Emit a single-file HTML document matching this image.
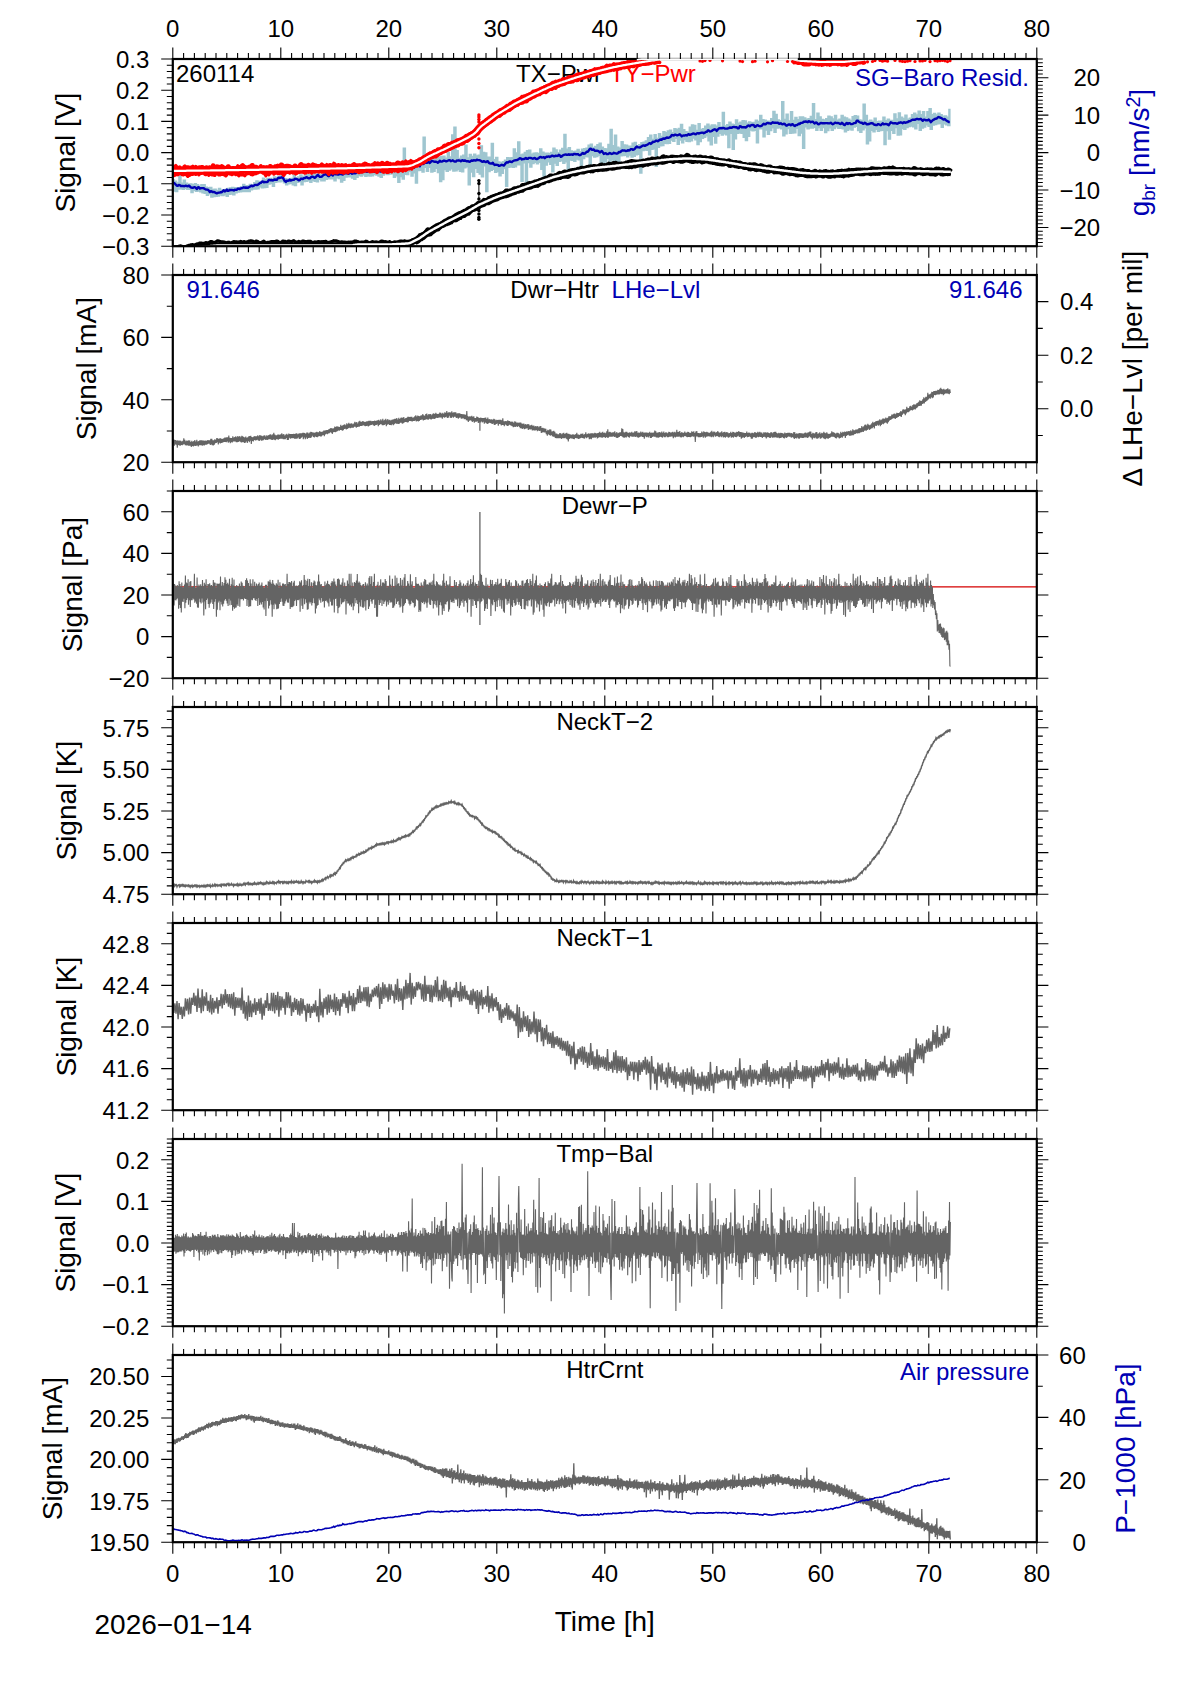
<!DOCTYPE html><html><head><meta charset="utf-8"><title>plot</title><style>html,body{margin:0;padding:0;background:#fff;width:1190px;height:1684px;overflow:hidden;}svg{display:block;}</style></head><body><svg width="1190" height="1684" viewBox="0 0 1190 1684">
<style>text{font-family:'Liberation Sans', Arial, Helvetica, sans-serif;} .a{font-size:24px;} .l{font-size:28px;} .t{font-size:24px;}</style>
<defs>
<clipPath id="c0"><rect x="172.8" y="59" width="864.0" height="187.2"/></clipPath>
<clipPath id="c1"><rect x="172.8" y="275" width="864.0" height="187.2"/></clipPath>
<clipPath id="c2"><rect x="172.8" y="491" width="864.0" height="187.2"/></clipPath>
<clipPath id="c3"><rect x="172.8" y="707" width="864.0" height="187.2"/></clipPath>
<clipPath id="c4"><rect x="172.8" y="923" width="864.0" height="187.2"/></clipPath>
<clipPath id="c5"><rect x="172.8" y="1139" width="864.0" height="187.2"/></clipPath>
<clipPath id="c6"><rect x="172.8" y="1355" width="864.0" height="187.2"/></clipPath>
</defs>
<rect width="1190" height="1684" fill="#fff"/>
<text x="176.0" y="82.3" class="t">260114</text>
<text x="602" y="81.9" text-anchor="end" class="t">TX−Pwr</text>
<text x="609.8" y="81.9" class="t" fill="#ff0000">TY−Pwr</text>
<text x="1029.0" y="85.8" text-anchor="end" class="t" fill="#0000b4">SG−Baro Resid.</text>
<g clip-path="url(#c0)"><path d="M172.8 180.4H173.9V190.5H175.0V181.7H176.1V191.1H177.2V183.4H178.3V188.5H179.4V174.5H180.5V188.2H181.6V183.7H182.7V188.8H183.8V180.7H184.9V188.1H186.0V183.8H187.1V188.9H188.2V184.7H189.3V188.7H190.4V184.5H191.5V192.1H192.6V185.2H193.7V189.8H194.8V184.2H195.9V190.7H197.0V185.2H198.1V190.5H199.2V186.8H200.3V191.3H201.4V185.2H202.5V192.2H203.6V185.3H204.7V192.7H205.8V187.6H206.9V194.7H208.0V188.1H209.1V193.4H210.2V188.0H211.3V196.6H212.4V189.9H213.5V196.1H214.6V189.8H215.7V195.9H216.8V191.0H217.9V195.5H219.0V189.0H220.1V194.6H221.2V190.6H222.3V195.1H223.4V190.2H224.5V194.4H225.6V189.9H226.7V195.8H227.8V188.9H228.9V193.7H230.0V188.5H231.1V193.5H232.2V188.0H233.3V194.3H234.4V188.3H235.5V192.4H236.6V188.1H237.7V191.5H238.8V188.2H239.9V191.4H241.0V187.3H242.1V191.1H243.2V185.0H244.3V191.0H245.4V186.4H246.5V191.1H247.6V186.1H248.7V191.0H249.8V184.9H250.9V189.3H252.0V185.7H253.1V188.5H254.2V183.1H255.3V188.6H256.4V181.4H257.5V188.2H258.6V182.0H259.7V186.4H260.8V182.2H261.9V187.4H263.0V178.8H264.1V187.1H265.2V180.3H266.3V186.9H267.4V178.9H268.5V183.6H269.6V178.9H270.7V183.0H271.8V179.4H272.9V185.7H274.0V177.5H275.1V181.9H276.2V178.0H277.3V181.4H278.4V177.3H279.5V181.2H280.6V175.7H281.7V180.5H282.8V177.2H283.9V182.3H285.0V179.2H286.1V184.3H287.2V179.6H288.3V183.2H289.4V179.5H290.5V182.7H291.6V179.0H292.7V184.2H293.8V175.8H294.9V185.1H296.0V178.4H297.1V181.8H298.2V177.5H299.3V181.1H300.4V175.4H301.5V184.4H302.6V177.3H303.7V181.0H304.8V175.7H305.9V180.9H307.0V174.9H308.1V180.4H309.2V175.3H310.3V181.8H311.4V176.3H312.5V180.1H313.6V174.3H314.7V180.7H315.8V175.2H316.9V181.4H318.0V173.0H319.1V178.9H320.2V175.1H321.3V180.3H322.4V174.8H323.5V180.3H324.6V173.2H325.7V178.9H326.8V173.6H327.9V178.4H329.0V170.0H330.1V178.2H331.2V172.3H332.3V178.3H333.4V173.9H334.5V180.3H335.6V171.6H336.7V177.3H337.8V173.4H338.9V178.0H340.0V169.9H341.1V181.6H342.2V172.4H343.3V179.8H344.4V171.7H345.5V176.6H346.6V172.9H347.7V176.4H348.8V170.6H349.9V176.3H351.0V172.4H352.1V177.6H353.2V172.2H354.3V178.8H355.4V170.9H356.5V176.9H357.6V169.9H358.7V175.0H359.8V171.4H360.9V175.5H362.0V169.2H363.1V174.3H364.2V170.5H365.3V175.9H366.4V170.6H367.5V175.2H368.6V168.6H369.7V175.5H370.8V169.8H371.9V175.3H373.0V168.4H374.1V174.1H375.2V170.0H376.3V174.6H377.4V168.6H378.5V175.5H379.6V170.2H380.7V176.8H381.8V168.5H382.9V174.6H384.0V169.8H385.1V173.4H386.2V169.7H387.3V174.0H388.4V167.9H389.5V173.5H390.6V168.2H391.7V173.4H392.8V165.8H393.9V176.9H395.0V168.3H396.1V175.4H397.2V168.0H398.3V181.8H399.4V163.2H400.5V176.0H401.6V164.8H402.7V178.6H403.8V148.7H404.9V173.7H406.0V162.4H407.1V174.1H408.2V164.3H409.3V170.9H410.4V163.2H411.5V175.5H412.6V161.3H413.7V172.4H414.8V162.8H415.9V182.6H417.0V160.7H418.1V170.1H419.2V159.0H420.3V169.7H421.4V159.0H422.5V171.6H423.6V137.8H424.7V166.8H425.8V158.3H426.9V170.7H428.0V155.3H429.1V166.9H430.2V153.9H431.3V171.6H432.4V156.5H433.5V170.8H434.6V158.8H435.7V167.9H436.8V157.2H437.9V172.1H439.0V157.7H440.1V181.0H441.2V157.1H442.3V179.1H443.4V156.8H444.5V169.0H445.6V158.7H446.7V170.7H447.8V153.0H448.9V169.5H450.0V157.4H451.1V168.3H452.2V135.4H453.3V170.6H454.4V127.8H455.5V170.3H456.6V151.2H457.7V169.0H458.8V159.0H459.9V170.7H461.0V156.7H462.1V171.3H463.2V155.8H464.3V167.2H465.4V145.8H466.5V166.3H467.6V158.5H468.7V184.4H469.8V155.0H470.9V171.6H472.0V157.0H473.1V176.0H474.2V154.7H475.3V167.9H476.4V156.4H477.5V171.8H478.6V155.7H479.7V173.5H480.8V146.5H481.9V176.2H483.0V153.0H484.1V165.3H485.2V153.5H486.3V191.0H487.4V157.8H488.5V171.1H489.6V157.6H490.7V169.9H491.8V143.9H492.9V168.8H494.0V160.3H495.1V171.7H496.2V157.9H497.3V171.1H498.4V162.4H499.5V175.3H500.6V163.3H501.7V172.7H502.8V162.1H503.9V168.1H505.0V160.7H506.1V185.7H507.2V158.2H508.3V166.9H509.4V158.4H510.5V166.3H511.6V158.2H512.7V166.8H513.8V149.5H514.9V166.2H516.0V153.5H517.1V164.3H518.2V142.4H519.3V164.4H520.4V155.5H521.5V180.9H522.6V154.6H523.7V162.4H524.8V152.9H525.9V183.7H527.0V151.1H528.1V162.0H529.2V150.7H530.3V166.6H531.4V154.8H532.5V163.1H533.6V153.7H534.7V161.7H535.8V153.4H536.9V163.2H538.0V153.9H539.1V161.7H540.2V149.4H541.3V168.7H542.4V152.8H543.5V183.9H544.6V153.6H545.7V164.5H546.8V153.7H547.9V161.4H549.0V153.9H550.1V163.7H551.2V153.0H552.3V171.3H553.4V148.7H554.5V162.6H555.6V150.5H556.7V164.7H557.8V153.3H558.9V160.7H560.0V150.8H561.1V160.4H562.2V149.0H563.3V162.9H564.4V135.0H565.5V161.3H566.6V149.7H567.7V168.9H568.8V148.1H569.9V159.5H571.0V151.4H572.1V159.9H573.2V152.1H574.3V160.8H575.4V151.8H576.5V158.6H577.6V150.0H578.7V159.4H579.8V152.1H580.9V168.0H582.0V149.6H583.1V158.1H584.2V149.1H585.3V156.1H586.4V148.7H587.5V156.3H588.6V145.8H589.7V164.6H590.8V144.7H591.9V155.0H593.0V148.0H594.1V156.5H595.2V146.9H596.3V156.1H597.4V145.1H598.5V154.7H599.6V143.7H600.7V161.7H601.8V147.8H602.9V161.8H604.0V149.1H605.1V161.5H606.2V149.4H607.3V157.7H608.4V145.0H609.5V161.3H610.6V129.9H611.7V159.2H612.8V146.3H613.9V160.9H615.0V135.7H616.1V164.3H617.2V147.7H618.3V161.3H619.4V148.7H620.5V155.2H621.6V142.2H622.7V155.0H623.8V145.5H624.9V154.8H626.0V145.7H627.1V156.3H628.2V146.8H629.3V154.5H630.4V146.6H631.5V156.6H632.6V143.8H633.7V155.8H634.8V143.0H635.9V154.4H637.0V146.2H638.1V153.8H639.2V145.2H640.3V172.6H641.4V143.2H642.5V150.0H643.6V142.7H644.7V149.6H645.8V141.5H646.9V149.7H648.0V138.3H649.1V154.2H650.2V135.8H651.3V148.8H652.4V139.9H653.5V148.4H654.6V135.2H655.7V165.8H656.8V139.0H657.9V146.7H659.0V134.1H660.1V145.4H661.2V136.9H662.3V145.1H663.4V132.3H664.5V142.8H665.6V133.2H666.7V143.0H667.8V131.4H668.9V142.7H670.0V130.7H671.1V139.5H672.2V133.1H673.3V140.7H674.4V129.1H675.5V137.7H676.6V130.0H677.7V143.9H678.8V129.0H679.9V139.6H681.0V124.9H682.1V142.3H683.2V130.3H684.3V139.1H685.4V132.3H686.5V140.8H687.6V132.7H688.7V141.0H689.8V127.7H690.9V140.2H692.0V125.4H693.1V137.5H694.2V126.0H695.3V139.3H696.4V130.9H697.5V144.0H698.6V124.1H699.7V141.0H700.8V129.9H701.9V137.8H703.0V129.1H704.1V136.9H705.2V126.7H706.3V135.2H707.4V124.8H708.5V140.3H709.6V126.6H710.7V144.4H711.8V125.4H712.9V135.8H714.0V125.4H715.1V142.6H716.2V126.8H717.3V135.6H718.4V123.1H719.5V132.8H720.6V127.1H721.7V134.6H722.8V112.9H723.9V133.2H725.0V126.4H726.1V134.2H727.2V125.1H728.3V147.0H729.4V122.6H730.5V132.9H731.6V124.7H732.7V148.9H733.8V125.3H734.9V138.3H736.0V120.4H737.1V132.7H738.2V123.7H739.3V132.2H740.4V122.7H741.5V132.9H742.6V121.3H743.7V136.8H744.8V121.4H745.9V140.1H747.0V123.6H748.1V135.8H749.2V122.4H750.3V129.5H751.4V123.3H752.5V130.3H753.6V123.0H754.7V129.7H755.8V120.6H756.9V142.2H758.0V122.0H759.1V128.3H760.2V115.9H761.3V128.3H762.4V120.3H763.5V136.3H764.6V120.6H765.7V129.6H766.8V121.6H767.9V133.9H769.0V121.8H770.1V130.1H771.2V119.3H772.3V127.4H773.4V111.9H774.5V131.7H775.6V115.0H776.7V127.5H777.8V120.5H778.9V127.3H780.0V121.5H781.1V128.2H782.2V102.2H783.3V135.4H784.4V120.0H785.5V133.4H786.6V114.7H787.7V128.0H788.8V121.4H789.9V132.9H791.0V112.3H792.1V132.6H793.2V121.0H794.3V132.2H795.4V117.9H796.5V127.8H797.6V120.3H798.7V135.0H799.8V117.4H800.9V132.5H802.0V117.4H803.1V147.8H804.2V118.4H805.3V126.3H806.4V119.8H807.5V128.4H808.6V119.3H809.7V127.5H810.8V117.0H811.9V127.6H813.0V104.3H814.1V126.9H815.2V120.2H816.3V129.9H817.4V113.7H818.5V127.1H819.6V117.5H820.7V129.7H821.8V119.9H822.9V127.1H824.0V120.5H825.1V132.1H826.2V119.1H827.3V130.1H828.4V116.6H829.5V127.4H830.6V117.5H831.7V129.8H832.8V119.4H833.9V128.1H835.0V116.0H836.1V126.4H837.2V120.7H838.3V127.8H839.4V119.6H840.5V127.9H841.6V115.9H842.7V128.4H843.8V117.7H844.9V131.3H846.0V118.4H847.1V129.7H848.2V119.7H849.3V128.5H850.4V120.9H851.5V129.5H852.6V117.2H853.7V126.5H854.8V116.2H855.9V125.8H857.0V116.7H858.1V130.0H859.2V120.5H860.3V131.9H861.4V121.0H862.5V129.3H863.6V104.6H864.7V127.3H865.8V116.0H866.9V143.4H868.0V121.7H869.1V140.3H870.2V120.8H871.3V129.8H872.4V122.0H873.5V131.2H874.6V118.6H875.7V128.8H876.8V122.3H877.9V130.9H879.0V121.6H880.1V130.1H881.2V121.7H882.3V129.9H883.4V117.7H884.5V144.0H885.6V121.1H886.7V130.0H887.8V119.7H888.9V138.6H890.0V120.9H891.1V129.9H892.2V121.0H893.3V132.7H894.4V114.5H895.5V127.1H896.6V119.5H897.7V134.5H898.8V113.4H899.9V134.3H901.0V117.8H902.1V128.1H903.2V118.9H904.3V128.8H905.4V115.6H906.5V127.0H907.6V119.6H908.7V126.0H909.8V118.7H910.9V125.5H912.0V115.1H913.1V126.2H914.2V113.6H915.3V128.3H916.4V115.5H917.5V122.8H918.6V111.6H919.7V129.7H920.8V115.3H921.9V127.5H923.0V112.2H924.1V126.5H925.2V117.6H926.3V124.2H927.4V112.2H928.5V125.7H929.6V109.2H930.7V128.9H931.8V115.2H932.9V124.6H934.0V114.0H935.1V124.0H936.2V115.5H937.3V123.3H938.4V113.8H939.5V123.0H940.6V115.2H941.7V126.7H942.8V116.7H943.9V123.3H945.0V116.5H946.1V124.4H947.2V117.7H948.3V125.1H949.4V108.7" stroke="#9fc6d0" stroke-width="2.4" fill="none" stroke-linejoin="miter"/><polyline points="172.8,182.8 173.8,182.9 174.8,183.5 175.8,184.7 176.8,185.7 177.8,185.7 178.8,184.9 179.8,185.1 180.8,186.0 181.8,186.0 182.8,185.9 183.8,186.2 184.8,186.0 185.8,185.7 186.8,186.1 187.8,186.2 188.8,185.6 189.8,186.3 190.8,187.3 191.8,187.7 192.8,187.8 193.8,187.4 194.8,187.1 195.8,187.9 196.8,189.0 197.8,187.4 198.8,187.2 199.8,188.6 200.8,188.2 201.8,188.1 202.8,188.1 203.8,188.3 204.8,189.0 205.8,189.5 206.8,189.6 207.8,189.7 208.8,190.6 209.8,191.9 210.8,191.2 211.8,191.5 212.8,192.1 213.8,191.9 214.8,192.3 215.8,192.9 216.8,193.3 217.8,192.9 218.8,192.6 219.8,192.6 220.8,192.2 221.8,192.2 222.8,191.1 223.8,190.3 224.8,191.4 225.8,190.8 226.8,189.6 227.8,190.9 228.8,190.7 229.8,189.8 230.8,190.2 231.8,189.9 232.8,190.1 233.8,190.5 234.8,189.6 235.8,189.9 236.8,189.7 237.8,188.6 238.8,188.8 239.8,189.0 240.8,188.4 241.8,188.3 242.8,187.7 243.8,187.2 244.8,187.7 245.8,187.5 246.8,187.7 247.8,187.9 248.8,187.3 249.8,186.8 250.8,186.1 251.8,185.6 252.8,186.3 253.8,185.8 254.8,184.9 255.8,184.9 256.8,185.0 257.8,184.8 258.8,184.1 259.8,183.1 260.8,182.9 261.8,181.7 262.8,181.5 263.8,182.2 264.8,182.0 265.8,182.1 266.8,182.1 267.8,181.6 268.8,179.9 269.8,179.9 270.8,180.3 271.8,180.0 272.8,180.5 273.8,179.9 274.8,179.4 275.8,179.9 276.8,179.9 277.8,178.3 278.8,177.7 279.8,178.0 280.8,177.6 281.8,177.3 282.8,177.7 283.8,179.4 284.8,181.1 285.8,181.9 286.8,180.6 287.8,180.7 288.8,180.5 289.8,179.6 290.8,180.5 291.8,180.2 292.8,179.9 293.8,179.8 294.8,178.8 295.8,178.9 296.8,179.0 297.8,179.5 298.8,180.4 299.8,180.1 300.8,178.7 301.8,178.6 302.8,179.1 303.8,178.3 304.8,178.1 305.8,177.5 306.8,177.3 307.8,177.9 308.8,178.4 309.8,178.2 310.8,177.4 311.8,176.8 312.8,176.6 313.8,177.4 314.8,177.8 315.8,177.0 316.8,175.9 317.8,174.9 318.8,175.9 319.8,176.8 320.8,176.9 321.8,176.6 322.8,175.7 323.8,174.8 324.8,174.6 325.8,174.2 326.8,174.7 327.8,175.8 328.8,176.2 329.8,175.1 330.8,173.7 331.8,174.7 332.8,175.4 333.8,174.1 334.8,173.6 335.8,174.4 336.8,174.4 337.8,174.5 338.8,174.5 339.8,174.0 340.8,174.1 341.8,174.2 342.8,174.5 343.8,173.7 344.8,173.0 345.8,173.3 346.8,173.2 347.8,173.5 348.8,173.8 349.8,172.6 350.8,172.7 351.8,173.8 352.8,173.4 353.8,173.1 354.8,173.2 355.8,173.2 356.8,171.9 357.8,171.3 358.8,171.9 359.8,171.9 360.8,171.7 361.8,172.1 362.8,171.7 363.8,171.0 364.8,171.0 365.8,171.3 366.8,171.9 367.8,171.4 368.8,171.4 369.8,171.5 370.8,171.9 371.8,171.1 372.8,170.4 373.8,171.9 374.8,171.7 375.8,170.6 376.8,170.3 377.8,171.0 378.8,171.1 379.8,171.3 380.8,171.5 381.8,170.8 382.8,170.5 383.8,170.9 384.8,171.5 385.8,170.9 386.8,169.8 387.8,169.6 388.8,170.3 389.8,171.6 390.8,171.1 391.8,170.5 392.8,170.5 393.8,170.6 394.8,170.0 395.8,169.8 396.8,169.8 397.8,169.1 398.8,169.8 399.8,170.0 400.8,169.6 401.8,169.6 402.8,169.4 403.8,169.6 404.8,169.5 405.8,168.1 406.8,167.4 407.8,167.3 408.8,166.8 409.8,167.6 410.8,167.2 411.8,166.7 412.8,167.5 413.8,167.9 414.8,167.0 415.8,165.6 416.8,165.5 417.8,165.0 418.8,165.4 419.8,166.2 420.8,164.1 421.8,162.8 422.8,164.1 423.8,163.6 424.8,162.5 425.8,162.7 426.8,162.8 427.8,162.4 428.8,162.1 429.8,163.0 430.8,161.9 431.8,160.8 432.8,161.2 433.8,161.5 434.8,161.7 435.8,161.8 436.8,161.9 437.8,162.7 438.8,162.0 439.8,160.7 440.8,161.6 441.8,161.6 442.8,161.2 443.8,160.6 444.8,160.7 445.8,161.3 446.8,161.2 447.8,160.7 448.8,160.2 449.8,160.2 450.8,161.2 451.8,160.8 452.8,160.3 453.8,161.2 454.8,161.6 455.8,161.6 456.8,160.5 457.8,160.6 458.8,160.3 459.8,160.6 460.8,161.3 461.8,160.5 462.8,160.3 463.8,160.9 464.8,160.4 465.8,160.9 466.8,161.3 467.8,161.2 468.8,161.5 469.8,161.7 470.8,161.0 471.8,160.4 472.8,160.9 473.8,160.1 474.8,160.5 475.8,160.6 476.8,159.8 477.8,160.0 478.8,160.1 479.8,160.3 480.8,160.8 481.8,161.6 482.8,161.8 483.8,161.1 484.8,161.7 485.8,162.1 486.8,161.5 487.8,161.3 488.8,162.7 489.8,163.4 490.8,163.5 491.8,163.5 492.8,162.7 493.8,164.3 494.8,165.0 495.8,164.6 496.8,164.9 497.8,164.9 498.8,165.9 499.8,165.7 500.8,165.2 501.8,164.8 502.8,165.2 503.8,165.6 504.8,164.5 505.8,163.0 506.8,162.3 507.8,162.6 508.8,161.8 509.8,161.4 510.8,161.9 511.8,162.1 512.8,161.2 513.8,160.7 514.8,160.4 515.8,160.2 516.8,160.1 517.8,159.6 518.8,159.0 519.8,158.3 520.8,158.4 521.8,159.5 522.8,159.0 523.8,159.1 524.8,158.7 525.8,158.0 526.8,158.8 527.8,158.9 528.8,157.9 529.8,157.9 530.8,158.0 531.8,158.3 532.8,158.8 533.8,158.2 534.8,158.0 535.8,158.8 536.8,159.1 537.8,158.6 538.8,158.0 539.8,157.2 540.8,156.9 541.8,157.6 542.8,157.4 543.8,157.1 544.8,158.2 545.8,157.2 546.8,156.6 547.8,156.7 548.8,156.4 549.8,157.0 550.8,156.5 551.8,155.6 552.8,155.8 553.8,156.4 554.8,156.3 555.8,155.6 556.8,156.0 557.8,155.9 558.8,154.8 559.8,155.3 560.8,156.8 561.8,156.4 562.8,155.3 563.8,155.0 564.8,154.6 565.8,154.5 566.8,154.8 567.8,154.9 568.8,154.3 569.8,154.9 570.8,154.5 571.8,154.4 572.8,154.9 573.8,154.0 574.8,154.0 575.8,154.2 576.8,154.2 577.8,154.1 578.8,154.8 579.8,155.2 580.8,154.8 581.8,153.7 582.8,152.9 583.8,153.7 584.8,153.6 585.8,152.6 586.8,151.8 587.8,151.7 588.8,150.4 589.8,149.0 590.8,148.7 591.8,149.7 592.8,149.9 593.8,149.4 594.8,150.8 595.8,150.9 596.8,150.6 597.8,150.9 598.8,151.3 599.8,152.4 600.8,151.7 601.8,150.9 602.8,152.4 603.8,153.9 604.8,153.4 605.8,153.3 606.8,154.1 607.8,154.1 608.8,153.6 609.8,152.9 610.8,153.6 611.8,154.0 612.8,153.6 613.8,152.8 614.8,153.3 615.8,153.4 616.8,153.7 617.8,153.4 618.8,152.0 619.8,152.2 620.8,151.6 621.8,150.6 622.8,150.3 623.8,150.6 624.8,150.4 625.8,151.1 626.8,150.9 627.8,150.2 628.8,150.6 629.8,150.2 630.8,149.1 631.8,149.1 632.8,149.8 633.8,149.5 634.8,148.8 635.8,147.5 636.8,146.6 637.8,147.2 638.8,147.4 639.8,147.5 640.8,146.9 641.8,146.3 642.8,145.6 643.8,145.4 644.8,145.9 645.8,145.2 646.8,145.0 647.8,144.5 648.8,143.5 649.8,143.1 650.8,143.9 651.8,143.0 652.8,141.8 653.8,142.0 654.8,141.6 655.8,140.8 656.8,140.7 657.8,141.3 658.8,140.5 659.8,139.7 660.8,139.5 661.8,139.7 662.8,138.7 663.8,138.5 664.8,138.7 665.8,138.1 666.8,137.5 667.8,137.7 668.8,137.8 669.8,137.3 670.8,136.5 671.8,135.0 672.8,135.3 673.8,135.5 674.8,134.8 675.8,134.7 676.8,135.3 677.8,135.2 678.8,134.7 679.8,134.3 680.8,135.3 681.8,136.4 682.8,135.6 683.8,135.4 684.8,135.5 685.8,135.1 686.8,135.5 687.8,134.6 688.8,134.2 689.8,134.9 690.8,134.5 691.8,134.2 692.8,133.6 693.8,133.4 694.8,134.1 695.8,134.2 696.8,133.4 697.8,133.2 698.8,133.5 699.8,133.2 700.8,132.9 701.8,132.6 702.8,132.6 703.8,133.2 704.8,132.7 705.8,131.9 706.8,131.9 707.8,130.5 708.8,130.5 709.8,131.5 710.8,131.4 711.8,131.0 712.8,130.1 713.8,129.7 714.8,129.3 715.8,129.7 716.8,130.9 717.8,129.5 718.8,128.5 719.8,128.3 720.8,128.1 721.8,128.3 722.8,128.0 723.8,127.9 724.8,128.6 725.8,128.6 726.8,128.6 727.8,128.5 728.8,128.1 729.8,127.5 730.8,127.8 731.8,127.8 732.8,127.1 733.8,126.9 734.8,127.2 735.8,127.2 736.8,127.2 737.8,128.4 738.8,128.2 739.8,126.2 740.8,126.4 741.8,127.4 742.8,127.1 743.8,127.2 744.8,127.3 745.8,127.5 746.8,126.8 747.8,125.6 748.8,125.5 749.8,126.3 750.8,125.4 751.8,125.0 752.8,124.9 753.8,125.2 754.8,126.8 755.8,126.5 756.8,125.4 757.8,125.2 758.8,125.9 759.8,126.2 760.8,126.1 761.8,125.7 762.8,124.5 763.8,123.8 764.8,124.4 765.8,124.3 766.8,123.1 767.8,122.9 768.8,123.3 769.8,123.4 770.8,123.7 771.8,122.9 772.8,122.2 773.8,122.8 774.8,122.7 775.8,122.7 776.8,122.9 777.8,122.6 778.8,123.5 779.8,123.8 780.8,123.3 781.8,124.1 782.8,124.3 783.8,123.7 784.8,123.9 785.8,125.4 786.8,125.7 787.8,124.8 788.8,124.5 789.8,124.5 790.8,125.3 791.8,124.5 792.8,124.2 793.8,125.5 794.8,126.0 795.8,125.1 796.8,125.1 797.8,124.5 798.8,123.7 799.8,124.0 800.8,122.9 801.8,122.9 802.8,122.6 803.8,121.6 804.8,121.9 805.8,121.4 806.8,121.8 807.8,122.2 808.8,121.2 809.8,121.6 810.8,122.3 811.8,121.8 812.8,121.7 813.8,122.7 814.8,123.5 815.8,122.5 816.8,122.7 817.8,124.0 818.8,124.2 819.8,123.6 820.8,122.9 821.8,123.2 822.8,123.3 823.8,123.2 824.8,123.2 825.8,123.1 826.8,123.1 827.8,123.2 828.8,123.4 829.8,123.2 830.8,122.8 831.8,123.6 832.8,124.2 833.8,123.7 834.8,122.8 835.8,122.8 836.8,123.1 837.8,123.0 838.8,123.1 839.8,123.9 840.8,124.0 841.8,122.7 842.8,123.5 843.8,124.7 844.8,125.1 845.8,123.7 846.8,122.9 847.8,123.9 848.8,123.2 849.8,123.3 850.8,124.0 851.8,124.1 852.8,123.9 853.8,123.1 854.8,123.0 855.8,122.8 856.8,120.6 857.8,120.6 858.8,121.8 859.8,122.3 860.8,122.7 861.8,122.6 862.8,123.7 863.8,123.7 864.8,122.7 865.8,123.3 866.8,124.3 867.8,124.2 868.8,124.0 869.8,123.8 870.8,123.3 871.8,123.2 872.8,123.4 873.8,124.4 874.8,124.8 875.8,125.0 876.8,125.1 877.8,124.1 878.8,124.3 879.8,124.8 880.8,125.3 881.8,124.2 882.8,123.3 883.8,124.3 884.8,124.1 885.8,123.9 886.8,124.1 887.8,124.6 888.8,125.2 889.8,123.6 890.8,122.2 891.8,122.7 892.8,123.3 893.8,123.4 894.8,123.1 895.8,123.3 896.8,123.8 897.8,123.5 898.8,122.8 899.8,122.7 900.8,122.3 901.8,122.6 902.8,123.2 903.8,122.3 904.8,122.5 905.8,122.7 906.8,122.2 907.8,122.0 908.8,121.2 909.8,121.3 910.8,120.7 911.8,120.0 912.8,119.6 913.8,119.7 914.8,119.9 915.8,119.3 916.8,118.9 917.8,119.0 918.8,119.4 919.8,119.1 920.8,118.8 921.8,119.8 922.8,120.8 923.8,119.6 924.8,119.6 925.8,120.4 926.8,120.1 927.8,120.2 928.8,119.5 929.8,120.5 930.8,122.2 931.8,121.2 932.8,120.1 933.8,119.7 934.8,119.0 935.8,118.7 936.8,118.6 937.8,117.4 938.8,117.0 939.8,117.5 940.8,117.8 941.8,118.3 942.8,119.2 943.8,119.6 944.8,118.9 945.8,120.1 946.8,120.9 947.8,121.3 948.8,122.0 949.8,122.0" stroke="#0000b4" stroke-width="2.4" fill="none" stroke-linejoin="round"/><polyline points="172.8,249.0 173.8,248.9 174.8,248.9 175.8,248.8 176.8,248.8 177.8,248.7 178.8,248.7 179.8,248.6 180.8,248.5 181.8,248.5 182.8,248.4 183.8,248.4 184.8,248.3 185.8,248.2 186.8,248.2 187.8,248.1 188.8,248.1 189.8,248.0 190.8,247.9 191.8,247.8 192.8,247.7 193.8,247.7 194.8,247.6 195.8,247.5 196.8,247.4 197.8,247.3 198.8,247.2 199.8,247.1 200.8,247.0 201.8,246.9 202.8,246.8 203.8,246.8 204.8,246.7 205.8,246.6 206.8,246.5 207.8,246.4 208.8,246.3 209.8,246.2 210.8,246.1 211.8,246.0 212.8,245.9 213.8,245.8 214.8,245.7 215.8,245.7 216.8,245.6 217.8,245.6 218.8,245.6 219.8,245.6 220.8,245.6 221.8,245.6 222.8,245.6 223.8,245.6 224.8,245.6 225.8,245.6 226.8,245.6 227.8,245.6 228.8,245.6 229.8,245.6 230.8,245.6 231.8,245.6 232.8,245.6 233.8,245.6 234.8,245.6 235.8,245.6 236.8,245.6 237.8,245.6 238.8,245.6 239.8,245.6 240.8,245.6 241.8,245.6 242.8,245.6 243.8,245.6 244.8,245.6 245.8,245.6 246.8,245.6 247.8,245.6 248.8,245.6 249.8,245.6 250.8,245.6 251.8,245.6 252.8,245.6 253.8,245.6 254.8,245.6 255.8,245.6 256.8,245.6 257.8,245.6 258.8,245.6 259.8,245.6 260.8,245.6 261.8,245.6 262.8,245.6 263.8,245.6 264.8,245.6 265.8,245.6 266.8,245.6 267.8,245.6 268.8,245.6 269.8,245.6 270.8,245.6 271.8,245.6 272.8,245.6 273.8,245.6 274.8,245.6 275.8,245.6 276.8,245.6 277.8,245.6 278.8,245.6 279.8,245.6 280.8,245.6 281.8,245.6 282.8,245.6 283.8,245.6 284.8,245.6 285.8,245.6 286.8,245.6 287.8,245.6 288.8,245.6 289.8,245.6 290.8,245.6 291.8,245.6 292.8,245.6 293.8,245.6 294.8,245.6 295.8,245.6 296.8,245.6 297.8,245.6 298.8,245.6 299.8,245.6 300.8,245.6 301.8,245.6 302.8,245.6 303.8,245.6 304.8,245.6 305.8,245.6 306.8,245.6 307.8,245.6 308.8,245.6 309.8,245.6 310.8,245.6 311.8,245.6 312.8,245.6 313.8,245.5 314.8,245.5 315.8,245.5 316.8,245.5 317.8,245.5 318.8,245.5 319.8,245.5 320.8,245.5 321.8,245.5 322.8,245.5 323.8,245.5 324.8,245.5 325.8,245.5 326.8,245.5 327.8,245.5 328.8,245.5 329.8,245.5 330.8,245.5 331.8,245.5 332.8,245.5 333.8,245.5 334.8,245.5 335.8,245.5 336.8,245.5 337.8,245.5 338.8,245.5 339.8,245.4 340.8,245.4 341.8,245.4 342.8,245.4 343.8,245.4 344.8,245.4 345.8,245.4 346.8,245.4 347.8,245.4 348.8,245.4 349.8,245.4 350.8,245.4 351.8,245.4 352.8,245.3 353.8,245.1 354.8,245.0 355.8,244.8 356.8,244.7 357.8,244.6 358.8,244.6 359.8,244.6 360.8,244.6 361.8,244.6 362.8,244.6 363.8,244.6 364.8,244.6 365.8,244.6 366.8,244.6 367.8,244.6 368.8,244.6 369.8,244.6 370.8,244.6 371.8,244.6 372.8,244.6 373.8,244.5 374.8,244.5 375.8,244.5 376.8,244.5 377.8,244.5 378.8,244.5 379.8,244.5 380.8,244.5 381.8,244.5 382.8,244.5 383.8,244.5 384.8,244.5 385.8,244.5 386.8,244.5 387.8,244.5 388.8,244.5 389.8,244.5 390.8,244.4 391.8,244.4 392.8,244.3 393.8,244.3 394.8,244.2 395.8,244.2 396.8,244.1 397.8,244.1 398.8,244.0 399.8,243.9 400.8,243.9 401.8,243.8 402.8,243.8 403.8,243.7 404.8,243.7 405.8,243.6 406.8,243.5 407.8,243.4 408.8,243.3 409.8,243.0 410.8,242.6 411.8,242.2 412.8,241.7 413.8,241.2 414.8,240.7 415.8,240.2 416.8,239.7 417.8,239.2 418.8,238.6 419.8,238.0 420.8,237.3 421.8,236.6 422.8,235.9 423.8,235.2 424.8,234.5 425.8,233.8 426.8,233.1 427.8,232.5 428.8,231.8 429.8,231.2 430.8,230.6 431.8,230.1 432.8,229.5 433.8,229.0 434.8,228.4 435.8,227.9 436.8,227.4 437.8,226.8 438.8,226.3 439.8,225.7 440.8,225.2 441.8,224.6 442.8,224.1 443.8,223.5 444.8,223.0 445.8,222.4 446.8,221.9 447.8,221.3 448.8,220.8 449.8,220.3 450.8,219.8 451.8,219.3 452.8,218.8 453.8,218.3 454.8,217.8 455.8,217.3 456.8,216.8 457.8,216.3 458.8,215.8 459.8,215.3 460.8,214.8 461.8,214.3 462.8,213.8 463.8,213.3 464.8,212.8 465.8,212.3 466.8,211.8 467.8,211.3 468.8,210.7 469.8,210.1 470.8,209.5 471.8,209.0 472.8,208.4 473.8,207.8 474.8,207.2 475.8,206.6 476.8,206.0 477.8,205.5 478.8,204.9 479.8,204.4 480.8,204.0 481.8,203.5 482.8,203.1 483.8,202.6 484.8,202.2 485.8,201.7 486.8,201.3 487.8,200.9 488.8,200.4 489.8,200.0 490.8,199.5 491.8,199.1 492.8,198.6 493.8,198.2 494.8,197.8 495.8,197.4 496.8,197.0 497.8,196.6 498.8,196.2 499.8,195.9 500.8,195.5 501.8,195.2 502.8,194.8 503.8,194.5 504.8,194.1 505.8,193.8 506.8,193.4 507.8,193.0 508.8,192.7 509.8,192.3 510.8,192.0 511.8,191.6 512.8,191.3 513.8,190.9 514.8,190.6 515.8,190.2 516.8,189.9 517.8,189.5 518.8,189.2 519.8,188.8 520.8,188.5 521.8,188.1 522.8,187.8 523.8,187.4 524.8,187.1 525.8,186.7 526.8,186.4 527.8,186.0 528.8,185.7 529.8,185.3 530.8,185.0 531.8,184.6 532.8,184.3 533.8,183.9 534.8,183.6 535.8,183.2 536.8,182.9 537.8,182.5 538.8,182.2 539.8,181.8 540.8,181.5 541.8,181.1 542.8,180.8 543.8,180.4 544.8,180.1 545.8,179.8 546.8,179.4 547.8,179.1 548.8,178.7 549.8,178.4 550.8,178.0 551.8,177.7 552.8,177.3 553.8,177.0 554.8,176.7 555.8,176.4 556.8,176.2 557.8,175.9 558.8,175.7 559.8,175.4 560.8,175.1 561.8,174.9 562.8,174.6 563.8,174.4 564.8,174.1 565.8,173.9 566.8,173.6 567.8,173.4 568.8,173.1 569.8,172.9 570.8,172.6 571.8,172.4 572.8,172.1 573.8,171.9 574.8,171.7 575.8,171.5 576.8,171.3 577.8,171.1 578.8,170.9 579.8,170.7 580.8,170.5 581.8,170.3 582.8,170.1 583.8,169.9 584.8,169.7 585.8,169.5 586.8,169.3 587.8,169.1 588.8,168.9 589.8,168.7 590.8,168.5 591.8,168.3 592.8,168.2 593.8,168.0 594.8,167.9 595.8,167.8 596.8,167.7 597.8,167.6 598.8,167.5 599.8,167.4 600.8,167.3 601.8,167.2 602.8,167.1 603.8,167.0 604.8,166.9 605.8,166.8 606.8,166.7 607.8,166.6 608.8,166.5 609.8,166.4 610.8,166.3 611.8,166.2 612.8,166.1 613.8,166.0 614.8,165.9 615.8,165.7 616.8,165.6 617.8,165.5 618.8,165.4 619.8,165.3 620.8,165.2 621.8,165.1 622.8,164.9 623.8,164.8 624.8,164.7 625.8,164.6 626.8,164.5 627.8,164.4 628.8,164.3 629.8,164.1 630.8,164.0 631.8,163.9 632.8,163.7 633.8,163.6 634.8,163.5 635.8,163.4 636.8,163.2 637.8,163.1 638.8,163.0 639.8,162.8 640.8,162.7 641.8,162.6 642.8,162.5 643.8,162.3 644.8,162.2 645.8,162.1 646.8,161.9 647.8,161.8 648.8,161.7 649.8,161.6 650.8,161.4 651.8,161.3 652.8,161.2 653.8,161.1 654.8,161.0 655.8,160.9 656.8,160.7 657.8,160.6 658.8,160.5 659.8,160.4 660.8,160.3 661.8,160.1 662.8,160.0 663.8,159.9 664.8,159.8 665.8,159.7 666.8,159.6 667.8,159.5 668.8,159.4 669.8,159.3 670.8,159.3 671.8,159.2 672.8,159.2 673.8,159.1 674.8,159.0 675.8,159.0 676.8,158.9 677.8,158.9 678.8,158.8 679.8,158.8 680.8,158.7 681.8,158.7 682.8,158.6 683.8,158.6 684.8,158.5 685.8,158.5 686.8,158.5 687.8,158.5 688.8,158.5 689.8,158.5 690.8,158.6 691.8,158.6 692.8,158.7 693.8,158.7 694.8,158.8 695.8,158.8 696.8,158.9 697.8,158.9 698.8,159.0 699.8,159.0 700.8,159.1 701.8,159.2 702.8,159.2 703.8,159.3 704.8,159.3 705.8,159.4 706.8,159.5 707.8,159.6 708.8,159.7 709.8,159.9 710.8,160.0 711.8,160.2 712.8,160.3 713.8,160.5 714.8,160.6 715.8,160.8 716.8,160.9 717.8,161.1 718.8,161.2 719.8,161.4 720.8,161.5 721.8,161.7 722.8,161.8 723.8,162.0 724.8,162.1 725.8,162.3 726.8,162.4 727.8,162.6 728.8,162.8 729.8,162.9 730.8,163.1 731.8,163.3 732.8,163.5 733.8,163.6 734.8,163.8 735.8,164.0 736.8,164.1 737.8,164.3 738.8,164.5 739.8,164.7 740.8,164.8 741.8,165.0 742.8,165.2 743.8,165.3 744.8,165.5 745.8,165.6 746.8,165.8 747.8,165.9 748.8,166.1 749.8,166.2 750.8,166.3 751.8,166.4 752.8,166.6 753.8,166.7 754.8,166.8 755.8,167.0 756.8,167.1 757.8,167.2 758.8,167.3 759.8,167.5 760.8,167.6 761.8,167.7 762.8,167.9 763.8,168.0 764.8,168.1 765.8,168.3 766.8,168.4 767.8,168.5 768.8,168.6 769.8,168.8 770.8,168.9 771.8,169.0 772.8,169.2 773.8,169.3 774.8,169.4 775.8,169.5 776.8,169.7 777.8,169.8 778.8,169.9 779.8,170.1 780.8,170.2 781.8,170.3 782.8,170.4 783.8,170.6 784.8,170.7 785.8,170.8 786.8,170.9 787.8,171.1 788.8,171.2 789.8,171.3 790.8,171.4 791.8,171.6 792.8,171.7 793.8,171.8 794.8,171.9 795.8,172.1 796.8,172.2 797.8,172.3 798.8,172.4 799.8,172.6 800.8,172.7 801.8,172.8 802.8,172.9 803.8,173.0 804.8,173.1 805.8,173.1 806.8,173.2 807.8,173.2 808.8,173.3 809.8,173.3 810.8,173.4 811.8,173.4 812.8,173.5 813.8,173.5 814.8,173.6 815.8,173.6 816.8,173.6 817.8,173.6 818.8,173.7 819.8,173.7 820.8,173.7 821.8,173.7 822.8,173.7 823.8,173.7 824.8,173.7 825.8,173.7 826.8,173.8 827.8,173.8 828.8,173.8 829.8,173.8 830.8,173.7 831.8,173.7 832.8,173.7 833.8,173.6 834.8,173.6 835.8,173.5 836.8,173.5 837.8,173.4 838.8,173.4 839.8,173.3 840.8,173.2 841.8,173.2 842.8,173.1 843.8,173.1 844.8,173.0 845.8,173.0 846.8,172.9 847.8,172.9 848.8,172.8 849.8,172.7 850.8,172.6 851.8,172.6 852.8,172.5 853.8,172.4 854.8,172.3 855.8,172.3 856.8,172.2 857.8,172.1 858.8,172.0 859.8,171.9 860.8,171.9 861.8,171.8 862.8,171.7 863.8,171.6 864.8,171.6 865.8,171.5 866.8,171.4 867.8,171.4 868.8,171.3 869.8,171.3 870.8,171.2 871.8,171.2 872.8,171.1 873.8,171.1 874.8,171.0 875.8,171.0 876.8,170.9 877.8,170.9 878.8,170.8 879.8,170.8 880.8,170.7 881.8,170.7 882.8,170.6 883.8,170.6 884.8,170.6 885.8,170.6 886.8,170.6 887.8,170.6 888.8,170.6 889.8,170.6 890.8,170.6 891.8,170.6 892.8,170.6 893.8,170.6 894.8,170.6 895.8,170.6 896.8,170.6 897.8,170.6 898.8,170.6 899.8,170.6 900.8,170.6 901.8,170.6 902.8,170.7 903.8,170.7 904.8,170.7 905.8,170.7 906.8,170.8 907.8,170.8 908.8,170.8 909.8,170.9 910.8,170.9 911.8,170.9 912.8,170.9 913.8,171.0 914.8,171.0 915.8,171.0 916.8,171.1 917.8,171.1 918.8,171.1 919.8,171.1 920.8,171.2 921.8,171.2 922.8,171.2 923.8,171.2 924.8,171.2 925.8,171.3 926.8,171.3 927.8,171.3 928.8,171.3 929.8,171.4 930.8,171.4 931.8,171.4 932.8,171.4 933.8,171.5 934.8,171.5 935.8,171.5 936.8,171.5 937.8,171.5 938.8,171.6 939.8,171.6 940.8,171.6 941.8,171.6 942.8,171.6 943.8,171.7 944.8,171.7 945.8,171.7 946.8,171.7 947.8,171.7 948.8,171.8 949.8,171.8 950.8,171.8" stroke="#000" stroke-width="6.5" fill="none" stroke-linejoin="round"/><polyline points="172.8,247.0 173.8,247.0 174.8,247.1 175.8,247.1 176.8,247.0 177.8,247.1 178.8,246.4 179.8,246.1 180.8,245.9 181.8,246.3 182.8,246.9 183.8,247.1 184.8,247.0 185.8,246.7 186.8,246.1 187.8,245.9 188.8,245.4 189.8,245.2 190.8,244.9 191.8,244.7 192.8,244.7 193.8,244.9 194.8,245.1 195.8,244.5 196.8,244.1 197.8,243.7 198.8,243.5 199.8,243.1 200.8,243.1 201.8,243.2 202.8,243.6 203.8,243.4 204.8,243.2 205.8,242.6 206.8,242.8 207.8,242.9 208.8,242.8 209.8,241.9 210.8,241.5 211.8,241.5 212.8,242.3 213.8,242.3 214.8,242.4 215.8,242.0 216.8,241.3 217.8,240.8 218.8,241.0 219.8,241.4 220.8,242.1 221.8,241.8 222.8,241.9 223.8,242.1 224.8,242.1 225.8,243.1 226.8,242.6 227.8,242.4 228.8,242.2 229.8,242.7 230.8,243.3 231.8,242.6 232.8,242.2 233.8,241.5 234.8,241.7 235.8,241.9 236.8,241.8 237.8,242.7 238.8,241.9 239.8,241.9 240.8,241.4 241.8,241.8 242.8,242.1 243.8,241.6 244.8,241.9 245.8,242.0 246.8,242.2 247.8,241.7 248.8,241.2 249.8,241.2 250.8,240.8 251.8,241.1 252.8,241.2 253.8,242.1 254.8,242.2 255.8,241.2 256.8,241.2 257.8,241.6 258.8,242.3 259.8,242.6 260.8,242.6 261.8,242.1 262.8,241.6 263.8,241.1 264.8,242.1 265.8,242.5 266.8,242.7 267.8,242.4 268.8,242.3 269.8,242.1 270.8,241.8 271.8,241.5 272.8,241.6 273.8,241.6 274.8,241.7 275.8,241.4 276.8,241.1 277.8,241.3 278.8,242.2 279.8,243.1 280.8,242.3 281.8,241.9 282.8,241.1 283.8,241.5 284.8,241.3 285.8,241.7 286.8,242.0 287.8,241.3 288.8,241.0 289.8,241.2 290.8,241.9 291.8,241.6 292.8,241.0 293.8,240.7 294.8,241.5 295.8,242.3 296.8,242.2 297.8,242.1 298.8,241.4 299.8,241.9 300.8,241.7 301.8,241.5 302.8,241.1 303.8,241.0 304.8,241.7 305.8,241.7 306.8,242.1 307.8,241.4 308.8,241.4 309.8,241.3 310.8,241.4 311.8,242.2 312.8,242.6 313.8,242.4 314.8,241.9 315.8,242.0 316.8,242.0 317.8,241.7 318.8,241.7 319.8,241.8 320.8,242.1 321.8,241.7 322.8,242.0 323.8,241.5 324.8,241.5 325.8,241.3 326.8,242.2 327.8,242.4 328.8,242.6 329.8,242.0 330.8,242.0 331.8,241.5 332.8,241.2 333.8,240.7 334.8,241.0 335.8,240.8 336.8,241.2 337.8,241.3 338.8,242.2 339.8,242.0 340.8,242.1 341.8,241.8 342.8,242.0 343.8,242.0 344.8,242.1 345.8,242.3 346.8,242.3 347.8,242.5 348.8,242.1 349.8,242.5 350.8,242.1 351.8,242.0 352.8,241.8 353.8,241.5 354.8,241.1 355.8,241.0 356.8,241.3 357.8,241.5 358.8,242.1 359.8,242.3 360.8,242.5 361.8,242.0 362.8,242.0 363.8,242.1 364.8,241.9 365.8,241.2 366.8,241.4 367.8,242.0 368.8,242.9 369.8,243.2 370.8,242.4 371.8,241.8 372.8,241.7 373.8,242.0 374.8,242.3 375.8,241.9 376.8,242.1 377.8,242.4 378.8,242.3 379.8,242.0 380.8,241.3 381.8,241.1 382.8,241.3 383.8,241.7 384.8,241.8 385.8,241.7 386.8,242.2 387.8,242.2 388.8,242.0 389.8,241.6 390.8,242.6 391.8,243.0 392.8,243.2 393.8,242.0 394.8,241.9 395.8,242.0 396.8,242.4 397.8,241.9 398.8,241.6 399.8,241.2 400.8,241.2 401.8,241.2 402.8,241.3 403.8,241.3 404.8,240.8 405.8,241.4 406.8,241.4 407.8,241.4 408.8,241.2 409.8,241.3 410.8,241.2 411.8,240.2 412.8,239.7 413.8,239.7 414.8,240.0 415.8,240.0 416.8,237.9 417.8,236.7 418.8,235.9 419.8,234.5 420.8,234.5 421.8,233.9 422.8,234.1 423.8,233.1 424.8,232.3 425.8,231.1 426.8,229.6 427.8,228.9 428.8,229.2 429.8,229.8 430.8,229.2 431.8,228.0 432.8,227.2 433.8,226.5 434.8,225.9 435.8,225.3 436.8,224.8 437.8,224.4 438.8,224.1 439.8,223.9 440.8,223.3 441.8,222.4 442.8,221.8 443.8,221.0 444.8,220.3 445.8,219.9 446.8,219.4 447.8,218.7 448.8,218.0 449.8,217.8 450.8,218.1 451.8,217.3 452.8,216.9 453.8,216.1 454.8,215.3 455.8,214.4 456.8,214.0 457.8,213.5 458.8,213.0 459.8,212.5 460.8,212.2 461.8,211.8 462.8,211.2 463.8,210.6 464.8,210.2 465.8,209.9 466.8,209.0 467.8,208.1 468.8,207.6 469.8,207.8 470.8,206.9 471.8,206.1 472.8,205.8 473.8,206.1 474.8,205.6 475.8,204.6 476.8,203.8 477.8,202.6 478.8,202.1 479.8,202.3 480.8,202.2 481.8,201.5 482.8,200.5 483.8,199.4 484.8,200.0 485.8,199.5 486.8,199.6 487.8,198.4 488.8,197.5 489.8,197.2 490.8,196.8 491.8,196.2 492.8,196.0 493.8,195.5 494.8,195.2 495.8,194.8 496.8,194.7 497.8,194.5 498.8,193.6 499.8,193.4 500.8,193.1 501.8,193.0 502.8,192.7 503.8,192.1 504.8,191.3 505.8,190.2 506.8,190.1 507.8,190.2 508.8,190.4 509.8,190.1 510.8,190.2 511.8,189.7 512.8,188.8 513.8,188.0 514.8,187.8 515.8,188.3 516.8,187.8 517.8,187.2 518.8,187.2 519.8,187.1 520.8,186.5 521.8,185.0 522.8,184.5 523.8,184.5 524.8,184.3 525.8,184.5 526.8,183.8 527.8,183.2 528.8,182.7 529.8,182.5 530.8,182.7 531.8,182.5 532.8,182.0 533.8,181.9 534.8,181.0 535.8,181.4 536.8,180.8 537.8,180.6 538.8,180.0 539.8,179.6 540.8,179.4 541.8,178.8 542.8,178.6 543.8,178.2 544.8,177.7 545.8,177.4 546.8,177.2 547.8,176.7 548.8,176.1 549.8,175.1 550.8,175.1 551.8,175.1 552.8,175.9 553.8,175.7 554.8,175.4 555.8,174.9 556.8,174.8 557.8,173.6 558.8,172.8 559.8,172.4 560.8,172.8 561.8,172.7 562.8,172.1 563.8,171.2 564.8,171.0 565.8,171.4 566.8,171.6 567.8,171.4 568.8,170.6 569.8,170.4 570.8,169.9 571.8,170.0 572.8,169.5 573.8,169.5 574.8,169.3 575.8,169.4 576.8,168.8 577.8,168.4 578.8,168.2 579.8,168.0 580.8,167.6 581.8,167.4 582.8,167.7 583.8,167.5 584.8,167.4 585.8,167.2 586.8,166.6 587.8,166.6 588.8,166.2 589.8,166.3 590.8,165.9 591.8,166.0 592.8,165.9 593.8,165.6 594.8,165.6 595.8,166.1 596.8,166.8 597.8,166.3 598.8,165.4 599.8,164.5 600.8,164.3 601.8,164.1 602.8,164.5 603.8,164.8 604.8,164.7 605.8,164.9 606.8,164.2 607.8,164.2 608.8,163.2 609.8,163.6 610.8,163.7 611.8,164.0 612.8,162.8 613.8,162.5 614.8,162.5 615.8,162.4 616.8,163.1 617.8,163.0 618.8,164.0 619.8,163.2 620.8,163.3 621.8,163.2 622.8,164.0 623.8,163.3 624.8,163.4 625.8,162.2 626.8,162.5 627.8,161.6 628.8,161.8 629.8,161.0 630.8,160.9 631.8,160.5 632.8,160.9 633.8,160.9 634.8,161.2 635.8,161.1 636.8,161.3 637.8,161.3 638.8,161.3 639.8,161.2 640.8,161.0 641.8,160.7 642.8,160.3 643.8,160.2 644.8,160.4 645.8,159.9 646.8,159.7 647.8,159.2 648.8,159.2 649.8,159.1 650.8,158.9 651.8,158.1 652.8,158.4 653.8,158.3 654.8,159.1 655.8,158.3 656.8,158.5 657.8,157.7 658.8,158.4 659.8,158.0 660.8,158.2 661.8,156.8 662.8,156.0 663.8,155.9 664.8,156.4 665.8,156.8 666.8,156.7 667.8,157.0 668.8,157.0 669.8,157.0 670.8,156.4 671.8,156.2 672.8,156.3 673.8,156.4 674.8,156.5 675.8,156.5 676.8,156.5 677.8,156.8 678.8,156.9 679.8,156.5 680.8,155.9 681.8,156.0 682.8,156.2 683.8,156.6 684.8,156.0 685.8,155.3 686.8,154.4 687.8,154.5 688.8,155.1 689.8,156.5 690.8,157.0 691.8,157.4 692.8,157.0 693.8,156.4 694.8,156.2 695.8,156.0 696.8,157.1 697.8,156.9 698.8,156.6 699.8,156.1 700.8,156.3 701.8,156.8 702.8,156.9 703.8,157.0 704.8,156.9 705.8,156.8 706.8,157.5 707.8,157.6 708.8,158.0 709.8,157.2 710.8,157.0 711.8,157.3 712.8,157.8 713.8,158.9 714.8,159.1 715.8,159.3 716.8,158.8 717.8,159.2 718.8,159.3 719.8,160.3 720.8,160.1 721.8,160.5 722.8,160.2 723.8,160.3 724.8,160.2 725.8,160.8 726.8,160.6 727.8,160.4 728.8,159.9 729.8,160.2 730.8,161.1 731.8,161.1 732.8,161.9 733.8,161.8 734.8,161.8 735.8,161.5 736.8,161.8 737.8,162.0 738.8,162.1 739.8,162.0 740.8,162.4 741.8,163.2 742.8,163.5 743.8,163.9 744.8,163.6 745.8,164.2 746.8,164.7 747.8,164.7 748.8,164.4 749.8,163.8 750.8,164.2 751.8,164.2 752.8,164.1 753.8,163.8 754.8,163.9 755.8,164.2 756.8,165.0 757.8,165.5 758.8,165.5 759.8,165.1 760.8,164.6 761.8,165.1 762.8,165.4 763.8,166.2 764.8,166.3 765.8,166.6 766.8,166.5 767.8,166.3 768.8,166.0 769.8,166.0 770.8,166.3 771.8,167.4 772.8,167.6 773.8,167.7 774.8,168.1 775.8,168.3 776.8,168.3 777.8,167.5 778.8,167.5 779.8,167.1 780.8,167.5 781.8,167.2 782.8,167.7 783.8,167.5 784.8,168.2 785.8,168.5 786.8,168.6 787.8,168.3 788.8,168.5 789.8,168.7 790.8,168.8 791.8,168.5 792.8,168.5 793.8,168.8 794.8,168.9 795.8,169.3 796.8,169.4 797.8,170.3 798.8,170.2 799.8,170.0 800.8,169.8 801.8,170.0 802.8,169.6 803.8,170.0 804.8,170.3 805.8,171.2 806.8,170.6 807.8,170.7 808.8,170.6 809.8,171.4 810.8,171.5 811.8,172.1 812.8,171.3 813.8,170.9 814.8,170.4 815.8,170.6 816.8,171.4 817.8,171.6 818.8,171.5 819.8,170.9 820.8,171.4 821.8,171.6 822.8,171.9 823.8,170.9 824.8,170.8 825.8,170.6 826.8,171.0 827.8,171.2 828.8,171.4 829.8,171.8 830.8,171.2 831.8,171.1 832.8,170.9 833.8,171.5 834.8,171.7 835.8,171.4 836.8,171.2 837.8,170.6 838.8,170.8 839.8,170.5 840.8,170.6 841.8,170.2 842.8,170.8 843.8,170.7 844.8,170.4 845.8,170.4 846.8,170.0 847.8,170.0 848.8,169.2 849.8,169.5 850.8,169.7 851.8,169.7 852.8,169.5 853.8,169.5 854.8,169.8 855.8,169.2 856.8,169.0 857.8,169.3 858.8,169.1 859.8,169.3 860.8,169.1 861.8,169.8 862.8,169.2 863.8,169.4 864.8,169.1 865.8,169.6 866.8,169.3 867.8,169.4 868.8,169.1 869.8,168.9 870.8,168.3 871.8,167.8 872.8,167.9 873.8,168.0 874.8,168.4 875.8,168.3 876.8,168.4 877.8,168.4 878.8,168.3 879.8,168.3 880.8,168.9 881.8,168.8 882.8,168.4 883.8,167.9 884.8,167.9 885.8,168.4 886.8,168.0 887.8,167.9 888.8,167.3 889.8,167.8 890.8,167.6 891.8,167.9 892.8,166.9 893.8,167.8 894.8,167.9 895.8,168.7 896.8,169.1 897.8,169.0 898.8,169.2 899.8,168.7 900.8,169.1 901.8,168.5 902.8,168.7 903.8,168.3 904.8,169.0 905.8,169.0 906.8,169.2 907.8,169.0 908.8,168.9 909.8,169.0 910.8,169.6 911.8,169.2 912.8,168.8 913.8,167.6 914.8,167.8 915.8,168.3 916.8,168.9 917.8,169.3 918.8,169.4 919.8,169.3 920.8,168.7 921.8,169.0 922.8,169.4 923.8,169.7 924.8,169.6 925.8,169.0 926.8,169.1 927.8,168.9 928.8,169.4 929.8,169.0 930.8,169.0 931.8,169.0 932.8,169.6 933.8,169.8 934.8,168.8 935.8,168.4 936.8,168.1 937.8,168.7 938.8,168.2 939.8,168.7 940.8,169.0 941.8,169.1 942.8,168.7 943.8,168.6 944.8,169.5 945.8,169.9 946.8,169.6 947.8,169.1 948.8,169.0 949.8,169.6 950.8,170.1" stroke="#000" stroke-width="3.2" fill="none" stroke-linejoin="round" stroke-linecap="round"/><polyline points="172.8,250.2 173.8,250.4 174.8,250.5 175.8,250.9 176.8,250.8 177.8,250.9 178.8,250.1 179.8,249.6 180.8,248.9 181.8,249.2 182.8,249.5 183.8,249.8 184.8,250.0 185.8,249.6 186.8,249.9 187.8,249.9 188.8,249.6 189.8,249.1 190.8,248.6 191.8,249.1 192.8,249.5 193.8,250.0 194.8,249.3 195.8,249.1 196.8,248.6 197.8,248.8 198.8,248.6 199.8,248.0 200.8,248.1 201.8,247.9 202.8,248.0 203.8,248.2 204.8,248.0 205.8,248.3 206.8,247.7 207.8,247.4 208.8,247.2 209.8,247.3 210.8,247.3 211.8,247.5 212.8,247.7 213.8,248.1 214.8,247.8 215.8,247.2 216.8,247.1 217.8,246.8 218.8,246.7 219.8,246.9 220.8,247.4 221.8,247.7 222.8,247.2 223.8,247.8 224.8,248.5 225.8,248.5 226.8,248.0 227.8,247.2 228.8,247.4 229.8,247.5 230.8,247.9 231.8,247.7 232.8,247.5 233.8,247.9 234.8,248.2 235.8,248.4 236.8,247.9 237.8,247.6 238.8,247.0 239.8,246.7 240.8,246.3 241.8,246.3 242.8,246.3 243.8,246.9 244.8,246.7 245.8,247.0 246.8,246.4 247.8,247.4 248.8,247.2 249.8,247.7 250.8,247.5 251.8,247.6 252.8,247.6 253.8,247.2 254.8,247.4 255.8,247.2 256.8,247.6 257.8,247.7 258.8,247.9 259.8,247.8 260.8,247.5 261.8,247.3 262.8,247.0 263.8,247.1 264.8,246.9 265.8,246.8 266.8,246.8 267.8,246.9 268.8,247.1 269.8,246.7 270.8,247.0 271.8,246.9 272.8,247.3 273.8,247.1 274.8,246.6 275.8,245.9 276.8,247.0 277.8,247.1 278.8,247.5 279.8,246.2 280.8,246.9 281.8,247.3 282.8,247.9 283.8,247.3 284.8,247.3 285.8,246.9 286.8,247.5 287.8,247.2 288.8,246.9 289.8,246.5 290.8,246.4 291.8,247.5 292.8,247.2 293.8,247.3 294.8,246.7 295.8,246.8 296.8,246.7 297.8,246.7 298.8,247.0 299.8,247.1 300.8,247.0 301.8,246.9 302.8,246.8 303.8,246.8 304.8,246.8 305.8,247.3 306.8,247.5 307.8,247.6 308.8,247.6 309.8,247.2 310.8,247.4 311.8,247.1 312.8,247.2 313.8,246.8 314.8,247.1 315.8,247.0 316.8,247.2 317.8,246.9 318.8,247.0 319.8,246.9 320.8,246.8 321.8,247.2 322.8,246.9 323.8,247.0 324.8,247.0 325.8,246.8 326.8,247.1 327.8,246.9 328.8,247.2 329.8,247.1 330.8,246.8 331.8,247.2 332.8,247.3 333.8,247.6 334.8,247.4 335.8,247.5 336.8,247.4 337.8,247.0 338.8,246.5 339.8,246.1 340.8,246.2 341.8,246.7 342.8,246.7 343.8,246.7 344.8,246.6 345.8,246.9 346.8,246.9 347.8,246.5 348.8,246.6 349.8,246.5 350.8,246.6 351.8,246.4 352.8,246.5 353.8,246.8 354.8,246.4 355.8,246.3 356.8,245.7 357.8,245.5 358.8,245.2 359.8,245.5 360.8,245.9 361.8,246.1 362.8,245.6 363.8,246.0 364.8,246.1 365.8,246.7 366.8,246.0 367.8,245.9 368.8,245.6 369.8,245.9 370.8,245.8 371.8,245.5 372.8,245.9 373.8,246.1 374.8,246.7 375.8,246.8 376.8,246.1 377.8,245.9 378.8,245.4 379.8,245.5 380.8,245.8 381.8,246.5 382.8,246.5 383.8,246.5 384.8,245.9 385.8,246.2 386.8,246.1 387.8,246.2 388.8,246.0 389.8,245.9 390.8,246.1 391.8,246.2 392.8,246.2 393.8,245.4 394.8,245.4 395.8,245.5 396.8,245.9 397.8,246.1 398.8,245.4 399.8,245.5 400.8,244.7 401.8,244.9 402.8,244.1 403.8,244.7 404.8,244.8 405.8,245.1 406.8,244.9 407.8,244.3 408.8,244.1 409.8,243.8 410.8,243.8 411.8,243.5 412.8,242.6 413.8,242.3 414.8,241.7 415.8,241.6 416.8,243.2 417.8,242.7 418.8,242.0 419.8,241.1 420.8,240.1 421.8,240.0 422.8,239.2 423.8,238.7 424.8,237.8 425.8,236.8 426.8,236.1 427.8,235.2 428.8,235.4 429.8,235.1 430.8,235.0 431.8,234.0 432.8,233.1 433.8,232.4 434.8,231.7 435.8,230.9 436.8,230.4 437.8,230.2 438.8,229.9 439.8,228.6 440.8,227.9 441.8,227.1 442.8,226.8 443.8,226.4 444.8,225.8 445.8,225.1 446.8,224.9 447.8,224.7 448.8,224.2 449.8,223.8 450.8,223.3 451.8,223.1 452.8,221.5 453.8,221.2 454.8,220.7 455.8,221.1 456.8,220.7 457.8,219.9 458.8,219.5 459.8,218.8 460.8,218.7 461.8,217.2 462.8,217.0 463.8,216.5 464.8,216.7 465.8,215.5 466.8,215.0 467.8,214.4 468.8,214.5 469.8,213.6 470.8,212.4 471.8,211.3 472.8,210.7 473.8,210.6 474.8,210.2 475.8,209.9 476.8,209.5 477.8,209.4 478.8,208.8 479.8,207.6 480.8,206.8 481.8,206.3 482.8,206.2 483.8,205.7 484.8,205.3 485.8,204.3 486.8,204.1 487.8,203.7 488.8,203.9 489.8,203.3 490.8,202.9 491.8,202.0 492.8,201.6 493.8,201.1 494.8,200.9 495.8,200.5 496.8,200.2 497.8,199.9 498.8,199.3 499.8,198.6 500.8,198.4 501.8,198.0 502.8,197.8 503.8,197.2 504.8,197.1 505.8,197.0 506.8,196.9 507.8,196.5 508.8,196.0 509.8,195.7 510.8,195.2 511.8,194.8 512.8,194.0 513.8,194.1 514.8,193.7 515.8,193.4 516.8,192.6 517.8,192.4 518.8,192.4 519.8,191.8 520.8,191.7 521.8,191.3 522.8,191.4 523.8,190.6 524.8,190.0 525.8,189.3 526.8,189.0 527.8,188.8 528.8,188.8 529.8,188.6 530.8,188.3 531.8,187.8 532.8,187.2 533.8,187.0 534.8,186.6 535.8,186.8 536.8,186.1 537.8,186.6 538.8,185.9 539.8,185.3 540.8,184.5 541.8,184.0 542.8,184.0 543.8,183.5 544.8,183.2 545.8,182.2 546.8,182.0 547.8,181.6 548.8,182.0 549.8,181.6 550.8,181.3 551.8,180.7 552.8,180.4 553.8,180.0 554.8,180.0 555.8,179.4 556.8,179.2 557.8,178.6 558.8,178.9 559.8,178.5 560.8,178.7 561.8,177.6 562.8,177.7 563.8,177.1 564.8,177.5 565.8,177.3 566.8,177.6 567.8,177.8 568.8,177.4 569.8,176.8 570.8,175.6 571.8,175.2 572.8,174.8 573.8,175.0 574.8,175.2 575.8,175.0 576.8,174.8 577.8,174.2 578.8,173.8 579.8,173.4 580.8,173.0 581.8,173.3 582.8,173.1 583.8,173.3 584.8,172.9 585.8,172.4 586.8,172.3 587.8,171.6 588.8,171.6 589.8,171.5 590.8,172.1 591.8,171.9 592.8,172.1 593.8,171.5 594.8,171.0 595.8,170.8 596.8,170.7 597.8,170.9 598.8,170.8 599.8,170.5 600.8,170.4 601.8,170.2 602.8,170.6 603.8,170.4 604.8,170.2 605.8,170.0 606.8,170.1 607.8,169.9 608.8,169.3 609.8,169.0 610.8,169.3 611.8,169.5 612.8,169.4 613.8,169.1 614.8,169.1 615.8,168.8 616.8,168.5 617.8,168.4 618.8,168.3 619.8,168.2 620.8,167.8 621.8,167.5 622.8,167.2 623.8,167.4 624.8,167.6 625.8,167.6 626.8,167.8 627.8,167.8 628.8,167.9 629.8,167.7 630.8,167.8 631.8,167.9 632.8,167.3 633.8,167.1 634.8,167.0 635.8,167.1 636.8,166.8 637.8,166.5 638.8,166.3 639.8,165.8 640.8,166.0 641.8,165.8 642.8,166.5 643.8,166.0 644.8,165.7 645.8,165.3 646.8,165.2 647.8,165.5 648.8,165.0 649.8,164.8 650.8,164.3 651.8,164.1 652.8,164.2 653.8,163.9 654.8,164.0 655.8,164.1 656.8,164.0 657.8,163.8 658.8,163.2 659.8,163.3 660.8,163.2 661.8,163.4 662.8,163.6 663.8,163.3 664.8,163.2 665.8,162.7 666.8,162.5 667.8,162.0 668.8,161.6 669.8,161.8 670.8,161.6 671.8,162.0 672.8,162.6 673.8,162.7 674.8,162.1 675.8,161.6 676.8,161.5 677.8,161.9 678.8,161.8 679.8,162.0 680.8,162.5 681.8,162.5 682.8,162.5 683.8,161.9 684.8,161.6 685.8,161.3 686.8,161.1 687.8,161.5 688.8,161.6 689.8,162.1 690.8,162.0 691.8,162.6 692.8,162.5 693.8,162.6 694.8,162.0 695.8,162.3 696.8,162.2 697.8,162.4 698.8,161.9 699.8,162.1 700.8,162.5 701.8,163.2 702.8,162.9 703.8,162.8 704.8,162.3 705.8,162.3 706.8,161.9 707.8,162.5 708.8,162.9 709.8,163.1 710.8,163.0 711.8,163.3 712.8,163.7 713.8,163.8 714.8,163.8 715.8,164.3 716.8,164.6 717.8,164.8 718.8,164.7 719.8,164.9 720.8,165.0 721.8,165.2 722.8,165.1 723.8,165.2 724.8,164.8 725.8,164.7 726.8,164.7 727.8,165.3 728.8,166.4 729.8,166.6 730.8,166.6 731.8,165.9 732.8,166.2 733.8,166.4 734.8,167.0 735.8,167.0 736.8,167.3 737.8,167.4 738.8,167.8 739.8,167.6 740.8,167.4 741.8,167.6 742.8,168.2 743.8,168.6 744.8,168.6 745.8,168.7 746.8,168.6 747.8,169.1 748.8,169.9 749.8,170.1 750.8,170.3 751.8,169.5 752.8,169.8 753.8,169.8 754.8,170.5 755.8,170.6 756.8,170.9 757.8,170.5 758.8,170.5 759.8,170.3 760.8,170.8 761.8,170.9 762.8,171.5 763.8,171.5 764.8,171.9 765.8,171.7 766.8,172.4 767.8,172.3 768.8,172.5 769.8,172.2 770.8,171.7 771.8,171.7 772.8,172.0 773.8,173.2 774.8,173.0 775.8,172.8 776.8,172.9 777.8,173.0 778.8,173.0 779.8,173.0 780.8,173.5 781.8,174.2 782.8,174.4 783.8,174.4 784.8,174.0 785.8,173.7 786.8,173.8 787.8,174.3 788.8,174.6 789.8,174.9 790.8,174.7 791.8,174.7 792.8,174.4 793.8,175.1 794.8,175.3 795.8,176.0 796.8,175.9 797.8,176.2 798.8,176.0 799.8,175.8 800.8,175.7 801.8,175.5 802.8,175.6 803.8,175.9 804.8,176.5 805.8,176.8 806.8,176.9 807.8,177.1 808.8,176.9 809.8,176.9 810.8,177.0 811.8,176.9 812.8,176.6 813.8,176.6 814.8,176.7 815.8,177.3 816.8,177.0 817.8,176.6 818.8,176.3 819.8,176.4 820.8,176.5 821.8,176.9 822.8,177.2 823.8,177.1 824.8,176.4 825.8,176.3 826.8,176.8 827.8,177.2 828.8,177.5 829.8,177.4 830.8,177.5 831.8,176.7 832.8,176.9 833.8,176.6 834.8,177.2 835.8,176.5 836.8,176.4 837.8,176.4 838.8,176.4 839.8,176.6 840.8,176.2 841.8,176.8 842.8,176.8 843.8,177.2 844.8,176.7 845.8,176.2 846.8,176.3 847.8,176.1 848.8,176.4 849.8,175.9 850.8,175.6 851.8,175.6 852.8,175.5 853.8,175.3 854.8,174.7 855.8,174.2 856.8,174.4 857.8,174.6 858.8,174.8 859.8,174.9 860.8,174.8 861.8,175.0 862.8,175.0 863.8,174.9 864.8,174.6 865.8,174.2 866.8,174.0 867.8,174.2 868.8,174.3 869.8,174.8 870.8,174.9 871.8,174.6 872.8,174.3 873.8,174.4 874.8,174.5 875.8,174.6 876.8,174.1 877.8,174.6 878.8,174.4 879.8,174.4 880.8,173.6 881.8,173.4 882.8,173.3 883.8,173.7 884.8,173.5 885.8,173.8 886.8,173.6 887.8,174.0 888.8,174.0 889.8,174.2 890.8,174.2 891.8,174.2 892.8,174.0 893.8,174.0 894.8,173.8 895.8,174.4 896.8,174.2 897.8,174.4 898.8,173.6 899.8,174.0 900.8,173.8 901.8,174.4 902.8,174.3 903.8,173.9 904.8,173.8 905.8,173.6 906.8,173.9 907.8,173.9 908.8,174.1 909.8,174.2 910.8,174.3 911.8,174.1 912.8,174.4 913.8,175.0 914.8,175.2 915.8,175.1 916.8,174.3 917.8,174.0 918.8,173.7 919.8,173.8 920.8,174.2 921.8,174.3 922.8,174.9 923.8,174.7 924.8,174.8 925.8,174.4 926.8,174.1 927.8,174.1 928.8,174.3 929.8,174.9 930.8,175.0 931.8,175.0 932.8,174.9 933.8,175.0 934.8,175.4 935.8,175.4 936.8,174.9 937.8,173.9 938.8,173.7 939.8,174.2 940.8,174.9 941.8,175.1 942.8,175.1 943.8,175.1 944.8,174.9 945.8,174.8 946.8,174.8 947.8,174.9 948.8,174.8 949.8,174.8 950.8,175.1" stroke="#000" stroke-width="2.6" fill="none" stroke-linejoin="round"/><circle cx="478.9" cy="180.6" r="1.7" fill="#000"/><circle cx="478.9" cy="183.5" r="1.7" fill="#000"/><circle cx="478.9" cy="193.5" r="1.7" fill="#000"/><circle cx="478.9" cy="199" r="1.7" fill="#000"/><circle cx="478.9" cy="210.5" r="1.7" fill="#000"/><circle cx="478.9" cy="214" r="1.7" fill="#000"/><circle cx="478.9" cy="217.5" r="1.7" fill="#000"/><circle cx="478.9" cy="219.3" r="1.7" fill="#000"/><path d="M478.9 180.6V199" stroke="#000" stroke-width="1"/><polyline points="172.8,249.0 173.8,248.9 174.8,248.9 175.8,248.8 176.8,248.8 177.8,248.7 178.8,248.7 179.8,248.6 180.8,248.5 181.8,248.5 182.8,248.4 183.8,248.4 184.8,248.3 185.8,248.2 186.8,248.2 187.8,248.1 188.8,248.1 189.8,248.0 190.8,247.9 191.8,247.8 192.8,247.7 193.8,247.7 194.8,247.6 195.8,247.5 196.8,247.4 197.8,247.3 198.8,247.2 199.8,247.1 200.8,247.0 201.8,246.9 202.8,246.8 203.8,246.8 204.8,246.7 205.8,246.6 206.8,246.5 207.8,246.4 208.8,246.3 209.8,246.2 210.8,246.1 211.8,246.0 212.8,245.9 213.8,245.8 214.8,245.7 215.8,245.7 216.8,245.6 217.8,245.6 218.8,245.6 219.8,245.6 220.8,245.6 221.8,245.6 222.8,245.6 223.8,245.6 224.8,245.6 225.8,245.6 226.8,245.6 227.8,245.6 228.8,245.6 229.8,245.6 230.8,245.6 231.8,245.6 232.8,245.6 233.8,245.6 234.8,245.6 235.8,245.6 236.8,245.6 237.8,245.6 238.8,245.6 239.8,245.6 240.8,245.6 241.8,245.6 242.8,245.6 243.8,245.6 244.8,245.6 245.8,245.6 246.8,245.6 247.8,245.6 248.8,245.6 249.8,245.6 250.8,245.6 251.8,245.6 252.8,245.6 253.8,245.6 254.8,245.6 255.8,245.6 256.8,245.6 257.8,245.6 258.8,245.6 259.8,245.6 260.8,245.6 261.8,245.6 262.8,245.6 263.8,245.6 264.8,245.6 265.8,245.6 266.8,245.6 267.8,245.6 268.8,245.6 269.8,245.6 270.8,245.6 271.8,245.6 272.8,245.6 273.8,245.6 274.8,245.6 275.8,245.6 276.8,245.6 277.8,245.6 278.8,245.6 279.8,245.6 280.8,245.6 281.8,245.6 282.8,245.6 283.8,245.6 284.8,245.6 285.8,245.6 286.8,245.6 287.8,245.6 288.8,245.6 289.8,245.6 290.8,245.6 291.8,245.6 292.8,245.6 293.8,245.6 294.8,245.6 295.8,245.6 296.8,245.6 297.8,245.6 298.8,245.6 299.8,245.6 300.8,245.6 301.8,245.6 302.8,245.6 303.8,245.6 304.8,245.6 305.8,245.6 306.8,245.6 307.8,245.6 308.8,245.6 309.8,245.6 310.8,245.6 311.8,245.6 312.8,245.6 313.8,245.5 314.8,245.5 315.8,245.5 316.8,245.5 317.8,245.5 318.8,245.5 319.8,245.5 320.8,245.5 321.8,245.5 322.8,245.5 323.8,245.5 324.8,245.5 325.8,245.5 326.8,245.5 327.8,245.5 328.8,245.5 329.8,245.5 330.8,245.5 331.8,245.5 332.8,245.5 333.8,245.5 334.8,245.5 335.8,245.5 336.8,245.5 337.8,245.5 338.8,245.5 339.8,245.4 340.8,245.4 341.8,245.4 342.8,245.4 343.8,245.4 344.8,245.4 345.8,245.4 346.8,245.4 347.8,245.4 348.8,245.4 349.8,245.4 350.8,245.4 351.8,245.4 352.8,245.3 353.8,245.1 354.8,245.0 355.8,244.8 356.8,244.7 357.8,244.6 358.8,244.6 359.8,244.6 360.8,244.6 361.8,244.6 362.8,244.6 363.8,244.6 364.8,244.6 365.8,244.6 366.8,244.6 367.8,244.6 368.8,244.6 369.8,244.6 370.8,244.6 371.8,244.6 372.8,244.6 373.8,244.5 374.8,244.5 375.8,244.5 376.8,244.5 377.8,244.5 378.8,244.5 379.8,244.5 380.8,244.5 381.8,244.5 382.8,244.5 383.8,244.5 384.8,244.5 385.8,244.5 386.8,244.5 387.8,244.5 388.8,244.5 389.8,244.5 390.8,244.4 391.8,244.4 392.8,244.3 393.8,244.3 394.8,244.2 395.8,244.2 396.8,244.1 397.8,244.1 398.8,244.0 399.8,243.9 400.8,243.9 401.8,243.8 402.8,243.8 403.8,243.7 404.8,243.7 405.8,243.6 406.8,243.5 407.8,243.4 408.8,243.3 409.8,243.0 410.8,242.6 411.8,242.2 412.8,241.7 413.8,241.2 414.8,240.7 415.8,240.2 416.8,239.7 417.8,239.2 418.8,238.6 419.8,238.0 420.8,237.3 421.8,236.6 422.8,235.9 423.8,235.2 424.8,234.5 425.8,233.8 426.8,233.1 427.8,232.5 428.8,231.8 429.8,231.2 430.8,230.6 431.8,230.1 432.8,229.5 433.8,229.0 434.8,228.4 435.8,227.9 436.8,227.4 437.8,226.8 438.8,226.3 439.8,225.7 440.8,225.2 441.8,224.6 442.8,224.1 443.8,223.5 444.8,223.0 445.8,222.4 446.8,221.9 447.8,221.3 448.8,220.8 449.8,220.3 450.8,219.8 451.8,219.3 452.8,218.8 453.8,218.3 454.8,217.8 455.8,217.3 456.8,216.8 457.8,216.3 458.8,215.8 459.8,215.3 460.8,214.8 461.8,214.3 462.8,213.8 463.8,213.3 464.8,212.8 465.8,212.3 466.8,211.8 467.8,211.3 468.8,210.7 469.8,210.1 470.8,209.5 471.8,209.0 472.8,208.4 473.8,207.8 474.8,207.2 475.8,206.6 476.8,206.0 477.8,205.5 478.8,204.9 479.8,204.4 480.8,204.0 481.8,203.5 482.8,203.1 483.8,202.6 484.8,202.2 485.8,201.7 486.8,201.3 487.8,200.9 488.8,200.4 489.8,200.0 490.8,199.5 491.8,199.1 492.8,198.6 493.8,198.2 494.8,197.8 495.8,197.4 496.8,197.0 497.8,196.6 498.8,196.2 499.8,195.9 500.8,195.5 501.8,195.2 502.8,194.8 503.8,194.5 504.8,194.1 505.8,193.8 506.8,193.4 507.8,193.0 508.8,192.7 509.8,192.3 510.8,192.0 511.8,191.6 512.8,191.3 513.8,190.9 514.8,190.6 515.8,190.2 516.8,189.9 517.8,189.5 518.8,189.2 519.8,188.8 520.8,188.5 521.8,188.1 522.8,187.8 523.8,187.4 524.8,187.1 525.8,186.7 526.8,186.4 527.8,186.0 528.8,185.7 529.8,185.3 530.8,185.0 531.8,184.6 532.8,184.3 533.8,183.9 534.8,183.6 535.8,183.2 536.8,182.9 537.8,182.5 538.8,182.2 539.8,181.8 540.8,181.5 541.8,181.1 542.8,180.8 543.8,180.4 544.8,180.1 545.8,179.8 546.8,179.4 547.8,179.1 548.8,178.7 549.8,178.4 550.8,178.0 551.8,177.7 552.8,177.3 553.8,177.0 554.8,176.7 555.8,176.4 556.8,176.2 557.8,175.9 558.8,175.7 559.8,175.4 560.8,175.1 561.8,174.9 562.8,174.6 563.8,174.4 564.8,174.1 565.8,173.9 566.8,173.6 567.8,173.4 568.8,173.1 569.8,172.9 570.8,172.6 571.8,172.4 572.8,172.1 573.8,171.9 574.8,171.7 575.8,171.5 576.8,171.3 577.8,171.1 578.8,170.9 579.8,170.7 580.8,170.5 581.8,170.3 582.8,170.1 583.8,169.9 584.8,169.7 585.8,169.5 586.8,169.3 587.8,169.1 588.8,168.9 589.8,168.7 590.8,168.5 591.8,168.3 592.8,168.2 593.8,168.0 594.8,167.9 595.8,167.8 596.8,167.7 597.8,167.6 598.8,167.5 599.8,167.4 600.8,167.3 601.8,167.2 602.8,167.1 603.8,167.0 604.8,166.9 605.8,166.8 606.8,166.7 607.8,166.6 608.8,166.5 609.8,166.4 610.8,166.3 611.8,166.2 612.8,166.1 613.8,166.0 614.8,165.9 615.8,165.7 616.8,165.6 617.8,165.5 618.8,165.4 619.8,165.3 620.8,165.2 621.8,165.1 622.8,164.9 623.8,164.8 624.8,164.7 625.8,164.6 626.8,164.5 627.8,164.4 628.8,164.3 629.8,164.1 630.8,164.0 631.8,163.9 632.8,163.7 633.8,163.6 634.8,163.5 635.8,163.4 636.8,163.2 637.8,163.1 638.8,163.0 639.8,162.8 640.8,162.7 641.8,162.6 642.8,162.5 643.8,162.3 644.8,162.2 645.8,162.1 646.8,161.9 647.8,161.8 648.8,161.7 649.8,161.6 650.8,161.4 651.8,161.3 652.8,161.2 653.8,161.1 654.8,161.0 655.8,160.9 656.8,160.7 657.8,160.6 658.8,160.5 659.8,160.4 660.8,160.3 661.8,160.1 662.8,160.0 663.8,159.9 664.8,159.8 665.8,159.7 666.8,159.6 667.8,159.5 668.8,159.4 669.8,159.3 670.8,159.3 671.8,159.2 672.8,159.2 673.8,159.1 674.8,159.0 675.8,159.0 676.8,158.9 677.8,158.9 678.8,158.8 679.8,158.8 680.8,158.7 681.8,158.7 682.8,158.6 683.8,158.6 684.8,158.5 685.8,158.5 686.8,158.5 687.8,158.5 688.8,158.5 689.8,158.5 690.8,158.6 691.8,158.6 692.8,158.7 693.8,158.7 694.8,158.8 695.8,158.8 696.8,158.9 697.8,158.9 698.8,159.0 699.8,159.0 700.8,159.1 701.8,159.2 702.8,159.2 703.8,159.3 704.8,159.3 705.8,159.4 706.8,159.5 707.8,159.6 708.8,159.7 709.8,159.9 710.8,160.0 711.8,160.2 712.8,160.3 713.8,160.5 714.8,160.6 715.8,160.8 716.8,160.9 717.8,161.1 718.8,161.2 719.8,161.4 720.8,161.5 721.8,161.7 722.8,161.8 723.8,162.0 724.8,162.1 725.8,162.3 726.8,162.4 727.8,162.6 728.8,162.8 729.8,162.9 730.8,163.1 731.8,163.3 732.8,163.5 733.8,163.6 734.8,163.8 735.8,164.0 736.8,164.1 737.8,164.3 738.8,164.5 739.8,164.7 740.8,164.8 741.8,165.0 742.8,165.2 743.8,165.3 744.8,165.5 745.8,165.6 746.8,165.8 747.8,165.9 748.8,166.1 749.8,166.2 750.8,166.3 751.8,166.4 752.8,166.6 753.8,166.7 754.8,166.8 755.8,167.0 756.8,167.1 757.8,167.2 758.8,167.3 759.8,167.5 760.8,167.6 761.8,167.7 762.8,167.9 763.8,168.0 764.8,168.1 765.8,168.3 766.8,168.4 767.8,168.5 768.8,168.6 769.8,168.8 770.8,168.9 771.8,169.0 772.8,169.2 773.8,169.3 774.8,169.4 775.8,169.5 776.8,169.7 777.8,169.8 778.8,169.9 779.8,170.1 780.8,170.2 781.8,170.3 782.8,170.4 783.8,170.6 784.8,170.7 785.8,170.8 786.8,170.9 787.8,171.1 788.8,171.2 789.8,171.3 790.8,171.4 791.8,171.6 792.8,171.7 793.8,171.8 794.8,171.9 795.8,172.1 796.8,172.2 797.8,172.3 798.8,172.4 799.8,172.6 800.8,172.7 801.8,172.8 802.8,172.9 803.8,173.0 804.8,173.1 805.8,173.1 806.8,173.2 807.8,173.2 808.8,173.3 809.8,173.3 810.8,173.4 811.8,173.4 812.8,173.5 813.8,173.5 814.8,173.6 815.8,173.6 816.8,173.6 817.8,173.6 818.8,173.7 819.8,173.7 820.8,173.7 821.8,173.7 822.8,173.7 823.8,173.7 824.8,173.7 825.8,173.7 826.8,173.8 827.8,173.8 828.8,173.8 829.8,173.8 830.8,173.7 831.8,173.7 832.8,173.7 833.8,173.6 834.8,173.6 835.8,173.5 836.8,173.5 837.8,173.4 838.8,173.4 839.8,173.3 840.8,173.2 841.8,173.2 842.8,173.1 843.8,173.1 844.8,173.0 845.8,173.0 846.8,172.9 847.8,172.9 848.8,172.8 849.8,172.7 850.8,172.6 851.8,172.6 852.8,172.5 853.8,172.4 854.8,172.3 855.8,172.3 856.8,172.2 857.8,172.1 858.8,172.0 859.8,171.9 860.8,171.9 861.8,171.8 862.8,171.7 863.8,171.6 864.8,171.6 865.8,171.5 866.8,171.4 867.8,171.4 868.8,171.3 869.8,171.3 870.8,171.2 871.8,171.2 872.8,171.1 873.8,171.1 874.8,171.0 875.8,171.0 876.8,170.9 877.8,170.9 878.8,170.8 879.8,170.8 880.8,170.7 881.8,170.7 882.8,170.6 883.8,170.6 884.8,170.6 885.8,170.6 886.8,170.6 887.8,170.6 888.8,170.6 889.8,170.6 890.8,170.6 891.8,170.6 892.8,170.6 893.8,170.6 894.8,170.6 895.8,170.6 896.8,170.6 897.8,170.6 898.8,170.6 899.8,170.6 900.8,170.6 901.8,170.6 902.8,170.7 903.8,170.7 904.8,170.7 905.8,170.7 906.8,170.8 907.8,170.8 908.8,170.8 909.8,170.9 910.8,170.9 911.8,170.9 912.8,170.9 913.8,171.0 914.8,171.0 915.8,171.0 916.8,171.1 917.8,171.1 918.8,171.1 919.8,171.1 920.8,171.2 921.8,171.2 922.8,171.2 923.8,171.2 924.8,171.2 925.8,171.3 926.8,171.3 927.8,171.3 928.8,171.3 929.8,171.4 930.8,171.4 931.8,171.4 932.8,171.4 933.8,171.5 934.8,171.5 935.8,171.5 936.8,171.5 937.8,171.5 938.8,171.6 939.8,171.6 940.8,171.6 941.8,171.6 942.8,171.6 943.8,171.7 944.8,171.7 945.8,171.7 946.8,171.7 947.8,171.7 948.8,171.8 949.8,171.8 950.8,171.8" stroke="#fff" stroke-width="2.5" fill="none" stroke-linejoin="round"/><polyline points="172.8,170.9 173.8,170.9 174.8,170.9 175.8,170.9 176.8,170.9 177.8,170.8 178.8,170.8 179.8,170.8 180.8,170.8 181.8,170.8 182.8,170.8 183.8,170.8 184.8,170.8 185.8,170.8 186.8,170.7 187.8,170.7 188.8,170.7 189.8,170.7 190.8,170.7 191.8,170.7 192.8,170.7 193.8,170.7 194.8,170.7 195.8,170.6 196.8,170.6 197.8,170.6 198.8,170.6 199.8,170.6 200.8,170.6 201.8,170.6 202.8,170.6 203.8,170.5 204.8,170.5 205.8,170.5 206.8,170.5 207.8,170.5 208.8,170.5 209.8,170.5 210.8,170.4 211.8,170.4 212.8,170.4 213.8,170.4 214.8,170.4 215.8,170.4 216.8,170.4 217.8,170.4 218.8,170.3 219.8,170.3 220.8,170.3 221.8,170.3 222.8,170.3 223.8,170.3 224.8,170.3 225.8,170.2 226.8,170.2 227.8,170.2 228.8,170.2 229.8,170.2 230.8,170.2 231.8,170.2 232.8,170.1 233.8,170.1 234.8,170.1 235.8,170.1 236.8,170.1 237.8,170.1 238.8,170.1 239.8,170.0 240.8,170.0 241.8,170.0 242.8,170.0 243.8,170.0 244.8,170.0 245.8,170.0 246.8,169.9 247.8,169.9 248.8,169.9 249.8,169.9 250.8,169.9 251.8,169.9 252.8,169.9 253.8,169.8 254.8,169.8 255.8,169.8 256.8,169.8 257.8,169.8 258.8,169.8 259.8,169.7 260.8,169.7 261.8,169.7 262.8,169.7 263.8,169.7 264.8,169.7 265.8,169.6 266.8,169.6 267.8,169.6 268.8,169.6 269.8,169.6 270.8,169.6 271.8,169.6 272.8,169.5 273.8,169.5 274.8,169.5 275.8,169.5 276.8,169.5 277.8,169.5 278.8,169.4 279.8,169.4 280.8,169.4 281.8,169.4 282.8,169.4 283.8,169.4 284.8,169.3 285.8,169.3 286.8,169.3 287.8,169.3 288.8,169.3 289.8,169.3 290.8,169.2 291.8,169.2 292.8,169.2 293.8,169.2 294.8,169.2 295.8,169.2 296.8,169.2 297.8,169.1 298.8,169.1 299.8,169.1 300.8,169.1 301.8,169.1 302.8,169.0 303.8,169.0 304.8,169.0 305.8,169.0 306.8,169.0 307.8,169.0 308.8,168.9 309.8,168.9 310.8,168.9 311.8,168.9 312.8,168.9 313.8,168.9 314.8,168.8 315.8,168.8 316.8,168.8 317.8,168.8 318.8,168.8 319.8,168.7 320.8,168.7 321.8,168.7 322.8,168.7 323.8,168.7 324.8,168.7 325.8,168.6 326.8,168.6 327.8,168.6 328.8,168.6 329.8,168.6 330.8,168.5 331.8,168.5 332.8,168.5 333.8,168.5 334.8,168.5 335.8,168.5 336.8,168.4 337.8,168.4 338.8,168.4 339.8,168.4 340.8,168.4 341.8,168.3 342.8,168.3 343.8,168.3 344.8,168.3 345.8,168.3 346.8,168.3 347.8,168.2 348.8,168.2 349.8,168.2 350.8,168.2 351.8,168.1 352.8,168.1 353.8,168.1 354.8,168.1 355.8,168.0 356.8,168.0 357.8,168.0 358.8,167.9 359.8,167.9 360.8,167.9 361.8,167.8 362.8,167.8 363.8,167.8 364.8,167.8 365.8,167.7 366.8,167.7 367.8,167.7 368.8,167.6 369.8,167.6 370.8,167.6 371.8,167.5 372.8,167.5 373.8,167.5 374.8,167.5 375.8,167.4 376.8,167.4 377.8,167.4 378.8,167.3 379.8,167.3 380.8,167.3 381.8,167.2 382.8,167.2 383.8,167.2 384.8,167.2 385.8,167.1 386.8,167.1 387.8,167.1 388.8,167.0 389.8,167.0 390.8,167.0 391.8,166.9 392.8,166.9 393.8,166.9 394.8,166.8 395.8,166.8 396.8,166.8 397.8,166.7 398.8,166.7 399.8,166.6 400.8,166.6 401.8,166.6 402.8,166.5 403.8,166.5 404.8,166.5 405.8,166.4 406.8,166.4 407.8,166.3 408.8,166.2 409.8,165.9 410.8,165.6 411.8,165.3 412.8,164.9 413.8,164.4 414.8,164.0 415.8,163.6 416.8,163.2 417.8,162.8 418.8,162.3 419.8,161.8 420.8,161.2 421.8,160.6 422.8,160.0 423.8,159.4 424.8,158.8 425.8,158.2 426.8,157.6 427.8,157.1 428.8,156.5 429.8,156.0 430.8,155.5 431.8,155.0 432.8,154.6 433.8,154.1 434.8,153.6 435.8,153.2 436.8,152.7 437.8,152.2 438.8,151.7 439.8,151.3 440.8,150.8 441.8,150.3 442.8,149.9 443.8,149.4 444.8,148.9 445.8,148.4 446.8,148.0 447.8,147.5 448.8,147.0 449.8,146.5 450.8,146.1 451.8,145.6 452.8,145.1 453.8,144.6 454.8,144.1 455.8,143.6 456.8,143.2 457.8,142.7 458.8,142.2 459.8,141.7 460.8,141.2 461.8,140.8 462.8,140.3 463.8,139.8 464.8,139.3 465.8,138.8 466.8,138.3 467.8,137.7 468.8,137.2 469.8,136.5 470.8,135.9 471.8,135.3 472.8,134.7 473.8,134.0 474.8,133.1 475.8,132.2 476.8,131.2 477.8,130.0 478.8,128.8 479.8,127.8 480.8,126.8 481.8,125.8 482.8,125.0 483.8,124.3 484.8,123.5 485.8,122.8 486.8,122.0 487.8,121.3 488.8,120.5 489.8,119.8 490.8,119.0 491.8,118.3 492.8,117.5 493.8,116.8 494.8,116.0 495.8,115.3 496.8,114.7 497.8,114.0 498.8,113.4 499.8,112.8 500.8,112.2 501.8,111.6 502.8,111.0 503.8,110.4 504.8,109.8 505.8,109.2 506.8,108.6 507.8,108.0 508.8,107.4 509.8,106.8 510.8,106.2 511.8,105.6 512.8,105.0 513.8,104.4 514.8,103.8 515.8,103.3 516.8,102.7 517.8,102.2 518.8,101.7 519.8,101.2 520.8,100.7 521.8,100.2 522.8,99.7 523.8,99.2 524.8,98.7 525.8,98.3 526.8,97.8 527.8,97.3 528.8,96.8 529.8,96.3 530.8,95.8 531.8,95.3 532.8,94.8 533.8,94.3 534.8,93.8 535.8,93.3 536.8,92.9 537.8,92.4 538.8,91.9 539.8,91.5 540.8,91.0 541.8,90.6 542.8,90.1 543.8,89.6 544.8,89.2 545.8,88.7 546.8,88.3 547.8,87.8 548.8,87.3 549.8,86.9 550.8,86.4 551.8,86.0 552.8,85.5 553.8,85.1 554.8,84.7 555.8,84.3 556.8,84.0 557.8,83.6 558.8,83.3 559.8,82.9 560.8,82.6 561.8,82.3 562.8,81.9 563.8,81.6 564.8,81.3 565.8,80.9 566.8,80.6 567.8,80.3 568.8,79.9 569.8,79.6 570.8,79.2 571.8,78.9 572.8,78.6 573.8,78.3 574.8,77.9 575.8,77.6 576.8,77.3 577.8,77.0 578.8,76.7 579.8,76.4 580.8,76.1 581.8,75.8 582.8,75.4 583.8,75.1 584.8,74.8 585.8,74.5 586.8,74.2 587.8,73.9 588.8,73.6 589.8,73.3 590.8,73.0 591.8,72.7 592.8,72.4 593.8,72.1 594.8,71.8 595.8,71.6 596.8,71.3 597.8,71.1 598.8,70.8 599.8,70.6 600.8,70.3 601.8,70.1 602.8,69.8 603.8,69.6 604.8,69.3 605.8,69.1 606.8,68.8 607.8,68.6 608.8,68.3 609.8,68.1 610.8,67.9 611.8,67.7 612.8,67.4 613.8,67.2 614.8,67.0 615.8,66.8 616.8,66.6 617.8,66.4 618.8,66.2 619.8,66.0 620.8,65.8 621.8,65.6 622.8,65.4 623.8,65.2 624.8,65.1 625.8,64.9 626.8,64.7 627.8,64.5 628.8,64.3 629.8,64.2 630.8,64.0 631.8,63.8 632.8,63.6 633.8,63.5 634.8,63.3 635.8,63.1 636.8,62.9 637.8,62.8 638.8,62.6 639.8,62.4 640.8,62.3 641.8,62.1 642.8,61.9 643.8,61.8 644.8,61.6 645.8,61.5 646.8,61.3 647.8,61.2 648.8,61.0 649.8,60.8 650.8,60.7 651.8,60.5 652.8,60.4 653.8,60.3 654.8,60.1 655.8,60.0 656.8,59.8 657.8,59.7 658.8,59.6 659.8,59.4" stroke="#ff0000" stroke-width="7.6" fill="none" stroke-linejoin="round"/><polyline points="793.8,59.4 794.8,59.7 795.8,59.9 796.8,60.1 797.8,60.3 798.8,60.5 799.8,60.7 800.8,60.8 801.8,60.9 802.8,61.0 803.8,61.0 804.8,61.1 805.8,61.1 806.8,61.2 807.8,61.3 808.8,61.3 809.8,61.4 810.8,61.4 811.8,61.5 812.8,61.6 813.8,61.6 814.8,61.7 815.8,61.7 816.8,61.8 817.8,61.9 818.8,61.9 819.8,62.0 820.8,62.0 821.8,62.0 822.8,62.0 823.8,62.0 824.8,62.0 825.8,62.0 826.8,61.9 827.8,61.9 828.8,61.9 829.8,61.9 830.8,61.9 831.8,61.9 832.8,61.9 833.8,61.9 834.8,61.9 835.8,61.9 836.8,61.9 837.8,61.9 838.8,61.8 839.8,61.8 840.8,61.8 841.8,61.8 842.8,61.8 843.8,61.8 844.8,61.8 845.8,61.7 846.8,61.6 847.8,61.5 848.8,61.4 849.8,61.3 850.8,61.2 851.8,61.1 852.8,61.0 853.8,60.9 854.8,60.8 855.8,60.6 856.8,60.5 857.8,60.4 858.8,60.3 859.8,60.2 860.8,60.1 861.8,59.9 862.8,59.8 863.8,59.6 864.8,59.4" stroke="#ff0000" stroke-width="7.6" fill="none" stroke-linejoin="round"/><polyline points="172.8,168.9 173.8,168.3 174.8,166.1 175.8,165.5 176.8,166.7 177.8,167.5 178.8,167.4 179.8,166.9 180.8,167.8 181.8,168.8 182.8,168.3 183.8,166.8 184.8,165.9 185.8,167.0 186.8,167.3 187.8,166.8 188.8,167.2 189.8,167.3 190.8,167.6 191.8,166.9 192.8,166.2 193.8,167.0 194.8,167.4 195.8,166.4 196.8,167.6 197.8,167.5 198.8,167.0 199.8,166.8 200.8,166.8 201.8,166.6 202.8,166.6 203.8,167.8 204.8,167.7 205.8,167.1 206.8,166.8 207.8,167.4 208.8,167.3 209.8,166.8 210.8,167.5 211.8,166.7 212.8,164.9 213.8,165.1 214.8,166.9 215.8,167.3 216.8,165.9 217.8,166.0 218.8,166.2 219.8,166.5 220.8,166.4 221.8,165.6 222.8,166.1 223.8,167.1 224.8,167.8 225.8,168.0 226.8,167.0 227.8,165.8 228.8,165.9 229.8,167.2 230.8,168.2 231.8,168.0 232.8,167.5 233.8,167.6 234.8,168.1 235.8,168.4 236.8,167.4 237.8,165.8 238.8,166.8 239.8,167.7 240.8,166.2 241.8,165.2 242.8,164.6 243.8,165.6 244.8,166.6 245.8,166.6 246.8,167.5 247.8,166.9 248.8,166.3 249.8,166.3 250.8,165.6 251.8,164.5 252.8,164.5 253.8,166.6 254.8,166.8 255.8,166.3 256.8,166.6 257.8,167.7 258.8,168.6 259.8,166.8 260.8,165.6 261.8,166.8 262.8,167.2 263.8,166.5 264.8,167.1 265.8,167.4 266.8,166.7 267.8,168.2 268.8,168.4 269.8,165.6 270.8,165.6 271.8,166.6 272.8,167.4 273.8,167.4 274.8,165.9 275.8,166.0 276.8,165.6 277.8,165.1 278.8,166.1 279.8,165.7 280.8,164.2 281.8,164.1 282.8,164.8 283.8,165.8 284.8,166.0 285.8,165.6 286.8,165.3 287.8,165.3 288.8,165.5 289.8,165.8 290.8,166.3 291.8,166.9 292.8,167.1 293.8,165.9 294.8,165.0 295.8,165.3 296.8,166.3 297.8,167.1 298.8,166.3 299.8,164.5 300.8,163.6 301.8,163.8 302.8,164.8 303.8,165.2 304.8,165.2 305.8,165.3 306.8,165.7 307.8,164.6 308.8,164.4 309.8,165.3 310.8,165.2 311.8,165.0 312.8,163.9 313.8,164.4 314.8,165.3 315.8,164.9 316.8,165.4 317.8,165.5 318.8,165.5 319.8,165.7 320.8,164.9 321.8,163.9 322.8,164.9 323.8,165.2 324.8,166.0 325.8,165.8 326.8,164.5 327.8,165.1 328.8,165.2 329.8,164.6 330.8,164.6 331.8,166.4 332.8,165.9 333.8,163.2 334.8,163.9 335.8,165.6 336.8,165.6 337.8,164.8 338.8,164.6 339.8,165.6 340.8,165.1 341.8,164.5 342.8,165.1 343.8,165.5 344.8,165.1 345.8,164.7 346.8,166.1 347.8,167.2 348.8,165.3 349.8,165.4 350.8,165.7 351.8,165.0 352.8,164.5 353.8,163.6 354.8,164.0 355.8,164.6 356.8,165.1 357.8,164.8 358.8,164.9 359.8,164.7 360.8,165.0 361.8,164.9 362.8,164.3 363.8,163.8 364.8,163.2 365.8,163.3 366.8,164.0 367.8,165.0 368.8,164.6 369.8,165.2 370.8,166.0 371.8,164.8 372.8,164.2 373.8,164.1 374.8,162.7 375.8,163.2 376.8,164.5 377.8,162.9 378.8,163.3 379.8,163.9 380.8,163.2 381.8,162.4 382.8,162.5 383.8,163.8 384.8,163.6 385.8,163.3 386.8,162.3 387.8,162.6 388.8,163.7 389.8,163.3 390.8,163.8 391.8,164.4 392.8,163.9 393.8,163.8 394.8,164.9 395.8,163.6 396.8,162.5 397.8,162.1 398.8,162.3 399.8,164.1 400.8,163.8 401.8,162.2 402.8,161.9 403.8,162.8 404.8,162.2 405.8,161.0 406.8,162.2 407.8,162.1 408.8,161.7 409.8,161.7 410.8,160.4 411.8,161.2 412.8,163.0 413.8,161.8 414.8,161.8 415.8,161.8 416.8,160.7 417.8,160.3 418.8,159.3 419.8,159.0 420.8,158.9 421.8,158.2 422.8,157.6 423.8,156.7 424.8,156.8 425.8,156.5 426.8,155.0 427.8,154.5 428.8,153.6 429.8,153.0 430.8,153.9 431.8,153.1 432.8,151.8 433.8,151.2 434.8,150.5 435.8,150.9 436.8,150.0 437.8,148.8 438.8,149.1 439.8,149.1 440.8,148.4 441.8,148.1 442.8,146.9 443.8,145.6 444.8,145.0 445.8,145.3 446.8,145.0 447.8,143.7 448.8,143.5 449.8,143.6 450.8,143.4 451.8,142.3 452.8,142.2 453.8,142.0 454.8,141.2 455.8,141.0 456.8,140.1 457.8,139.8 458.8,139.8 459.8,139.5 460.8,139.6 461.8,139.5 462.8,138.7 463.8,137.7 464.8,136.7 465.8,135.5 466.8,135.2 467.8,135.0 468.8,134.2 469.8,133.6 470.8,133.2 471.8,132.6 472.8,132.7 473.8,132.4 474.8,130.6 475.8,129.5 476.8,129.1 477.8,127.4 478.8,125.8 479.8,125.0 480.8,123.9 481.8,123.0 482.8,122.2 483.8,121.8 484.8,121.2 485.8,119.8 486.8,119.1 487.8,118.9 488.8,117.6 489.8,116.9 490.8,116.9 491.8,116.1 492.8,114.5 493.8,114.1 494.8,113.6 495.8,112.9 496.8,112.4 497.8,112.0 498.8,111.0 499.8,109.8 500.8,109.8 501.8,110.0 502.8,109.0 503.8,108.3 504.8,107.8 505.8,106.7 506.8,105.4 507.8,105.5 508.8,105.9 509.8,103.8 510.8,103.0 511.8,103.0 512.8,101.8 513.8,101.2 514.8,101.2 515.8,100.9 516.8,100.0 517.8,99.4 518.8,98.9 519.8,98.6 520.8,97.6 521.8,96.4 522.8,96.6 523.8,96.1 524.8,95.7 525.8,95.5 526.8,95.1 527.8,94.7 528.8,94.3 529.8,93.8 530.8,93.4 531.8,92.8 532.8,91.4 533.8,91.1 534.8,91.2 535.8,90.6 536.8,90.4 537.8,90.3 538.8,90.1 539.8,89.3 540.8,88.2 541.8,88.0 542.8,88.2 543.8,87.3 544.8,86.5 545.8,86.3 546.8,85.6 547.8,85.4 548.8,85.4 549.8,84.9 550.8,83.9 551.8,83.1 552.8,82.3 553.8,82.1 554.8,81.8 555.8,81.2 556.8,81.6 557.8,81.3 558.8,80.7 559.8,80.2 560.8,80.7 561.8,80.2 562.8,78.7 563.8,78.8 564.8,79.6 565.8,79.1 566.8,77.9 567.8,78.0 568.8,76.9 569.8,76.6 570.8,77.2 571.8,77.1 572.8,77.1 573.8,76.5 574.8,76.0 575.8,75.3 576.8,74.2 577.8,74.0 578.8,74.2 579.8,73.8 580.8,73.6 581.8,73.6 582.8,73.8 583.8,73.2 584.8,72.1 585.8,72.0 586.8,72.0 587.8,71.7 588.8,71.9 589.8,71.1 590.8,70.5 591.8,70.9 592.8,70.8 593.8,69.6 594.8,68.7 595.8,69.5 596.8,69.3 597.8,68.8 598.8,68.5 599.8,68.5 600.8,68.4 601.8,67.6 602.8,67.3 603.8,67.7 604.8,67.5 605.8,66.2 606.8,65.1 607.8,65.6 608.8,65.5 609.8,65.1 610.8,65.2 611.8,65.0 612.8,64.7 613.8,63.6 614.8,64.2 615.8,64.8 616.8,64.0 617.8,64.4 618.8,64.5 619.8,64.1 620.8,63.6 621.8,63.0 622.8,63.1 623.8,62.6 624.8,62.6 625.8,62.7 626.8,62.2 627.8,61.7 628.8,61.9 629.8,61.8 630.8,61.5 631.8,61.5 632.8,61.1 633.8,59.7 634.8,59.7 635.8,60.9 636.8,60.4 637.8,59.7 638.8,60.1 639.8,59.7 640.8,59.7 641.8,60.2 642.8,60.1 643.8,59.7 644.8,59.1 645.8,59.0 646.8,58.3 647.8,57.7 648.8,58.5 649.8,58.4 650.8,57.6 651.8,57.8 652.8,58.4 653.8,58.2 654.8,57.5 655.8,57.3 656.8,57.4 657.8,56.7 658.8,56.6 659.8,57.1" stroke="#ff0000" stroke-width="3.2" fill="none" stroke-linejoin="round" stroke-linecap="round"/><polyline points="793.8,56.0 794.8,57.0 795.8,57.3 796.8,57.5 797.8,58.4 798.8,58.3 799.8,58.3 800.8,57.8 801.8,57.1 802.8,57.7 803.8,58.1 804.8,57.9 805.8,57.9 806.8,58.9 807.8,59.3 808.8,59.2 809.8,58.6 810.8,59.0 811.8,59.6 812.8,58.9 813.8,59.0 814.8,59.3 815.8,59.2 816.8,59.6 817.8,59.6 818.8,60.1 819.8,60.8 820.8,60.4 821.8,59.6 822.8,59.4 823.8,59.6 824.8,59.8 825.8,59.2 826.8,59.0 827.8,60.2 828.8,60.5 829.8,60.0 830.8,59.7 831.8,60.1 832.8,60.3 833.8,59.5 834.8,59.0 835.8,59.2 836.8,60.1 837.8,59.7 838.8,58.7 839.8,58.2 840.8,58.7 841.8,59.2 842.8,58.6 843.8,58.6 844.8,58.5 845.8,59.1 846.8,59.1 847.8,58.7 848.8,58.6 849.8,58.3 850.8,58.7 851.8,59.0 852.8,58.2 853.8,57.9 854.8,57.9 855.8,58.0 856.8,58.0 857.8,57.3 858.8,57.7 859.8,57.7 860.8,57.3 861.8,57.6 862.8,57.2 863.8,56.7 864.8,56.9" stroke="#ff0000" stroke-width="3.2" fill="none" stroke-linejoin="round" stroke-linecap="round"/><polyline points="172.8,175.1 173.8,175.6 174.8,175.5 175.8,174.4 176.8,174.6 177.8,174.8 178.8,174.1 179.8,172.9 180.8,173.6 181.8,174.4 182.8,174.8 183.8,174.8 184.8,174.1 185.8,174.1 186.8,175.2 187.8,176.4 188.8,175.3 189.8,175.3 190.8,174.5 191.8,174.0 192.8,174.4 193.8,173.9 194.8,174.0 195.8,174.4 196.8,173.6 197.8,172.9 198.8,174.9 199.8,173.7 200.8,172.7 201.8,173.3 202.8,171.7 203.8,172.8 204.8,174.2 205.8,174.7 206.8,173.8 207.8,173.2 208.8,175.4 209.8,174.0 210.8,173.4 211.8,175.0 212.8,174.7 213.8,175.1 214.8,175.4 215.8,174.1 216.8,173.1 217.8,173.5 218.8,175.0 219.8,175.0 220.8,174.5 221.8,174.5 222.8,174.3 223.8,174.7 224.8,175.1 225.8,175.9 226.8,174.8 227.8,172.9 228.8,173.2 229.8,173.9 230.8,174.1 231.8,174.7 232.8,174.3 233.8,173.6 234.8,173.9 235.8,174.6 236.8,174.3 237.8,174.3 238.8,175.8 239.8,174.9 240.8,174.6 241.8,175.0 242.8,174.1 243.8,175.0 244.8,175.8 245.8,174.4 246.8,173.9 247.8,173.7 248.8,172.4 249.8,173.5 250.8,174.4 251.8,174.7 252.8,174.8 253.8,173.9 254.8,173.8 255.8,173.7 256.8,173.2 257.8,173.0 258.8,172.3 259.8,171.3 260.8,171.5 261.8,172.3 262.8,173.1 263.8,173.3 264.8,174.1 265.8,175.8 266.8,173.5 267.8,172.8 268.8,174.9 269.8,173.6 270.8,173.1 271.8,172.2 272.8,171.9 273.8,174.2 274.8,173.5 275.8,172.1 276.8,172.9 277.8,173.7 278.8,173.7 279.8,172.9 280.8,173.3 281.8,173.2 282.8,174.3 283.8,175.4 284.8,174.0 285.8,172.7 286.8,172.2 287.8,172.2 288.8,172.4 289.8,173.1 290.8,172.5 291.8,172.3 292.8,173.1 293.8,172.4 294.8,173.2 295.8,174.0 296.8,173.4 297.8,172.7 298.8,172.0 299.8,172.4 300.8,171.9 301.8,172.1 302.8,172.3 303.8,172.0 304.8,173.2 305.8,173.0 306.8,172.1 307.8,171.8 308.8,172.3 309.8,172.0 310.8,171.9 311.8,173.2 312.8,172.0 313.8,170.9 314.8,172.2 315.8,172.0 316.8,171.1 317.8,171.0 318.8,172.2 319.8,171.6 320.8,171.0 321.8,172.2 322.8,172.2 323.8,171.9 324.8,171.9 325.8,172.0 326.8,171.4 327.8,173.3 328.8,174.5 329.8,172.2 330.8,171.1 331.8,172.0 332.8,173.3 333.8,172.9 334.8,172.4 335.8,172.7 336.8,172.9 337.8,172.5 338.8,171.2 339.8,171.7 340.8,172.4 341.8,172.2 342.8,172.8 343.8,173.2 344.8,172.5 345.8,171.3 346.8,171.6 347.8,172.9 348.8,172.0 349.8,171.4 350.8,171.1 351.8,171.2 352.8,171.7 353.8,170.5 354.8,170.6 355.8,171.5 356.8,171.2 357.8,172.1 358.8,172.6 359.8,172.4 360.8,171.9 361.8,172.2 362.8,171.9 363.8,171.4 364.8,171.0 365.8,170.6 366.8,170.9 367.8,169.8 368.8,170.8 369.8,171.8 370.8,171.7 371.8,171.6 372.8,171.4 373.8,171.3 374.8,171.0 375.8,171.1 376.8,172.6 377.8,171.9 378.8,169.5 379.8,169.5 380.8,170.0 381.8,170.9 382.8,172.0 383.8,172.3 384.8,171.5 385.8,171.2 386.8,172.4 387.8,172.4 388.8,172.0 389.8,171.0 390.8,170.7 391.8,171.8 392.8,170.4 393.8,169.9 394.8,171.0 395.8,170.4 396.8,170.5 397.8,171.7 398.8,171.2 399.8,170.5 400.8,170.2 401.8,170.4 402.8,171.2 403.8,170.1 404.8,169.5 405.8,170.5 406.8,169.8 407.8,168.7 408.8,169.0 409.8,168.5 410.8,168.5 411.8,169.0 412.8,167.1 413.8,166.9 414.8,166.5 415.8,165.9 416.8,166.2 417.8,165.7 418.8,163.9 419.8,163.8 420.8,163.8 421.8,162.7 422.8,163.1 423.8,162.7 424.8,161.9 425.8,160.8 426.8,159.6 427.8,159.2 428.8,159.3 429.8,158.8 430.8,157.4 431.8,157.4 432.8,157.4 433.8,156.7 434.8,156.7 435.8,157.0 436.8,156.2 437.8,155.5 438.8,154.6 439.8,153.6 440.8,153.7 441.8,152.4 442.8,151.5 443.8,151.6 444.8,151.6 445.8,151.2 446.8,150.4 447.8,149.9 448.8,149.7 449.8,149.5 450.8,148.8 451.8,148.2 452.8,148.0 453.8,147.4 454.8,146.7 455.8,146.4 456.8,146.1 457.8,146.0 458.8,145.5 459.8,144.2 460.8,143.9 461.8,144.3 462.8,144.0 463.8,143.4 464.8,141.9 465.8,141.0 466.8,141.4 467.8,141.1 468.8,140.2 469.8,139.4 470.8,138.4 471.8,137.9 472.8,136.9 473.8,136.0 474.8,136.2 475.8,135.0 476.8,134.0 477.8,134.0 478.8,132.6 479.8,130.6 480.8,129.3 481.8,128.1 482.8,127.7 483.8,127.0 484.8,126.0 485.8,125.3 486.8,124.7 487.8,123.8 488.8,122.8 489.8,122.3 490.8,122.0 491.8,121.3 492.8,120.2 493.8,120.0 494.8,118.9 495.8,117.4 496.8,117.1 497.8,116.5 498.8,116.5 499.8,116.3 500.8,115.2 501.8,114.4 502.8,112.6 503.8,112.6 504.8,113.0 505.8,111.3 506.8,110.3 507.8,110.4 508.8,110.6 509.8,110.2 510.8,109.3 511.8,108.7 512.8,107.6 513.8,106.7 514.8,106.4 515.8,105.6 516.8,105.1 517.8,105.3 518.8,104.0 519.8,103.1 520.8,103.4 521.8,103.0 522.8,103.2 523.8,102.2 524.8,101.8 525.8,102.0 526.8,101.7 527.8,100.8 528.8,99.6 529.8,99.2 530.8,98.7 531.8,98.0 532.8,97.0 533.8,96.8 534.8,96.8 535.8,95.9 536.8,95.1 537.8,94.9 538.8,94.7 539.8,94.7 540.8,93.6 541.8,92.5 542.8,92.4 543.8,92.0 544.8,92.1 545.8,92.6 546.8,91.9 547.8,91.1 548.8,89.9 549.8,89.0 550.8,89.0 551.8,89.4 552.8,88.7 553.8,87.9 554.8,88.2 555.8,88.3 556.8,87.0 557.8,86.2 558.8,86.4 559.8,85.4 560.8,84.7 561.8,85.0 562.8,84.6 563.8,84.4 564.8,84.1 565.8,83.0 566.8,82.3 567.8,81.8 568.8,81.5 569.8,82.1 570.8,82.3 571.8,82.0 572.8,82.0 573.8,81.1 574.8,80.1 575.8,80.3 576.8,80.7 577.8,80.5 578.8,79.5 579.8,79.2 580.8,78.6 581.8,77.5 582.8,77.7 583.8,77.9 584.8,77.6 585.8,77.0 586.8,76.2 587.8,76.6 588.8,76.7 589.8,76.4 590.8,75.8 591.8,75.2 592.8,75.4 593.8,75.4 594.8,74.9 595.8,74.4 596.8,74.2 597.8,73.8 598.8,73.5 599.8,73.5 600.8,72.8 601.8,72.4 602.8,72.2 603.8,72.0 604.8,72.0 605.8,71.8 606.8,71.6 607.8,71.2 608.8,70.5 609.8,70.8 610.8,70.6 611.8,69.2 612.8,69.6 613.8,70.3 614.8,69.9 615.8,69.4 616.8,68.8 617.8,69.4 618.8,69.0 619.8,69.0 620.8,68.8 621.8,67.4 622.8,67.7 623.8,67.7 624.8,67.8 625.8,67.4 626.8,67.0 627.8,66.5 628.8,66.9 629.8,67.2 630.8,66.3 631.8,66.3 632.8,66.7 633.8,66.6 634.8,65.9 635.8,65.6 636.8,65.8 637.8,65.8 638.8,65.4 639.8,65.3 640.8,64.9 641.8,64.5 642.8,64.5 643.8,64.3 644.8,64.2 645.8,64.3 646.8,64.2 647.8,64.2 648.8,63.9 649.8,63.6 650.8,63.5 651.8,62.2 652.8,62.0 653.8,63.0 654.8,63.3 655.8,63.0 656.8,62.7 657.8,62.5 658.8,62.1 659.8,62.5" stroke="#ff0000" stroke-width="3.2" fill="none" stroke-linejoin="round" stroke-linecap="round"/><polyline points="793.8,62.8 794.8,62.7 795.8,62.6 796.8,62.9 797.8,63.4 798.8,63.5 799.8,62.6 800.8,62.4 801.8,63.5 802.8,64.4 803.8,64.8 804.8,64.7 805.8,64.9 806.8,64.8 807.8,64.8 808.8,64.9 809.8,64.6 810.8,64.0 811.8,63.4 812.8,63.9 813.8,64.1 814.8,64.0 815.8,64.8 816.8,64.6 817.8,64.7 818.8,65.1 819.8,64.5 820.8,64.7 821.8,65.3 822.8,64.9 823.8,64.8 824.8,64.5 825.8,64.4 826.8,64.9 827.8,64.5 828.8,64.4 829.8,65.3 830.8,65.0 831.8,64.1 832.8,63.8 833.8,63.9 834.8,64.0 835.8,63.7 836.8,64.1 837.8,64.8 838.8,64.4 839.8,64.3 840.8,65.0 841.8,65.1 842.8,64.8 843.8,64.9 844.8,64.6 845.8,64.6 846.8,65.4 847.8,64.8 848.8,63.3 849.8,63.2 850.8,63.4 851.8,63.6 852.8,64.3 853.8,64.3 854.8,64.4 855.8,64.3 856.8,63.6 857.8,62.6 858.8,62.6 859.8,63.0 860.8,62.5 861.8,62.5 862.8,63.1 863.8,63.3 864.8,62.6" stroke="#ff0000" stroke-width="3.2" fill="none" stroke-linejoin="round" stroke-linecap="round"/><circle cx="700.0" cy="61.0" r="1.6" fill="#ff0000"/><circle cx="702.5" cy="61.3" r="1.6" fill="#ff0000"/><circle cx="705.0" cy="60.6" r="1.6" fill="#ff0000"/><circle cx="710.0" cy="60.4" r="1.6" fill="#ff0000"/><circle cx="722.5" cy="60.8" r="1.6" fill="#ff0000"/><circle cx="740.0" cy="61.1" r="1.6" fill="#ff0000"/><circle cx="742.5" cy="61.6" r="1.6" fill="#ff0000"/><circle cx="752.5" cy="61.7" r="1.6" fill="#ff0000"/><circle cx="755.0" cy="61.2" r="1.6" fill="#ff0000"/><circle cx="767.5" cy="61.8" r="1.6" fill="#ff0000"/><circle cx="772.5" cy="60.7" r="1.6" fill="#ff0000"/><circle cx="787.5" cy="61.5" r="1.6" fill="#ff0000"/><circle cx="792.5" cy="61.5" r="1.6" fill="#ff0000"/><circle cx="867.5" cy="61.8" r="1.6" fill="#ff0000"/><circle cx="872.5" cy="61.5" r="1.6" fill="#ff0000"/><circle cx="875.0" cy="60.6" r="1.6" fill="#ff0000"/><circle cx="880.0" cy="60.5" r="1.6" fill="#ff0000"/><circle cx="882.5" cy="61.2" r="1.6" fill="#ff0000"/><circle cx="885.0" cy="60.7" r="1.6" fill="#ff0000"/><circle cx="887.5" cy="61.2" r="1.6" fill="#ff0000"/><circle cx="895.0" cy="60.4" r="1.6" fill="#ff0000"/><circle cx="900.0" cy="60.9" r="1.6" fill="#ff0000"/><circle cx="902.5" cy="61.4" r="1.6" fill="#ff0000"/><circle cx="905.0" cy="61.6" r="1.6" fill="#ff0000"/><circle cx="907.5" cy="61.2" r="1.6" fill="#ff0000"/><circle cx="910.0" cy="60.7" r="1.6" fill="#ff0000"/><circle cx="915.0" cy="61.5" r="1.6" fill="#ff0000"/><circle cx="920.0" cy="60.9" r="1.6" fill="#ff0000"/><circle cx="922.5" cy="61.0" r="1.6" fill="#ff0000"/><circle cx="925.0" cy="60.5" r="1.6" fill="#ff0000"/><circle cx="930.0" cy="61.6" r="1.6" fill="#ff0000"/><circle cx="935.0" cy="60.7" r="1.6" fill="#ff0000"/><circle cx="937.5" cy="61.1" r="1.6" fill="#ff0000"/><circle cx="940.0" cy="60.7" r="1.6" fill="#ff0000"/><circle cx="942.5" cy="60.4" r="1.6" fill="#ff0000"/><circle cx="945.0" cy="60.8" r="1.6" fill="#ff0000"/><circle cx="947.5" cy="61.6" r="1.6" fill="#ff0000"/><circle cx="950.0" cy="60.7" r="1.6" fill="#ff0000"/><circle cx="478.9" cy="114.9" r="1.7" fill="#ff0000"/><circle cx="478.9" cy="117" r="1.7" fill="#ff0000"/><circle cx="478.9" cy="119.5" r="1.7" fill="#ff0000"/><circle cx="478.9" cy="122" r="1.7" fill="#ff0000"/><circle cx="478.9" cy="139" r="1.7" fill="#ff0000"/><circle cx="478.9" cy="143.5" r="1.7" fill="#ff0000"/><circle cx="478.9" cy="147.8" r="1.7" fill="#ff0000"/><polyline points="172.8,170.9 173.8,170.9 174.8,170.9 175.8,170.9 176.8,170.9 177.8,170.8 178.8,170.8 179.8,170.8 180.8,170.8 181.8,170.8 182.8,170.8 183.8,170.8 184.8,170.8 185.8,170.8 186.8,170.7 187.8,170.7 188.8,170.7 189.8,170.7 190.8,170.7 191.8,170.7 192.8,170.7 193.8,170.7 194.8,170.7 195.8,170.6 196.8,170.6 197.8,170.6 198.8,170.6 199.8,170.6 200.8,170.6 201.8,170.6 202.8,170.6 203.8,170.5 204.8,170.5 205.8,170.5 206.8,170.5 207.8,170.5 208.8,170.5 209.8,170.5 210.8,170.4 211.8,170.4 212.8,170.4 213.8,170.4 214.8,170.4 215.8,170.4 216.8,170.4 217.8,170.4 218.8,170.3 219.8,170.3 220.8,170.3 221.8,170.3 222.8,170.3 223.8,170.3 224.8,170.3 225.8,170.2 226.8,170.2 227.8,170.2 228.8,170.2 229.8,170.2 230.8,170.2 231.8,170.2 232.8,170.1 233.8,170.1 234.8,170.1 235.8,170.1 236.8,170.1 237.8,170.1 238.8,170.1 239.8,170.0 240.8,170.0 241.8,170.0 242.8,170.0 243.8,170.0 244.8,170.0 245.8,170.0 246.8,169.9 247.8,169.9 248.8,169.9 249.8,169.9 250.8,169.9 251.8,169.9 252.8,169.9 253.8,169.8 254.8,169.8 255.8,169.8 256.8,169.8 257.8,169.8 258.8,169.8 259.8,169.7 260.8,169.7 261.8,169.7 262.8,169.7 263.8,169.7 264.8,169.7 265.8,169.6 266.8,169.6 267.8,169.6 268.8,169.6 269.8,169.6 270.8,169.6 271.8,169.6 272.8,169.5 273.8,169.5 274.8,169.5 275.8,169.5 276.8,169.5 277.8,169.5 278.8,169.4 279.8,169.4 280.8,169.4 281.8,169.4 282.8,169.4 283.8,169.4 284.8,169.3 285.8,169.3 286.8,169.3 287.8,169.3 288.8,169.3 289.8,169.3 290.8,169.2 291.8,169.2 292.8,169.2 293.8,169.2 294.8,169.2 295.8,169.2 296.8,169.2 297.8,169.1 298.8,169.1 299.8,169.1 300.8,169.1 301.8,169.1 302.8,169.0 303.8,169.0 304.8,169.0 305.8,169.0 306.8,169.0 307.8,169.0 308.8,168.9 309.8,168.9 310.8,168.9 311.8,168.9 312.8,168.9 313.8,168.9 314.8,168.8 315.8,168.8 316.8,168.8 317.8,168.8 318.8,168.8 319.8,168.7 320.8,168.7 321.8,168.7 322.8,168.7 323.8,168.7 324.8,168.7 325.8,168.6 326.8,168.6 327.8,168.6 328.8,168.6 329.8,168.6 330.8,168.5 331.8,168.5 332.8,168.5 333.8,168.5 334.8,168.5 335.8,168.5 336.8,168.4 337.8,168.4 338.8,168.4 339.8,168.4 340.8,168.4 341.8,168.3 342.8,168.3 343.8,168.3 344.8,168.3 345.8,168.3 346.8,168.3 347.8,168.2 348.8,168.2 349.8,168.2 350.8,168.2 351.8,168.1 352.8,168.1 353.8,168.1 354.8,168.1 355.8,168.0 356.8,168.0 357.8,168.0 358.8,167.9 359.8,167.9 360.8,167.9 361.8,167.8 362.8,167.8 363.8,167.8 364.8,167.8 365.8,167.7 366.8,167.7 367.8,167.7 368.8,167.6 369.8,167.6 370.8,167.6 371.8,167.5 372.8,167.5 373.8,167.5 374.8,167.5 375.8,167.4 376.8,167.4 377.8,167.4 378.8,167.3 379.8,167.3 380.8,167.3 381.8,167.2 382.8,167.2 383.8,167.2 384.8,167.2 385.8,167.1 386.8,167.1 387.8,167.1 388.8,167.0 389.8,167.0 390.8,167.0 391.8,166.9 392.8,166.9 393.8,166.9 394.8,166.8 395.8,166.8 396.8,166.8 397.8,166.7 398.8,166.7 399.8,166.6 400.8,166.6 401.8,166.6 402.8,166.5 403.8,166.5 404.8,166.5 405.8,166.4 406.8,166.4 407.8,166.3 408.8,166.2 409.8,165.9 410.8,165.6 411.8,165.3 412.8,164.9 413.8,164.4 414.8,164.0 415.8,163.6 416.8,163.2 417.8,162.8 418.8,162.3 419.8,161.8 420.8,161.2 421.8,160.6 422.8,160.0 423.8,159.4 424.8,158.8 425.8,158.2 426.8,157.6 427.8,157.1 428.8,156.5 429.8,156.0 430.8,155.5 431.8,155.0 432.8,154.6 433.8,154.1 434.8,153.6 435.8,153.2 436.8,152.7 437.8,152.2 438.8,151.7 439.8,151.3 440.8,150.8 441.8,150.3 442.8,149.9 443.8,149.4 444.8,148.9 445.8,148.4 446.8,148.0 447.8,147.5 448.8,147.0 449.8,146.5 450.8,146.1 451.8,145.6 452.8,145.1 453.8,144.6 454.8,144.1 455.8,143.6 456.8,143.2 457.8,142.7 458.8,142.2 459.8,141.7 460.8,141.2 461.8,140.8 462.8,140.3 463.8,139.8 464.8,139.3 465.8,138.8 466.8,138.3 467.8,137.7 468.8,137.2 469.8,136.5 470.8,135.9 471.8,135.3 472.8,134.7 473.8,134.0 474.8,133.1 475.8,132.2 476.8,131.2 477.8,130.0 478.8,128.8 479.8,127.8 480.8,126.8 481.8,125.8 482.8,125.0 483.8,124.3 484.8,123.5 485.8,122.8 486.8,122.0 487.8,121.3 488.8,120.5 489.8,119.8 490.8,119.0 491.8,118.3 492.8,117.5 493.8,116.8 494.8,116.0 495.8,115.3 496.8,114.7 497.8,114.0 498.8,113.4 499.8,112.8 500.8,112.2 501.8,111.6 502.8,111.0 503.8,110.4 504.8,109.8 505.8,109.2 506.8,108.6 507.8,108.0 508.8,107.4 509.8,106.8 510.8,106.2 511.8,105.6 512.8,105.0 513.8,104.4 514.8,103.8 515.8,103.3 516.8,102.7 517.8,102.2 518.8,101.7 519.8,101.2 520.8,100.7 521.8,100.2 522.8,99.7 523.8,99.2 524.8,98.7 525.8,98.3 526.8,97.8 527.8,97.3 528.8,96.8 529.8,96.3 530.8,95.8 531.8,95.3 532.8,94.8 533.8,94.3 534.8,93.8 535.8,93.3 536.8,92.9 537.8,92.4 538.8,91.9 539.8,91.5 540.8,91.0 541.8,90.6 542.8,90.1 543.8,89.6 544.8,89.2 545.8,88.7 546.8,88.3 547.8,87.8 548.8,87.3 549.8,86.9 550.8,86.4 551.8,86.0 552.8,85.5 553.8,85.1 554.8,84.7 555.8,84.3 556.8,84.0 557.8,83.6 558.8,83.3 559.8,82.9 560.8,82.6 561.8,82.3 562.8,81.9 563.8,81.6 564.8,81.3 565.8,80.9 566.8,80.6 567.8,80.3 568.8,79.9 569.8,79.6 570.8,79.2 571.8,78.9 572.8,78.6 573.8,78.3 574.8,77.9 575.8,77.6 576.8,77.3 577.8,77.0 578.8,76.7 579.8,76.4 580.8,76.1 581.8,75.8 582.8,75.4 583.8,75.1 584.8,74.8 585.8,74.5 586.8,74.2 587.8,73.9 588.8,73.6 589.8,73.3 590.8,73.0 591.8,72.7 592.8,72.4 593.8,72.1 594.8,71.8 595.8,71.6 596.8,71.3 597.8,71.1 598.8,70.8 599.8,70.6 600.8,70.3 601.8,70.1 602.8,69.8 603.8,69.6 604.8,69.3 605.8,69.1 606.8,68.8 607.8,68.6 608.8,68.3 609.8,68.1 610.8,67.9 611.8,67.7 612.8,67.4 613.8,67.2 614.8,67.0 615.8,66.8 616.8,66.6 617.8,66.4 618.8,66.2 619.8,66.0 620.8,65.8 621.8,65.6 622.8,65.4 623.8,65.2 624.8,65.1 625.8,64.9 626.8,64.7 627.8,64.5 628.8,64.3 629.8,64.2 630.8,64.0 631.8,63.8 632.8,63.6 633.8,63.5 634.8,63.3 635.8,63.1 636.8,62.9 637.8,62.8 638.8,62.6 639.8,62.4 640.8,62.3 641.8,62.1 642.8,61.9 643.8,61.8 644.8,61.6 645.8,61.5 646.8,61.3 647.8,61.2 648.8,61.0 649.8,60.8 650.8,60.7 651.8,60.5 652.8,60.4 653.8,60.3 654.8,60.1 655.8,60.0 656.8,59.8 657.8,59.7 658.8,59.6 659.8,59.4" stroke="#fff" stroke-width="2.2" fill="none" stroke-linejoin="round"/><polyline points="793.8,59.4 794.8,59.7 795.8,59.9 796.8,60.1 797.8,60.3 798.8,60.5 799.8,60.7 800.8,60.8 801.8,60.9 802.8,61.0 803.8,61.0 804.8,61.1 805.8,61.1 806.8,61.2 807.8,61.3 808.8,61.3 809.8,61.4 810.8,61.4 811.8,61.5 812.8,61.6 813.8,61.6 814.8,61.7 815.8,61.7 816.8,61.8 817.8,61.9 818.8,61.9 819.8,62.0 820.8,62.0 821.8,62.0 822.8,62.0 823.8,62.0 824.8,62.0 825.8,62.0 826.8,61.9 827.8,61.9 828.8,61.9 829.8,61.9 830.8,61.9 831.8,61.9 832.8,61.9 833.8,61.9 834.8,61.9 835.8,61.9 836.8,61.9 837.8,61.9 838.8,61.8 839.8,61.8 840.8,61.8 841.8,61.8 842.8,61.8 843.8,61.8 844.8,61.8 845.8,61.7 846.8,61.6 847.8,61.5 848.8,61.4 849.8,61.3 850.8,61.2 851.8,61.1 852.8,61.0 853.8,60.9 854.8,60.8 855.8,60.6 856.8,60.5 857.8,60.4 858.8,60.3 859.8,60.2 860.8,60.1 861.8,59.9 862.8,59.8 863.8,59.6 864.8,59.4" stroke="#fff" stroke-width="2.2" fill="none" stroke-linejoin="round"/></g>
<rect x="172.8" y="59" width="864.0" height="187.2" fill="none" stroke="#000" stroke-width="2.2"/>
<path d="M636.8 59.6 L641.8 59.1 H797.8" stroke="#fff" stroke-width="1.6" fill="none"/>
<path d="M172.80 59V47.4M172.80 246.2V257.8M183.60 59V53.0M183.60 246.2V252.2M194.40 59V53.0M194.40 246.2V252.2M205.20 59V53.0M205.20 246.2V252.2M216.00 59V53.0M216.00 246.2V252.2M226.80 59V53.0M226.80 246.2V252.2M237.60 59V53.0M237.60 246.2V252.2M248.40 59V53.0M248.40 246.2V252.2M259.20 59V53.0M259.20 246.2V252.2M270.00 59V53.0M270.00 246.2V252.2M280.80 59V47.4M280.80 246.2V257.8M291.60 59V53.0M291.60 246.2V252.2M302.40 59V53.0M302.40 246.2V252.2M313.20 59V53.0M313.20 246.2V252.2M324.00 59V53.0M324.00 246.2V252.2M334.80 59V53.0M334.80 246.2V252.2M345.60 59V53.0M345.60 246.2V252.2M356.40 59V53.0M356.40 246.2V252.2M367.20 59V53.0M367.20 246.2V252.2M378.00 59V53.0M378.00 246.2V252.2M388.80 59V47.4M388.80 246.2V257.8M399.60 59V53.0M399.60 246.2V252.2M410.40 59V53.0M410.40 246.2V252.2M421.20 59V53.0M421.20 246.2V252.2M432.00 59V53.0M432.00 246.2V252.2M442.80 59V53.0M442.80 246.2V252.2M453.60 59V53.0M453.60 246.2V252.2M464.40 59V53.0M464.40 246.2V252.2M475.20 59V53.0M475.20 246.2V252.2M486.00 59V53.0M486.00 246.2V252.2M496.80 59V47.4M496.80 246.2V257.8M507.60 59V53.0M507.60 246.2V252.2M518.40 59V53.0M518.40 246.2V252.2M529.20 59V53.0M529.20 246.2V252.2M540.00 59V53.0M540.00 246.2V252.2M550.80 59V53.0M550.80 246.2V252.2M561.60 59V53.0M561.60 246.2V252.2M572.40 59V53.0M572.40 246.2V252.2M583.20 59V53.0M583.20 246.2V252.2M594.00 59V53.0M594.00 246.2V252.2M604.80 59V47.4M604.80 246.2V257.8M615.60 59V53.0M615.60 246.2V252.2M626.40 59V53.0M626.40 246.2V252.2M637.20 59V53.0M637.20 246.2V252.2M648.00 59V53.0M648.00 246.2V252.2M658.80 59V53.0M658.80 246.2V252.2M669.60 59V53.0M669.60 246.2V252.2M680.40 59V53.0M680.40 246.2V252.2M691.20 59V53.0M691.20 246.2V252.2M702.00 59V53.0M702.00 246.2V252.2M712.80 59V47.4M712.80 246.2V257.8M723.60 59V53.0M723.60 246.2V252.2M734.40 59V53.0M734.40 246.2V252.2M745.20 59V53.0M745.20 246.2V252.2M756.00 59V53.0M756.00 246.2V252.2M766.80 59V53.0M766.80 246.2V252.2M777.60 59V53.0M777.60 246.2V252.2M788.40 59V53.0M788.40 246.2V252.2M799.20 59V53.0M799.20 246.2V252.2M810.00 59V53.0M810.00 246.2V252.2M820.80 59V47.4M820.80 246.2V257.8M831.60 59V53.0M831.60 246.2V252.2M842.40 59V53.0M842.40 246.2V252.2M853.20 59V53.0M853.20 246.2V252.2M864.00 59V53.0M864.00 246.2V252.2M874.80 59V53.0M874.80 246.2V252.2M885.60 59V53.0M885.60 246.2V252.2M896.40 59V53.0M896.40 246.2V252.2M907.20 59V53.0M907.20 246.2V252.2M918.00 59V53.0M918.00 246.2V252.2M928.80 59V47.4M928.80 246.2V257.8M939.60 59V53.0M939.60 246.2V252.2M950.40 59V53.0M950.40 246.2V252.2M961.20 59V53.0M961.20 246.2V252.2M972.00 59V53.0M972.00 246.2V252.2M982.80 59V53.0M982.80 246.2V252.2M993.60 59V53.0M993.60 246.2V252.2M1004.40 59V53.0M1004.40 246.2V252.2M1015.20 59V53.0M1015.20 246.2V252.2M1026.00 59V53.0M1026.00 246.2V252.2M1036.80 59V47.4M1036.80 246.2V257.8" stroke="#000" stroke-width="1.1" fill="none"/>
<text x="172.8" y="36.6" text-anchor="middle" class="a">0</text>
<text x="280.8" y="36.6" text-anchor="middle" class="a">10</text>
<text x="388.8" y="36.6" text-anchor="middle" class="a">20</text>
<text x="496.8" y="36.6" text-anchor="middle" class="a">30</text>
<text x="604.8" y="36.6" text-anchor="middle" class="a">40</text>
<text x="712.8" y="36.6" text-anchor="middle" class="a">50</text>
<text x="820.8" y="36.6" text-anchor="middle" class="a">60</text>
<text x="928.8" y="36.6" text-anchor="middle" class="a">70</text>
<text x="1036.8" y="36.6" text-anchor="middle" class="a">80</text>
<path d="M172.8 246.20H161.2M172.8 239.96H166.8M172.8 233.72H166.8M172.8 227.48H166.8M172.8 221.24H166.8M172.8 215.00H161.2M172.8 208.76H166.8M172.8 202.52H166.8M172.8 196.28H166.8M172.8 190.04H166.8M172.8 183.80H161.2M172.8 177.56H166.8M172.8 171.32H166.8M172.8 165.08H166.8M172.8 158.84H166.8M172.8 152.60H161.2M172.8 146.36H166.8M172.8 140.12H166.8M172.8 133.88H166.8M172.8 127.64H166.8M172.8 121.40H161.2M172.8 115.16H166.8M172.8 108.92H166.8M172.8 102.68H166.8M172.8 96.44H166.8M172.8 90.20H161.2M172.8 83.96H166.8M172.8 77.72H166.8M172.8 71.48H166.8M172.8 65.24H166.8M172.8 59.00H161.2" stroke="#000" stroke-width="1.1" fill="none"/>
<text x="149.3" y="254.9" text-anchor="end" class="a">−0.3</text>
<text x="149.3" y="223.7" text-anchor="end" class="a">−0.2</text>
<text x="149.3" y="192.5" text-anchor="end" class="a">−0.1</text>
<text x="149.3" y="161.3" text-anchor="end" class="a">0.0</text>
<text x="149.3" y="130.1" text-anchor="end" class="a">0.1</text>
<text x="149.3" y="98.9" text-anchor="end" class="a">0.2</text>
<text x="149.3" y="67.7" text-anchor="end" class="a">0.3</text>
<path d="M1036.8 246.20H1042.8M1036.8 242.46H1042.8M1036.8 238.71H1042.8M1036.8 234.97H1042.8M1036.8 231.22H1042.8M1036.8 227.48H1048.4M1036.8 223.74H1042.8M1036.8 219.99H1042.8M1036.8 216.25H1042.8M1036.8 212.50H1042.8M1036.8 208.76H1042.8M1036.8 205.02H1042.8M1036.8 201.27H1042.8M1036.8 197.53H1042.8M1036.8 193.78H1042.8M1036.8 190.04H1048.4M1036.8 186.30H1042.8M1036.8 182.55H1042.8M1036.8 178.81H1042.8M1036.8 175.06H1042.8M1036.8 171.32H1042.8M1036.8 167.58H1042.8M1036.8 163.83H1042.8M1036.8 160.09H1042.8M1036.8 156.34H1042.8M1036.8 152.60H1048.4M1036.8 148.86H1042.8M1036.8 145.11H1042.8M1036.8 141.37H1042.8M1036.8 137.62H1042.8M1036.8 133.88H1042.8M1036.8 130.14H1042.8M1036.8 126.39H1042.8M1036.8 122.65H1042.8M1036.8 118.90H1042.8M1036.8 115.16H1048.4M1036.8 111.42H1042.8M1036.8 107.67H1042.8M1036.8 103.93H1042.8M1036.8 100.18H1042.8M1036.8 96.44H1042.8M1036.8 92.70H1042.8M1036.8 88.95H1042.8M1036.8 85.21H1042.8M1036.8 81.46H1042.8M1036.8 77.72H1048.4M1036.8 73.98H1042.8M1036.8 70.23H1042.8M1036.8 66.49H1042.8M1036.8 62.74H1042.8M1036.8 59.00H1042.8" stroke="#000" stroke-width="1.1" fill="none"/>
<text x="1100.2" y="236.2" text-anchor="end" class="a">−20</text>
<text x="1100.2" y="198.7" text-anchor="end" class="a">−10</text>
<text x="1100.2" y="161.3" text-anchor="end" class="a">0</text>
<text x="1100.2" y="123.9" text-anchor="end" class="a">10</text>
<text x="1100.2" y="86.4" text-anchor="end" class="a">20</text>
<text x="0" y="0" transform="translate(74.8,152.6) rotate(-90)" text-anchor="middle" class="l" fill="#000">Signal [V]</text>
<text transform="translate(1148.6,152.6) rotate(-90)" text-anchor="middle" class="l" fill="#0000b4">g<tspan font-size="19px" dy="6.5">br</tspan><tspan dy="-6.5"> [nm/s</tspan><tspan font-size="19.6px" dy="-9">2</tspan><tspan dy="9">]</tspan></text>
<g clip-path="url(#c1)"><polyline points="172.8,439.5 173.3,443.3 173.8,439.3 174.3,445.6 174.8,440.1 175.3,444.4 175.8,440.1 176.3,444.8 176.8,440.7 177.3,447.6 177.8,440.3 178.3,444.9 178.8,440.7 179.3,445.5 179.8,440.6 180.3,445.6 180.8,440.8 181.3,444.8 181.8,441.5 182.3,445.1 182.8,440.7 183.3,444.5 183.8,438.2 184.3,444.3 184.8,439.9 185.3,445.3 185.8,441.3 186.3,445.4 186.8,440.6 187.3,445.3 187.8,440.8 188.3,445.6 188.8,440.4 189.3,445.7 189.8,440.6 190.3,445.7 190.8,442.0 191.3,446.9 191.8,440.8 192.3,446.0 192.8,441.9 193.3,446.5 193.8,441.1 194.3,445.7 194.8,440.1 195.3,445.9 195.8,441.6 196.3,445.7 196.8,439.9 197.3,445.4 197.8,441.6 198.3,446.5 198.8,441.0 199.3,445.1 199.8,440.3 200.3,445.3 200.8,440.4 201.3,445.1 201.8,440.4 202.3,445.7 202.8,440.6 203.3,445.2 203.8,440.5 204.3,445.4 204.8,440.8 205.3,444.8 205.8,440.6 206.3,444.6 206.8,440.7 207.3,444.3 207.8,440.1 208.3,443.7 208.8,440.3 209.3,443.6 209.8,440.4 210.3,444.9 210.8,438.8 211.3,444.4 211.8,438.9 212.3,445.2 212.8,440.2 213.3,445.5 213.8,440.3 214.3,444.8 214.8,439.3 215.3,443.1 215.8,439.8 216.3,442.9 216.8,438.0 217.3,442.3 217.8,438.3 218.3,444.5 218.8,439.1 219.3,442.7 219.8,438.2 220.3,443.4 220.8,438.4 221.3,442.9 221.8,439.0 222.3,442.8 222.8,438.7 223.3,442.2 223.8,438.4 224.3,441.9 224.8,437.5 225.3,441.9 225.8,437.5 226.3,442.3 226.8,437.4 227.3,441.5 227.8,437.3 228.3,442.6 228.8,435.6 229.3,441.6 229.8,437.9 230.3,443.2 230.8,438.1 231.3,442.2 231.8,438.0 232.3,442.5 232.8,436.4 233.3,441.3 233.8,437.7 234.3,441.3 234.8,437.1 235.3,441.5 235.8,436.2 236.3,442.1 236.8,437.2 237.3,442.3 237.8,436.0 238.3,441.9 238.8,436.8 239.3,441.2 239.8,436.1 240.3,441.7 240.8,437.4 241.3,442.5 241.8,435.9 242.3,442.1 242.8,436.2 243.3,442.0 243.8,437.0 244.3,442.9 244.8,437.5 245.3,442.7 245.8,436.5 246.3,441.3 246.8,437.7 247.3,443.0 247.8,437.4 248.3,441.0 248.8,436.3 249.3,442.2 249.8,436.1 250.3,440.7 250.8,435.8 251.3,443.9 251.8,437.0 252.3,440.8 252.8,437.3 253.3,441.4 253.8,436.6 254.3,439.8 254.8,436.2 255.3,440.5 255.8,436.4 256.3,440.1 256.8,436.3 257.3,439.6 257.8,435.3 258.3,440.5 258.8,436.3 259.3,440.9 259.8,435.0 260.3,439.7 260.8,435.6 261.3,440.7 261.8,435.7 262.3,440.4 262.8,436.2 263.3,440.1 263.8,435.5 264.3,439.3 264.8,435.3 265.3,439.8 265.8,436.5 266.3,439.7 266.8,435.4 267.3,440.0 267.8,435.7 268.3,439.5 268.8,435.1 269.3,439.3 269.8,434.6 270.3,439.1 270.8,434.4 271.3,439.6 271.8,435.3 272.3,440.0 272.8,434.4 273.3,439.5 273.8,432.9 274.3,439.8 274.8,434.6 275.3,440.3 275.8,435.3 276.3,439.2 276.8,435.2 277.3,439.1 277.8,434.6 278.3,439.6 278.8,434.5 279.3,438.9 279.8,434.9 280.3,438.6 280.8,434.2 281.3,438.8 281.8,433.3 282.3,438.6 282.8,434.6 283.3,439.1 283.8,434.1 284.3,439.1 284.8,435.6 285.3,439.2 285.8,434.5 286.3,437.9 286.8,433.8 287.3,439.9 287.8,434.8 288.3,440.0 288.8,433.6 289.3,437.6 289.8,434.0 290.3,438.6 290.8,434.0 291.3,438.2 291.8,434.1 292.3,438.3 292.8,434.1 293.3,437.9 293.8,433.9 294.3,438.7 294.8,434.0 295.3,438.7 295.8,433.6 296.3,438.7 296.8,433.4 297.3,438.5 297.8,434.2 298.3,437.5 298.8,433.5 299.3,438.9 299.8,433.4 300.3,438.7 300.8,433.4 301.3,437.8 301.8,433.2 302.3,436.6 302.8,432.9 303.3,439.2 303.8,432.7 304.3,437.4 304.8,433.1 305.3,439.1 305.8,433.9 306.3,437.5 306.8,432.5 307.3,438.9 307.8,432.6 308.3,437.9 308.8,433.5 309.3,437.8 309.8,432.6 310.3,438.0 310.8,431.9 311.3,437.5 311.8,432.0 312.3,435.7 312.8,432.5 313.3,437.0 313.8,432.5 314.3,437.4 314.8,432.8 315.3,436.3 315.8,432.2 316.3,436.9 316.8,431.9 317.3,437.1 317.8,432.3 318.3,436.4 318.8,432.3 319.3,436.0 319.8,431.0 320.3,436.4 320.8,432.1 321.3,436.5 321.8,431.9 322.3,435.4 322.8,431.6 323.3,434.8 323.8,430.6 324.3,436.3 324.8,430.5 325.3,434.4 325.8,430.2 326.3,433.6 326.8,430.1 327.3,434.2 327.8,430.1 328.3,433.4 328.8,429.2 329.3,433.1 329.8,428.7 330.3,432.2 330.8,428.0 331.3,432.6 331.8,428.4 332.3,434.0 332.8,428.6 333.3,432.1 333.8,428.2 334.3,431.8 334.8,426.6 335.3,432.3 335.8,427.1 336.3,431.6 336.8,426.4 337.3,431.3 337.8,426.6 338.3,430.4 338.8,426.9 339.3,430.8 339.8,427.1 340.3,429.8 340.8,424.9 341.3,430.0 341.8,426.1 342.3,430.7 342.8,425.2 343.3,430.3 343.8,424.7 344.3,429.0 344.8,424.2 345.3,428.7 345.8,425.3 346.3,429.4 346.8,423.4 347.3,429.0 347.8,424.4 348.3,428.2 348.8,422.7 349.3,427.7 349.8,423.8 350.3,428.1 350.8,423.6 351.3,427.7 351.8,423.3 352.3,427.7 352.8,424.4 353.3,427.7 353.8,423.6 354.3,426.6 354.8,421.8 355.3,426.8 355.8,422.5 356.3,427.8 356.8,422.1 357.3,426.9 357.8,423.6 358.3,426.7 358.8,421.5 359.3,426.8 359.8,420.7 360.3,425.9 360.8,421.8 361.3,425.9 361.8,421.7 362.3,425.8 362.8,421.1 363.3,425.3 363.8,421.6 364.3,425.8 364.8,422.0 365.3,426.2 365.8,421.9 366.3,426.0 366.8,421.2 367.3,425.8 367.8,421.2 368.3,426.5 368.8,420.9 369.3,425.7 369.8,420.9 370.3,425.1 370.8,420.9 371.3,424.8 371.8,421.3 372.3,424.5 372.8,421.1 373.3,425.2 373.8,421.0 374.3,426.0 374.8,420.5 375.3,425.1 375.8,421.1 376.3,424.9 376.8,420.5 377.3,424.5 377.8,420.4 378.3,426.2 378.8,419.8 379.3,424.9 379.8,420.8 380.3,424.1 380.8,419.4 381.3,424.1 381.8,420.5 382.3,425.1 382.8,418.8 383.3,425.2 383.8,420.6 384.3,424.9 384.8,419.8 385.3,424.3 385.8,418.7 386.3,426.1 386.8,420.2 387.3,424.8 387.8,419.1 388.3,424.0 388.8,420.4 389.3,424.9 389.8,419.7 390.3,424.9 390.8,420.6 391.3,425.1 391.8,419.9 392.3,424.3 392.8,419.6 393.3,425.2 393.8,419.2 394.3,424.3 394.8,418.9 395.3,423.3 395.8,418.7 396.3,423.6 396.8,418.0 397.3,423.8 397.8,419.6 398.3,423.9 398.8,417.9 399.3,423.6 399.8,419.1 400.3,422.6 400.8,417.7 401.3,422.6 401.8,417.5 402.3,423.7 402.8,417.8 403.3,423.2 403.8,417.0 404.3,422.3 404.8,418.8 405.3,422.0 405.8,418.1 406.3,421.9 406.8,417.9 407.3,422.4 407.8,416.8 408.3,422.2 408.8,416.8 409.3,421.0 409.8,417.0 410.3,421.0 410.8,416.9 411.3,421.1 411.8,416.7 412.3,421.4 412.8,417.7 413.3,420.9 413.8,417.4 414.3,421.0 414.8,416.3 415.3,420.5 415.8,415.2 416.3,421.4 416.8,416.6 417.3,420.9 417.8,415.5 418.3,421.5 418.8,416.0 419.3,421.0 419.8,416.3 420.3,420.0 420.8,415.5 421.3,419.6 421.8,415.3 422.3,419.5 422.8,414.1 423.3,420.4 423.8,415.4 424.3,420.0 424.8,415.8 425.3,419.7 425.8,414.0 426.3,419.3 426.8,413.5 427.3,419.5 427.8,415.2 428.3,419.6 428.8,414.0 429.3,418.7 429.8,414.4 430.3,419.1 430.8,414.1 431.3,419.5 431.8,415.4 432.3,418.8 432.8,413.7 433.3,418.7 433.8,413.4 434.3,418.9 434.8,414.1 435.3,418.5 435.8,412.8 436.3,417.6 436.8,413.9 437.3,417.9 437.8,414.0 438.3,417.6 438.8,413.9 439.3,417.4 439.8,412.6 440.3,417.4 440.8,412.8 441.3,417.4 441.8,413.7 442.3,418.6 442.8,412.8 443.3,417.0 443.8,413.7 444.3,417.6 444.8,412.4 445.3,417.2 445.8,412.9 446.3,416.8 446.8,411.1 447.3,417.9 447.8,412.7 448.3,417.7 448.8,412.3 449.3,415.7 449.8,412.4 450.3,417.6 450.8,412.6 451.3,418.0 451.8,411.2 452.3,416.6 452.8,412.9 453.3,417.7 453.8,412.4 454.3,416.7 454.8,412.2 455.3,416.8 455.8,412.4 456.3,417.9 456.8,413.6 457.3,417.7 457.8,413.2 458.3,418.6 458.8,413.3 459.3,417.7 459.8,413.3 460.3,417.4 460.8,414.0 461.3,418.6 461.8,414.1 462.3,418.5 462.8,414.4 463.3,418.1 463.8,414.2 464.3,419.3 464.8,414.5 465.3,419.0 465.8,414.9 466.3,420.1 466.8,411.1 467.3,420.4 467.8,416.1 468.3,422.0 468.8,416.8 469.3,420.7 469.8,416.4 470.3,420.2 470.8,416.6 471.3,420.7 471.8,415.9 472.3,422.0 472.8,416.9 473.3,421.2 473.8,416.2 474.3,422.6 474.8,418.0 475.3,421.7 475.8,418.0 476.3,421.8 476.8,416.5 477.3,421.1 477.8,417.0 478.3,422.9 478.8,417.9 479.3,422.5 479.8,418.0 480.3,422.4 480.8,417.6 481.3,421.5 481.8,418.1 482.3,422.4 482.8,418.1 483.3,421.6 483.8,418.1 484.3,423.8 484.8,417.8 485.3,422.5 485.8,417.6 486.3,423.3 486.8,419.1 487.3,423.9 487.8,417.5 488.3,423.4 488.8,419.3 489.3,422.7 489.8,419.2 490.3,422.9 490.8,419.6 491.3,423.4 491.8,419.4 492.3,424.0 492.8,419.8 493.3,423.5 493.8,418.9 494.3,425.0 494.8,419.4 495.3,424.6 495.8,420.3 496.3,423.9 496.8,419.8 497.3,423.5 497.8,420.1 498.3,425.6 498.8,419.9 499.3,423.9 499.8,419.8 500.3,424.3 500.8,419.8 501.3,425.5 501.8,420.2 502.3,424.9 502.8,418.4 503.3,424.8 503.8,421.4 504.3,426.3 504.8,421.3 505.3,424.3 505.8,421.1 506.3,425.2 506.8,421.4 507.3,426.0 507.8,420.3 508.3,425.6 508.8,421.1 509.3,424.6 509.8,421.1 510.3,425.2 510.8,422.0 511.3,425.7 511.8,421.5 512.3,426.1 512.8,421.7 513.3,427.1 513.8,422.9 514.3,426.6 514.8,421.3 515.3,426.9 515.8,421.7 516.3,426.1 516.8,422.9 517.3,426.9 517.8,422.5 518.3,425.9 518.8,422.7 519.3,426.9 519.8,422.6 520.3,428.1 520.8,422.5 521.3,428.2 521.8,423.6 522.3,428.9 522.8,423.7 523.3,428.2 523.8,423.5 524.3,429.3 524.8,424.6 525.3,428.6 525.8,424.0 526.3,428.5 526.8,424.9 527.3,428.2 527.8,424.0 528.3,429.9 528.8,424.3 529.3,429.3 529.8,425.5 530.3,429.4 530.8,425.3 531.3,429.2 531.8,424.9 532.3,430.4 532.8,425.8 533.3,430.3 533.8,425.6 534.3,430.4 534.8,426.5 535.3,430.4 535.8,426.0 536.3,430.0 536.8,426.5 537.3,431.1 537.8,426.1 538.3,430.5 538.8,427.4 539.3,431.0 539.8,426.2 540.3,430.8 540.8,426.1 541.3,432.9 541.8,428.1 542.3,432.4 542.8,427.8 543.3,432.2 543.8,428.2 544.3,432.5 544.8,428.6 545.3,432.4 545.8,428.7 546.3,434.2 546.8,431.0 547.3,435.7 547.8,429.7 548.3,434.1 548.8,430.4 549.3,434.9 549.8,429.4 550.3,435.6 550.8,429.5 551.3,434.9 551.8,431.5 552.3,436.3 552.8,431.4 553.3,436.7 553.8,430.9 554.3,436.6 554.8,431.7 555.3,438.0 555.8,433.5 556.3,438.3 556.8,433.6 557.3,438.3 557.8,434.4 558.3,438.3 558.8,434.3 559.3,438.1 559.8,433.1 560.3,438.0 560.8,433.4 561.3,439.0 561.8,434.2 562.3,438.1 562.8,433.3 563.3,438.2 563.8,432.7 564.3,438.2 564.8,434.1 565.3,437.8 565.8,433.4 566.3,438.7 566.8,432.8 567.3,439.4 567.8,433.9 568.3,441.5 568.8,433.7 569.3,438.9 569.8,434.4 570.3,438.3 570.8,434.6 571.3,438.4 571.8,434.8 572.3,438.4 572.8,434.2 573.3,438.9 573.8,434.6 574.3,439.1 574.8,434.8 575.3,437.8 575.8,434.2 576.3,438.1 576.8,432.9 577.3,438.2 577.8,434.6 578.3,439.0 578.8,434.6 579.3,438.7 579.8,435.1 580.3,438.2 580.8,433.9 581.3,437.8 581.8,433.8 582.3,437.9 582.8,433.5 583.3,438.1 583.8,434.8 584.3,438.7 584.8,434.0 585.3,437.2 585.8,432.3 586.3,438.3 586.8,434.2 587.3,437.4 587.8,433.9 588.3,437.2 588.8,433.3 589.3,439.1 589.8,433.7 590.3,438.6 590.8,433.4 591.3,439.1 591.8,433.4 592.3,437.6 592.8,433.4 593.3,437.7 593.8,433.6 594.3,437.4 594.8,432.8 595.3,437.6 595.8,433.2 596.3,436.8 596.8,433.5 597.3,438.4 597.8,433.0 598.3,437.7 598.8,432.7 599.3,437.3 599.8,431.7 600.3,437.2 600.8,433.0 601.3,437.4 601.8,432.5 602.3,437.8 602.8,431.7 603.3,437.3 603.8,433.0 604.3,436.9 604.8,432.5 605.3,437.9 605.8,433.2 606.3,436.8 606.8,431.2 607.3,437.6 607.8,429.2 608.3,437.7 608.8,432.2 609.3,436.7 609.8,431.7 610.3,436.6 610.8,432.4 611.3,436.6 611.8,432.8 612.3,436.6 612.8,432.4 613.3,436.3 613.8,432.2 614.3,437.0 614.8,431.3 615.3,436.7 615.8,433.2 616.3,437.8 616.8,432.0 617.3,437.9 617.8,433.2 618.3,437.4 618.8,432.7 619.3,437.0 619.8,432.3 620.3,435.9 620.8,432.4 621.3,435.9 621.8,428.4 622.3,436.8 622.8,429.1 623.3,437.4 623.8,432.4 624.3,437.6 624.8,432.6 625.3,437.1 625.8,431.8 626.3,437.4 626.8,431.8 627.3,436.2 627.8,432.8 628.3,437.0 628.8,432.7 629.3,437.8 629.8,432.4 630.3,436.2 630.8,432.8 631.3,436.3 631.8,431.8 632.3,436.6 632.8,432.9 633.3,436.7 633.8,432.6 634.3,436.5 634.8,431.4 635.3,436.9 635.8,431.5 636.3,436.5 636.8,431.1 637.3,437.1 637.8,432.9 638.3,437.8 638.8,432.6 639.3,437.1 639.8,432.8 640.3,436.8 640.8,431.6 641.3,436.3 641.8,432.6 642.3,436.9 642.8,431.9 643.3,437.0 643.8,432.9 644.3,438.7 644.8,432.5 645.3,436.1 645.8,432.5 646.3,437.1 646.8,432.5 647.3,436.6 647.8,432.9 648.3,437.5 648.8,432.8 649.3,436.2 649.8,431.7 650.3,437.9 650.8,433.1 651.3,437.9 651.8,432.6 652.3,437.0 652.8,432.7 653.3,436.5 653.8,432.6 654.3,436.7 654.8,430.6 655.3,436.7 655.8,431.2 656.3,437.5 656.8,432.8 657.3,437.5 657.8,432.5 658.3,437.7 658.8,432.3 659.3,437.2 659.8,432.0 660.3,436.6 660.8,432.7 661.3,436.9 661.8,431.5 662.3,437.7 662.8,432.7 663.3,436.4 663.8,431.5 664.3,437.3 664.8,433.0 665.3,437.1 665.8,432.2 666.3,436.1 666.8,432.5 667.3,437.3 667.8,433.2 668.3,437.1 668.8,431.7 669.3,436.6 669.8,432.0 670.3,436.7 670.8,432.7 671.3,436.3 671.8,432.4 672.3,436.5 672.8,431.9 673.3,438.2 673.8,432.6 674.3,436.6 674.8,431.8 675.3,437.4 675.8,432.5 676.3,436.7 676.8,429.8 677.3,436.6 677.8,432.0 678.3,436.8 678.8,431.7 679.3,436.4 679.8,431.0 680.3,437.2 680.8,433.0 681.3,437.4 681.8,432.1 682.3,436.8 682.8,432.7 683.3,437.2 683.8,432.7 684.3,436.2 684.8,431.5 685.3,435.8 685.8,432.8 686.3,436.7 686.8,432.6 687.3,437.2 687.8,431.9 688.3,436.9 688.8,432.1 689.3,437.0 689.8,433.1 690.3,437.3 690.8,432.9 691.3,436.6 691.8,431.4 692.3,436.1 692.8,432.1 693.3,436.6 693.8,431.4 694.3,436.4 694.8,433.0 695.3,441.9 695.8,431.6 696.3,436.4 696.8,431.0 697.3,436.5 697.8,433.1 698.3,437.2 698.8,433.0 699.3,437.3 699.8,433.4 700.3,437.3 700.8,433.0 701.3,436.9 701.8,431.6 702.3,436.4 702.8,432.5 703.3,437.8 703.8,431.2 704.3,436.5 704.8,432.1 705.3,437.8 705.8,432.2 706.3,436.6 706.8,431.8 707.3,436.5 707.8,432.4 708.3,436.2 708.8,432.8 709.3,436.4 709.8,432.7 710.3,436.5 710.8,431.9 711.3,437.1 711.8,430.7 712.3,436.5 712.8,432.4 713.3,437.1 713.8,431.6 714.3,435.5 714.8,431.9 715.3,436.8 715.8,432.7 716.3,436.1 716.8,432.1 717.3,436.0 717.8,431.0 718.3,436.7 718.8,432.3 719.3,437.1 719.8,432.7 720.3,436.1 720.8,432.3 721.3,437.2 721.8,431.4 722.3,436.2 722.8,432.7 723.3,437.5 723.8,432.0 724.3,437.0 724.8,431.9 725.3,437.8 725.8,432.5 726.3,436.6 726.8,432.1 727.3,436.7 727.8,432.6 728.3,437.7 728.8,433.4 729.3,437.1 729.8,433.1 730.3,436.2 730.8,431.8 731.3,437.8 731.8,433.1 732.3,436.9 732.8,431.7 733.3,437.6 733.8,432.0 734.3,436.3 734.8,432.8 735.3,436.9 735.8,432.5 736.3,437.3 736.8,431.7 737.3,436.5 737.8,432.1 738.3,435.8 738.8,431.0 739.3,436.9 739.8,432.1 740.3,436.8 740.8,432.1 741.3,438.6 741.8,432.2 742.3,437.6 742.8,432.6 743.3,437.2 743.8,432.8 744.3,438.0 744.8,433.0 745.3,436.9 745.8,433.1 746.3,436.1 746.8,431.6 747.3,437.1 747.8,433.1 748.3,436.9 748.8,432.5 749.3,436.4 749.8,432.8 750.3,436.9 750.8,433.6 751.3,438.7 751.8,432.7 752.3,438.8 752.8,432.8 753.3,437.2 753.8,433.4 754.3,437.0 754.8,432.1 755.3,437.7 755.8,432.6 756.3,437.7 756.8,433.1 757.3,436.7 757.8,431.9 758.3,437.2 758.8,432.6 759.3,436.8 759.8,431.8 760.3,437.0 760.8,432.6 761.3,436.9 761.8,432.5 762.3,438.0 762.8,433.9 763.3,437.0 763.8,432.3 764.3,436.6 764.8,432.6 765.3,437.2 765.8,432.3 766.3,438.4 766.8,432.7 767.3,437.1 767.8,432.2 768.3,436.9 768.8,433.1 769.3,437.7 769.8,433.3 770.3,438.0 770.8,432.4 771.3,436.8 771.8,432.4 772.3,437.6 772.8,433.3 773.3,437.4 773.8,432.1 774.3,437.5 774.8,431.9 775.3,437.1 775.8,431.9 776.3,437.5 776.8,433.1 777.3,437.6 777.8,433.5 778.3,437.5 778.8,432.8 779.3,438.1 779.8,433.4 780.3,437.9 780.8,432.8 781.3,437.7 781.8,433.1 782.3,437.0 782.8,433.4 783.3,438.0 783.8,433.9 784.3,438.5 784.8,432.6 785.3,437.1 785.8,433.3 786.3,437.9 786.8,433.0 787.3,437.1 787.8,432.8 788.3,436.3 788.8,432.8 789.3,436.6 789.8,432.9 790.3,436.7 790.8,433.2 791.3,437.7 791.8,433.1 792.3,437.0 792.8,433.9 793.3,437.7 793.8,432.1 794.3,439.0 794.8,432.4 795.3,438.0 795.8,434.0 796.3,438.5 796.8,433.4 797.3,437.5 797.8,433.7 798.3,438.5 798.8,433.4 799.3,438.7 799.8,433.1 800.3,437.6 800.8,433.4 801.3,437.8 801.8,433.2 802.3,438.0 802.8,433.6 803.3,438.0 803.8,433.5 804.3,437.5 804.8,432.7 805.3,437.4 805.8,432.5 806.3,437.2 806.8,433.4 807.3,438.0 807.8,432.5 808.3,437.5 808.8,432.3 809.3,436.3 809.8,431.5 810.3,437.2 810.8,431.6 811.3,437.6 811.8,434.1 812.3,439.4 812.8,432.8 813.3,437.8 813.8,433.2 814.3,438.2 814.8,433.6 815.3,437.4 815.8,432.2 816.3,438.5 816.8,432.0 817.3,438.7 817.8,433.8 818.3,438.1 818.8,433.2 819.3,437.3 819.8,432.4 820.3,438.6 820.8,433.7 821.3,438.1 821.8,432.7 822.3,437.3 822.8,433.2 823.3,438.1 823.8,431.8 824.3,438.6 824.8,432.7 825.3,439.1 825.8,433.3 826.3,438.1 826.8,432.4 827.3,438.4 827.8,433.6 828.3,438.8 828.8,434.0 829.3,438.0 829.8,433.8 830.3,437.5 830.8,433.2 831.3,436.7 831.8,431.4 832.3,436.6 832.8,432.4 833.3,436.7 833.8,432.4 834.3,437.0 834.8,433.0 835.3,437.9 835.8,433.9 836.3,438.4 836.8,432.9 837.3,437.3 837.8,432.8 838.3,437.5 838.8,433.2 839.3,438.5 839.8,434.3 840.3,437.9 840.8,431.9 841.3,437.3 841.8,433.0 842.3,437.7 842.8,431.8 843.3,436.3 843.8,432.3 844.3,435.7 844.8,431.5 845.3,437.9 845.8,432.1 846.3,435.9 846.8,431.4 847.3,435.3 847.8,431.6 848.3,434.7 848.8,431.1 849.3,435.7 849.8,431.3 850.3,435.8 850.8,430.3 851.3,435.4 851.8,431.3 852.3,435.2 852.8,429.2 853.3,435.1 853.8,430.4 854.3,434.3 854.8,430.2 855.3,434.0 855.8,429.5 856.3,433.2 856.8,429.6 857.3,433.5 857.8,429.2 858.3,433.2 858.8,428.4 859.3,433.2 859.8,428.1 860.3,432.5 860.8,428.2 861.3,432.1 861.8,426.1 862.3,431.8 862.8,427.2 863.3,431.9 863.8,426.2 864.3,430.6 864.8,424.7 865.3,430.5 865.8,424.5 866.3,430.8 866.8,425.5 867.3,430.0 867.8,423.8 868.3,428.7 868.8,424.8 869.3,429.9 869.8,425.3 870.3,429.1 870.8,424.5 871.3,428.4 871.8,423.4 872.3,428.1 872.8,421.8 873.3,426.9 873.8,422.8 874.3,428.5 874.8,422.1 875.3,425.8 875.8,421.2 876.3,425.9 876.8,421.0 877.3,424.7 877.8,420.8 878.3,425.7 878.8,420.5 879.3,424.8 879.8,419.3 880.3,426.1 880.8,420.2 881.3,424.9 881.8,419.6 882.3,423.7 882.8,418.6 883.3,424.3 883.8,418.5 884.3,423.1 884.8,418.9 885.3,422.3 885.8,417.5 886.3,422.8 886.8,418.2 887.3,423.8 887.8,417.9 888.3,422.3 888.8,416.2 889.3,420.6 889.8,416.2 890.3,419.8 890.8,416.4 891.3,419.5 891.8,414.5 892.3,418.7 892.8,414.6 893.3,418.3 893.8,413.9 894.3,418.3 894.8,413.6 895.3,418.9 895.8,414.3 896.3,417.9 896.8,412.9 897.3,417.4 897.8,413.0 898.3,416.9 898.8,413.0 899.3,416.0 899.8,412.3 900.3,416.1 900.8,411.0 901.3,416.9 901.8,411.5 902.3,414.8 902.8,409.6 903.3,413.5 903.8,409.3 904.3,413.6 904.8,409.7 905.3,415.3 905.8,409.4 906.3,413.5 906.8,406.7 907.3,412.2 907.8,408.3 908.3,412.2 908.8,408.1 909.3,411.4 909.8,406.2 910.3,410.5 910.8,405.8 911.3,409.8 911.8,406.7 912.3,410.5 912.8,405.1 913.3,409.7 913.8,404.2 914.3,409.1 914.8,404.6 915.3,409.4 915.8,404.5 916.3,408.3 916.8,403.2 917.3,407.4 917.8,402.8 918.3,406.1 918.8,401.9 919.3,406.0 919.8,400.3 920.3,405.6 920.8,401.0 921.3,405.8 921.8,400.8 922.3,403.9 922.8,399.2 923.3,403.5 923.8,397.3 924.3,403.5 924.8,398.2 925.3,401.9 925.8,396.8 926.3,401.2 926.8,396.9 927.3,400.4 927.8,392.9 928.3,399.5 928.8,394.6 929.3,398.1 929.8,394.2 930.3,398.7 930.8,393.5 931.3,397.2 931.8,391.9 932.3,398.3 932.8,392.0 933.3,397.5 933.8,391.1 934.3,395.0 934.8,391.1 935.3,395.2 935.8,390.8 936.3,394.8 936.8,390.9 937.3,394.3 937.8,389.8 938.3,394.4 938.8,390.1 939.3,394.4 939.8,388.7 940.3,393.8 940.8,387.8 941.3,394.3 941.8,389.1 942.3,394.0 942.8,389.5 943.3,395.1 943.8,388.8 944.3,394.1 944.8,389.7 945.3,393.3 945.8,389.7 946.3,393.5 946.8,389.0 947.3,393.5 947.8,388.3 948.3,393.6 948.8,389.5 949.3,394.3 949.8,389.3 950.3,393.0" stroke="#646464" stroke-width="1.1" fill="none"/><path d="M479.9 419.5V430.8" stroke="#646464" stroke-width="1.2"/></g>
<text x="186.5" y="298.3" class="t" fill="#0000b4">91.646</text>
<text x="1022.5" y="298.3" text-anchor="end" class="t" fill="#0000b4">91.646</text>
<text x="599" y="298.3" text-anchor="end" class="t">Dwr−Htr</text>
<text x="611.6" y="298.3" class="t" fill="#0000b4">LHe−Lvl</text>
<rect x="172.8" y="275" width="864.0" height="187.2" fill="none" stroke="#000" stroke-width="2.2"/>
<path d="M172.80 275V263.4M172.80 462.2V473.8M183.60 275V269.0M183.60 462.2V468.2M194.40 275V269.0M194.40 462.2V468.2M205.20 275V269.0M205.20 462.2V468.2M216.00 275V269.0M216.00 462.2V468.2M226.80 275V269.0M226.80 462.2V468.2M237.60 275V269.0M237.60 462.2V468.2M248.40 275V269.0M248.40 462.2V468.2M259.20 275V269.0M259.20 462.2V468.2M270.00 275V269.0M270.00 462.2V468.2M280.80 275V263.4M280.80 462.2V473.8M291.60 275V269.0M291.60 462.2V468.2M302.40 275V269.0M302.40 462.2V468.2M313.20 275V269.0M313.20 462.2V468.2M324.00 275V269.0M324.00 462.2V468.2M334.80 275V269.0M334.80 462.2V468.2M345.60 275V269.0M345.60 462.2V468.2M356.40 275V269.0M356.40 462.2V468.2M367.20 275V269.0M367.20 462.2V468.2M378.00 275V269.0M378.00 462.2V468.2M388.80 275V263.4M388.80 462.2V473.8M399.60 275V269.0M399.60 462.2V468.2M410.40 275V269.0M410.40 462.2V468.2M421.20 275V269.0M421.20 462.2V468.2M432.00 275V269.0M432.00 462.2V468.2M442.80 275V269.0M442.80 462.2V468.2M453.60 275V269.0M453.60 462.2V468.2M464.40 275V269.0M464.40 462.2V468.2M475.20 275V269.0M475.20 462.2V468.2M486.00 275V269.0M486.00 462.2V468.2M496.80 275V263.4M496.80 462.2V473.8M507.60 275V269.0M507.60 462.2V468.2M518.40 275V269.0M518.40 462.2V468.2M529.20 275V269.0M529.20 462.2V468.2M540.00 275V269.0M540.00 462.2V468.2M550.80 275V269.0M550.80 462.2V468.2M561.60 275V269.0M561.60 462.2V468.2M572.40 275V269.0M572.40 462.2V468.2M583.20 275V269.0M583.20 462.2V468.2M594.00 275V269.0M594.00 462.2V468.2M604.80 275V263.4M604.80 462.2V473.8M615.60 275V269.0M615.60 462.2V468.2M626.40 275V269.0M626.40 462.2V468.2M637.20 275V269.0M637.20 462.2V468.2M648.00 275V269.0M648.00 462.2V468.2M658.80 275V269.0M658.80 462.2V468.2M669.60 275V269.0M669.60 462.2V468.2M680.40 275V269.0M680.40 462.2V468.2M691.20 275V269.0M691.20 462.2V468.2M702.00 275V269.0M702.00 462.2V468.2M712.80 275V263.4M712.80 462.2V473.8M723.60 275V269.0M723.60 462.2V468.2M734.40 275V269.0M734.40 462.2V468.2M745.20 275V269.0M745.20 462.2V468.2M756.00 275V269.0M756.00 462.2V468.2M766.80 275V269.0M766.80 462.2V468.2M777.60 275V269.0M777.60 462.2V468.2M788.40 275V269.0M788.40 462.2V468.2M799.20 275V269.0M799.20 462.2V468.2M810.00 275V269.0M810.00 462.2V468.2M820.80 275V263.4M820.80 462.2V473.8M831.60 275V269.0M831.60 462.2V468.2M842.40 275V269.0M842.40 462.2V468.2M853.20 275V269.0M853.20 462.2V468.2M864.00 275V269.0M864.00 462.2V468.2M874.80 275V269.0M874.80 462.2V468.2M885.60 275V269.0M885.60 462.2V468.2M896.40 275V269.0M896.40 462.2V468.2M907.20 275V269.0M907.20 462.2V468.2M918.00 275V269.0M918.00 462.2V468.2M928.80 275V263.4M928.80 462.2V473.8M939.60 275V269.0M939.60 462.2V468.2M950.40 275V269.0M950.40 462.2V468.2M961.20 275V269.0M961.20 462.2V468.2M972.00 275V269.0M972.00 462.2V468.2M982.80 275V269.0M982.80 462.2V468.2M993.60 275V269.0M993.60 462.2V468.2M1004.40 275V269.0M1004.40 462.2V468.2M1015.20 275V269.0M1015.20 462.2V468.2M1026.00 275V269.0M1026.00 462.2V468.2M1036.80 275V263.4M1036.80 462.2V473.8" stroke="#000" stroke-width="1.1" fill="none"/>
<path d="M172.8 462.20H161.2M172.8 431.00H166.8M172.8 399.80H161.2M172.8 368.60H166.8M172.8 337.40H161.2M172.8 306.20H166.8M172.8 275.00H161.2" stroke="#000" stroke-width="1.1" fill="none"/>
<text x="149.3" y="470.9" text-anchor="end" class="a">20</text>
<text x="149.3" y="408.5" text-anchor="end" class="a">40</text>
<text x="149.3" y="346.1" text-anchor="end" class="a">60</text>
<text x="149.3" y="283.7" text-anchor="end" class="a">80</text>
<path d="M1036.8 435.53H1042.8M1036.8 408.74H1048.4M1036.8 381.96H1042.8M1036.8 355.18H1048.4M1036.8 328.40H1042.8M1036.8 301.62H1048.4" stroke="#000" stroke-width="1.1" fill="none"/>
<text x="1093.4" y="417.4" text-anchor="end" class="a">0.0</text>
<text x="1093.4" y="363.9" text-anchor="end" class="a">0.2</text>
<text x="1093.4" y="310.3" text-anchor="end" class="a">0.4</text>
<text x="0" y="0" transform="translate(95.6,368.6) rotate(-90)" text-anchor="middle" class="l" fill="#000">Signal [mA]</text>
<text x="0" y="0" transform="translate(1142.3,368.6) rotate(-90)" text-anchor="middle" class="l" fill="#000">Δ LHe−Lvl [per mil]</text>
<g clip-path="url(#c2)"><path d="M172.8 586.9H1036.8" stroke="#d40000" stroke-width="1.2"/><polyline points="172.8,583.0 173.2,604.8 173.7,584.2 174.1,605.5 174.6,583.9 175.0,600.1 175.5,585.5 175.9,600.4 176.4,586.5 176.8,599.2 177.3,585.0 177.7,598.3 178.2,586.1 178.6,608.7 179.1,581.2 179.5,604.9 180.0,584.1 180.4,607.9 180.9,586.9 181.3,612.4 181.8,582.5 182.2,601.4 182.7,587.2 183.1,602.1 183.6,587.2 184.0,598.8 184.5,584.6 184.9,608.3 185.4,575.6 185.8,602.8 186.3,582.4 186.7,600.0 187.2,583.3 187.6,598.2 188.1,579.3 188.5,604.8 189.0,587.3 189.4,600.3 189.9,581.8 190.3,607.1 190.8,581.0 191.2,600.3 191.7,587.1 192.1,600.2 192.6,587.0 193.0,598.4 193.5,586.1 193.9,599.5 194.4,573.8 194.8,602.8 195.3,587.6 195.7,601.5 196.2,587.7 196.6,603.7 197.1,577.6 197.5,607.5 198.0,586.8 198.4,607.7 198.9,584.4 199.3,598.8 199.8,585.7 200.2,602.3 200.7,584.2 201.1,603.4 201.6,586.1 202.0,598.5 202.5,580.0 202.9,602.5 203.4,586.5 203.8,615.4 204.3,582.7 204.7,601.4 205.2,584.4 205.6,609.2 206.1,579.2 206.5,600.0 207.0,587.7 207.4,598.4 207.9,584.1 208.3,604.0 208.8,584.2 209.2,607.8 209.7,583.2 210.1,603.7 210.6,585.4 211.0,602.6 211.5,584.9 211.9,599.6 212.4,586.4 212.8,604.0 213.3,579.9 213.7,609.1 214.2,582.4 214.6,601.8 215.1,582.7 215.5,599.0 216.0,587.6 216.4,616.8 216.9,583.5 217.3,609.8 217.8,583.8 218.2,602.6 218.7,583.7 219.1,600.7 219.6,583.4 220.0,610.3 220.5,576.5 220.9,601.8 221.4,585.8 221.8,604.4 222.3,582.1 222.7,606.5 223.2,585.5 223.6,603.8 224.1,583.1 224.5,600.6 225.0,577.3 225.4,599.0 225.9,579.8 226.3,600.8 226.8,583.9 227.2,603.5 227.7,582.7 228.1,606.1 228.6,584.4 229.0,598.8 229.5,578.7 229.9,605.2 230.4,587.4 230.8,600.5 231.3,584.3 231.7,604.9 232.2,577.7 232.6,610.7 233.1,585.6 233.5,606.9 234.0,579.5 234.4,608.8 234.9,587.0 235.3,607.8 235.8,586.6 236.2,607.6 236.7,585.0 237.1,604.4 237.6,586.2 238.0,606.1 238.5,586.4 238.9,598.6 239.4,583.4 239.8,606.8 240.3,586.1 240.7,599.3 241.2,581.4 241.6,599.2 242.1,582.7 242.5,598.9 243.0,585.8 243.4,600.5 243.9,586.5 244.3,598.3 244.8,587.6 245.2,599.0 245.7,579.9 246.1,599.1 246.6,578.3 247.0,605.9 247.5,580.4 247.9,599.7 248.4,583.1 248.8,607.0 249.3,586.2 249.7,606.2 250.2,579.3 250.6,606.2 251.1,583.5 251.5,599.7 252.0,586.4 252.4,600.3 252.9,579.3 253.3,598.2 253.8,587.1 254.2,598.3 254.7,581.7 255.1,600.1 255.6,586.6 256.0,600.9 256.5,583.4 256.9,599.0 257.4,585.5 257.8,606.1 258.3,584.0 258.7,598.1 259.2,582.4 259.6,604.9 260.1,585.9 260.5,602.4 261.0,584.8 261.4,604.5 261.9,582.5 262.3,601.9 262.8,586.1 263.2,607.4 263.7,587.5 264.1,609.6 264.6,587.5 265.0,601.0 265.5,584.7 265.9,616.0 266.4,584.8 266.8,598.2 267.3,587.6 267.7,601.0 268.2,581.2 268.6,608.5 269.1,581.8 269.5,605.7 270.0,579.7 270.4,600.3 270.9,582.5 271.3,604.5 271.8,584.0 272.2,616.8 272.7,580.1 273.1,604.7 273.6,583.5 274.0,609.3 274.5,584.7 274.9,603.5 275.4,585.6 275.8,604.6 276.3,583.3 276.7,609.2 277.2,584.4 277.6,608.8 278.1,579.7 278.5,608.4 279.0,587.7 279.4,604.0 279.9,582.2 280.3,602.0 280.8,585.4 281.2,598.4 281.7,587.1 282.1,601.8 282.6,583.5 283.0,605.7 283.5,583.4 283.9,605.9 284.4,584.4 284.8,603.6 285.3,584.0 285.7,601.3 286.2,587.0 286.6,599.6 287.1,573.8 287.5,602.6 288.0,584.1 288.4,602.7 288.9,581.9 289.3,598.5 289.8,582.1 290.2,609.0 290.7,582.7 291.1,606.9 291.6,580.9 292.0,607.3 292.5,586.5 292.9,606.8 293.4,582.6 293.8,605.7 294.3,580.8 294.7,601.1 295.2,586.4 295.6,599.7 296.1,585.5 296.5,606.1 297.0,585.8 297.4,600.0 297.9,586.5 298.3,600.3 298.8,585.0 299.2,599.5 299.7,581.2 300.1,611.8 300.6,582.6 301.0,598.6 301.5,580.3 301.9,605.8 302.4,586.7 302.8,609.0 303.3,585.1 303.7,598.6 304.2,574.9 304.6,604.2 305.1,579.8 305.5,599.2 306.0,585.1 306.4,602.8 306.9,580.7 307.3,609.7 307.8,578.7 308.2,609.3 308.7,586.0 309.1,601.8 309.6,579.1 310.0,603.4 310.5,587.0 310.9,601.9 311.4,582.3 311.8,605.4 312.3,587.6 312.7,603.1 313.2,582.8 313.6,598.2 314.1,580.5 314.5,603.2 315.0,581.6 315.4,613.4 315.9,585.1 316.3,608.6 316.8,585.4 317.2,605.8 317.7,581.5 318.1,605.1 318.6,574.5 319.0,598.4 319.5,581.6 319.9,600.3 320.4,584.6 320.8,602.8 321.3,584.0 321.7,598.1 322.2,586.8 322.6,601.8 323.1,586.3 323.5,601.0 324.0,587.3 324.4,607.6 324.9,581.6 325.3,600.9 325.8,585.3 326.2,600.6 326.7,583.5 327.1,601.8 327.6,580.7 328.0,603.2 328.5,583.9 328.9,606.5 329.4,584.6 329.8,598.5 330.3,586.7 330.7,601.8 331.2,582.7 331.6,605.5 332.1,581.0 332.5,605.6 333.0,582.3 333.4,599.5 333.9,578.5 334.3,612.6 334.8,581.4 335.2,598.9 335.7,584.5 336.1,598.6 336.6,586.9 337.0,606.1 337.5,579.0 337.9,613.2 338.4,578.5 338.8,608.0 339.3,579.4 339.7,606.7 340.2,584.6 340.6,598.2 341.1,584.8 341.5,604.2 342.0,582.4 342.4,602.6 342.9,578.3 343.3,602.2 343.8,587.0 344.2,601.6 344.7,582.4 345.1,598.9 345.6,586.8 346.0,614.4 346.5,585.9 346.9,600.9 347.4,580.6 347.8,603.4 348.3,583.8 348.7,603.5 349.2,573.8 349.6,605.4 350.1,585.5 350.5,604.6 351.0,573.8 351.4,606.7 351.9,587.3 352.3,603.2 352.8,582.4 353.2,610.3 353.7,586.8 354.1,606.2 354.6,582.1 355.0,598.1 355.5,583.1 355.9,603.2 356.4,580.5 356.8,600.3 357.3,574.0 357.7,603.9 358.2,582.7 358.6,613.2 359.1,581.6 359.5,602.3 360.0,582.8 360.4,606.6 360.9,585.1 361.3,599.7 361.8,586.7 362.2,606.9 362.7,584.5 363.1,607.9 363.6,584.0 364.0,606.8 364.5,587.6 364.9,601.2 365.4,582.3 365.8,610.6 366.3,585.4 366.7,600.2 367.2,583.6 367.6,599.9 368.1,585.6 368.5,609.0 369.0,577.8 369.4,606.6 369.9,575.9 370.3,599.1 370.8,583.9 371.2,601.5 371.7,576.3 372.1,603.8 372.6,586.8 373.0,600.1 373.5,582.0 373.9,599.3 374.4,573.8 374.8,608.1 375.3,587.2 375.7,604.8 376.2,587.3 376.6,616.8 377.1,584.8 377.5,616.8 378.0,581.8 378.4,600.1 378.9,587.2 379.3,605.0 379.8,585.2 380.2,603.1 380.7,579.2 381.1,599.7 381.6,586.5 382.0,606.1 382.5,582.5 382.9,600.4 383.4,582.5 383.8,604.1 384.3,583.5 384.7,601.7 385.2,578.9 385.6,600.5 386.1,581.0 386.5,606.5 387.0,587.5 387.4,601.8 387.9,585.7 388.3,604.7 388.8,586.5 389.2,600.3 389.7,575.5 390.1,602.8 390.6,584.4 391.0,601.7 391.5,587.4 391.9,602.6 392.4,578.7 392.8,607.9 393.3,586.3 393.7,607.6 394.2,587.2 394.6,605.6 395.1,575.4 395.5,598.6 396.0,585.5 396.4,604.1 396.9,577.8 397.3,601.7 397.8,583.8 398.2,601.0 398.7,583.3 399.1,604.7 399.6,585.9 400.0,607.5 400.5,578.1 400.9,606.6 401.4,585.5 401.8,598.4 402.3,579.8 402.7,612.7 403.2,587.5 403.6,606.1 404.1,577.4 404.5,604.4 405.0,574.1 405.4,603.0 405.9,587.0 406.3,598.9 406.8,585.8 407.2,599.3 407.7,581.0 408.1,600.5 408.6,583.6 409.0,603.8 409.5,585.8 409.9,605.5 410.4,574.3 410.8,604.0 411.3,584.6 411.7,600.7 412.2,581.3 412.6,602.5 413.1,587.6 413.5,603.1 414.0,587.8 414.4,607.4 414.9,587.4 415.3,606.3 415.8,577.0 416.2,598.9 416.7,583.6 417.1,600.1 417.6,584.0 418.0,600.7 418.5,583.7 418.9,612.0 419.4,585.6 419.8,610.0 420.3,587.0 420.7,611.6 421.2,582.6 421.6,601.9 422.1,584.8 422.5,603.0 423.0,587.2 423.4,601.8 423.9,581.6 424.3,604.3 424.8,579.1 425.2,601.8 425.7,579.9 426.1,603.2 426.6,584.5 427.0,607.8 427.5,584.2 427.9,602.4 428.4,584.8 428.8,598.3 429.3,582.6 429.7,604.5 430.2,583.2 430.6,605.0 431.1,581.7 431.5,599.7 432.0,585.1 432.4,600.9 432.9,580.4 433.3,608.4 433.8,573.8 434.2,604.2 434.7,584.5 435.1,600.9 435.6,585.9 436.0,605.2 436.5,581.2 436.9,607.5 437.4,582.2 437.8,600.4 438.3,584.2 438.7,615.5 439.2,585.3 439.6,605.1 440.1,584.4 440.5,602.3 441.0,585.9 441.4,605.6 441.9,585.5 442.3,614.8 442.8,580.5 443.2,608.6 443.7,573.8 444.1,610.9 444.6,582.8 445.0,603.9 445.5,587.4 445.9,604.5 446.4,580.8 446.8,601.9 447.3,584.6 447.7,601.0 448.2,585.4 448.6,611.7 449.1,584.2 449.5,609.6 450.0,576.3 450.4,599.7 450.9,587.5 451.3,602.1 451.8,586.5 452.2,602.4 452.7,586.9 453.1,601.1 453.6,587.2 454.0,603.1 454.5,579.9 454.9,598.6 455.4,585.2 455.8,599.8 456.3,582.1 456.7,599.4 457.2,587.3 457.6,606.2 458.1,586.3 458.5,598.4 459.0,584.1 459.4,607.9 459.9,580.2 460.3,605.5 460.8,582.5 461.2,601.1 461.7,585.8 462.1,602.7 462.6,585.8 463.0,599.4 463.5,583.6 463.9,606.7 464.4,586.6 464.8,601.0 465.3,584.7 465.7,600.5 466.2,586.7 466.6,602.8 467.1,583.1 467.5,612.4 468.0,580.6 468.4,598.3 468.9,586.4 469.3,599.8 469.8,584.5 470.2,599.2 470.7,578.9 471.1,616.8 471.6,584.1 472.0,598.9 472.5,582.2 472.9,605.9 473.4,575.3 473.8,599.4 474.3,585.8 474.7,601.1 475.2,582.5 475.6,605.1 476.1,584.1 476.5,608.0 477.0,584.0 477.4,601.2 477.9,587.5 478.3,601.3 478.8,580.7 479.2,598.5 479.7,586.0 480.1,603.4 480.6,573.8 481.0,602.1 481.5,574.9 481.9,600.9 482.4,581.7 482.8,598.2 483.3,584.7 483.7,599.6 484.2,585.6 484.6,611.0 485.1,585.9 485.5,608.6 486.0,577.8 486.4,604.0 486.9,586.5 487.3,609.1 487.8,584.6 488.2,598.2 488.7,587.4 489.1,599.3 489.6,587.6 490.0,599.5 490.5,579.7 490.9,615.9 491.4,584.1 491.8,603.8 492.3,579.9 492.7,605.2 493.2,586.3 493.6,599.8 494.1,584.4 494.5,601.9 495.0,584.1 495.4,611.3 495.9,581.9 496.3,601.3 496.8,584.8 497.2,606.9 497.7,578.8 498.1,600.2 498.6,584.6 499.0,598.2 499.5,583.8 499.9,606.2 500.4,583.1 500.8,599.8 501.3,578.8 501.7,608.7 502.2,586.4 502.6,600.3 503.1,585.7 503.5,611.4 504.0,586.3 504.4,612.7 504.9,587.8 505.3,598.5 505.8,579.0 506.2,599.2 506.7,582.3 507.1,604.8 507.6,584.4 508.0,600.9 508.5,581.7 508.9,603.6 509.4,579.9 509.8,598.7 510.3,586.3 510.7,615.4 511.2,582.4 511.6,605.6 512.1,586.1 512.5,607.1 513.0,587.1 513.4,599.9 513.9,585.7 514.3,602.9 514.8,586.4 515.2,605.7 515.7,580.1 516.1,604.7 516.6,581.2 517.0,598.4 517.5,587.5 517.9,602.1 518.4,583.6 518.8,604.8 519.3,585.8 519.7,602.1 520.2,585.0 520.6,606.1 521.1,587.4 521.5,608.9 522.0,580.7 522.4,599.0 522.9,580.4 523.3,599.0 523.8,586.4 524.2,608.9 524.7,583.6 525.1,609.4 525.6,582.7 526.0,605.6 526.5,579.9 526.9,601.0 527.4,578.9 527.8,606.2 528.3,583.1 528.7,600.2 529.2,587.4 529.6,600.4 530.1,578.9 530.5,599.2 531.0,581.1 531.4,606.6 531.9,585.1 532.3,599.6 532.8,573.8 533.2,614.8 533.7,587.2 534.1,612.5 534.6,583.2 535.0,599.6 535.5,580.2 535.9,601.3 536.4,575.6 536.8,607.6 537.3,585.4 537.7,603.6 538.2,585.0 538.6,604.5 539.1,587.4 539.5,611.5 540.0,583.6 540.4,600.4 540.9,585.4 541.3,604.8 541.8,585.1 542.2,598.2 542.7,586.5 543.1,609.7 543.6,586.9 544.0,616.8 544.5,584.1 544.9,603.6 545.4,582.3 545.8,605.6 546.3,587.0 546.7,606.3 547.2,587.3 547.6,603.0 548.1,581.3 548.5,601.8 549.0,583.1 549.4,606.7 549.9,583.6 550.3,602.9 550.8,578.6 551.2,603.2 551.7,573.8 552.1,602.4 552.6,585.7 553.0,599.5 553.5,585.6 553.9,600.2 554.4,584.4 554.8,606.4 555.3,582.0 555.7,598.3 556.2,582.4 556.6,604.1 557.1,584.8 557.5,600.7 558.0,584.5 558.4,599.3 558.9,582.6 559.3,604.2 559.8,582.3 560.2,601.4 560.7,575.0 561.1,599.0 561.6,586.9 562.0,603.7 562.5,581.1 562.9,608.4 563.4,584.3 563.8,600.5 564.3,585.8 564.7,603.0 565.2,585.7 565.6,613.5 566.1,586.2 566.5,601.1 567.0,586.1 567.4,600.0 567.9,585.2 568.3,601.7 568.8,585.3 569.2,599.5 569.7,582.1 570.1,605.0 570.6,583.3 571.0,600.0 571.5,587.6 571.9,606.6 572.4,584.2 572.8,607.7 573.3,582.2 573.7,599.7 574.2,585.0 574.6,607.7 575.1,581.4 575.5,601.0 576.0,575.7 576.4,598.3 576.9,578.8 577.3,603.3 577.8,582.1 578.2,605.6 578.7,578.7 579.1,604.3 579.6,586.7 580.0,609.7 580.5,581.4 580.9,600.6 581.4,574.8 581.8,603.4 582.3,577.2 582.7,601.2 583.2,587.5 583.6,607.1 584.1,586.5 584.5,602.8 585.0,583.5 585.4,599.1 585.9,584.8 586.3,605.2 586.8,583.8 587.2,603.4 587.7,580.2 588.1,609.5 588.6,585.7 589.0,607.5 589.5,587.0 589.9,599.1 590.4,583.5 590.8,603.3 591.3,580.5 591.7,598.6 592.2,586.5 592.6,600.7 593.1,579.6 593.5,602.8 594.0,581.9 594.4,602.4 594.9,587.0 595.3,607.5 595.8,580.1 596.2,604.0 596.7,585.6 597.1,603.5 597.6,583.1 598.0,602.2 598.5,578.9 598.9,603.9 599.4,586.4 599.8,600.0 600.3,573.8 600.7,606.5 601.2,587.1 601.6,598.5 602.1,580.4 602.5,602.0 603.0,578.9 603.4,600.8 603.9,585.5 604.3,599.8 604.8,581.6 605.2,602.1 605.7,584.3 606.1,601.9 606.6,584.6 607.0,600.3 607.5,586.4 607.9,598.8 608.4,581.5 608.8,605.1 609.3,579.7 609.7,608.1 610.2,575.0 610.6,601.4 611.1,585.0 611.5,599.7 612.0,585.1 612.4,599.1 612.9,585.0 613.3,600.4 613.8,586.2 614.2,601.8 614.7,577.5 615.1,600.8 615.6,585.7 616.0,607.5 616.5,583.2 616.9,604.7 617.4,576.4 617.8,605.3 618.3,582.8 618.7,601.9 619.2,587.5 619.6,603.9 620.1,582.6 620.5,613.3 621.0,574.5 621.4,604.9 621.9,587.7 622.3,608.5 622.8,581.7 623.2,598.2 623.7,584.2 624.1,609.4 624.6,584.3 625.0,606.1 625.5,587.5 625.9,604.7 626.4,586.9 626.8,599.8 627.3,586.3 627.7,599.2 628.2,584.2 628.6,608.8 629.1,580.1 629.5,606.2 630.0,578.9 630.4,600.0 630.9,587.8 631.3,601.1 631.8,579.7 632.2,604.9 632.7,585.2 633.1,603.7 633.6,586.3 634.0,598.3 634.5,587.5 634.9,600.5 635.4,585.3 635.8,600.9 636.3,587.3 636.7,599.7 637.2,584.8 637.6,607.5 638.1,585.7 638.5,605.2 639.0,581.1 639.4,600.8 639.9,584.3 640.3,600.9 640.8,583.6 641.2,598.8 641.7,577.0 642.1,603.3 642.6,578.8 643.0,610.0 643.5,586.7 643.9,599.5 644.4,580.9 644.8,603.3 645.3,584.2 645.7,605.1 646.2,582.6 646.6,602.2 647.1,584.5 647.5,612.3 648.0,586.1 648.4,599.2 648.9,587.4 649.3,601.2 649.8,581.4 650.2,599.2 650.7,584.4 651.1,602.3 651.6,585.7 652.0,608.5 652.5,585.9 652.9,605.8 653.4,580.5 653.8,605.2 654.3,586.7 654.7,602.6 655.2,586.8 655.6,599.3 656.1,580.2 656.5,604.4 657.0,586.1 657.4,598.8 657.9,581.0 658.3,603.8 658.8,587.5 659.2,599.5 659.7,580.7 660.1,605.4 660.6,584.7 661.0,611.4 661.5,580.9 661.9,609.7 662.4,581.3 662.8,601.0 663.3,582.6 663.7,599.0 664.2,586.2 664.6,607.5 665.1,584.7 665.5,605.6 666.0,587.1 666.4,609.0 666.9,584.8 667.3,604.0 667.8,582.6 668.2,600.4 668.7,587.1 669.1,601.2 669.6,582.4 670.0,601.2 670.5,584.5 670.9,599.3 671.4,581.6 671.8,599.5 672.3,582.4 672.7,598.7 673.2,579.2 673.6,608.6 674.1,586.1 674.5,611.0 675.0,576.9 675.4,607.8 675.9,582.9 676.3,598.3 676.8,583.9 677.2,605.9 677.7,580.2 678.1,606.6 678.6,580.9 679.0,600.0 679.5,577.8 679.9,602.1 680.4,583.5 680.8,602.0 681.3,585.6 681.7,609.1 682.2,582.2 682.6,601.7 683.1,580.2 683.5,602.7 684.0,582.3 684.4,602.4 684.9,579.7 685.3,607.3 685.8,586.5 686.2,602.3 686.7,582.9 687.1,600.3 687.6,581.0 688.0,598.8 688.5,585.5 688.9,598.7 689.4,573.8 689.8,600.1 690.3,583.0 690.7,601.2 691.2,574.9 691.6,603.0 692.1,578.5 692.5,610.1 693.0,585.5 693.4,603.3 693.9,584.4 694.3,603.7 694.8,577.3 695.2,603.4 695.7,584.0 696.1,611.8 696.6,581.9 697.0,598.5 697.5,587.7 697.9,611.9 698.4,583.9 698.8,604.5 699.3,584.3 699.7,599.6 700.2,574.4 700.6,598.8 701.1,584.2 701.5,608.4 702.0,587.3 702.4,613.3 702.9,584.9 703.3,609.8 703.8,585.3 704.2,603.2 704.7,573.8 705.1,601.6 705.6,586.4 706.0,613.6 706.5,584.1 706.9,600.6 707.4,587.3 707.8,598.8 708.3,586.1 708.7,601.8 709.2,586.0 709.6,599.5 710.1,587.6 710.5,601.0 711.0,585.0 711.4,601.5 711.9,584.3 712.3,604.9 712.8,582.6 713.2,598.4 713.7,578.8 714.1,616.8 714.6,586.7 715.0,604.0 715.5,577.7 715.9,605.1 716.4,583.6 716.8,607.5 717.3,582.3 717.7,599.5 718.2,581.5 718.6,604.6 719.1,585.6 719.5,604.4 720.0,586.6 720.4,599.4 720.9,586.5 721.3,615.6 721.8,585.4 722.2,600.4 722.7,578.5 723.1,600.3 723.6,581.6 724.0,600.7 724.5,586.2 724.9,599.9 725.4,586.0 725.8,605.7 726.3,581.3 726.7,600.0 727.2,582.8 727.6,600.4 728.1,587.6 728.5,601.7 729.0,577.1 729.4,601.9 729.9,584.3 730.3,600.2 730.8,575.1 731.2,598.2 731.7,585.6 732.1,599.0 732.6,587.6 733.0,609.3 733.5,587.3 733.9,607.6 734.4,587.8 734.8,600.1 735.3,587.0 735.7,604.7 736.2,587.4 736.6,601.5 737.1,578.9 737.5,606.4 738.0,582.6 738.4,603.7 738.9,580.7 739.3,604.3 739.8,585.7 740.2,605.7 740.7,587.2 741.1,599.7 741.6,581.0 742.0,602.5 742.5,585.8 742.9,598.9 743.4,586.1 743.8,599.4 744.3,574.3 744.7,608.5 745.2,579.7 745.6,602.0 746.1,581.7 746.5,602.9 747.0,587.2 747.4,600.2 747.9,583.1 748.3,602.9 748.8,585.0 749.2,603.6 749.7,582.1 750.1,599.4 750.6,584.1 751.0,598.2 751.5,585.3 751.9,612.7 752.4,577.7 752.8,603.5 753.3,581.7 753.7,599.1 754.2,586.6 754.6,600.1 755.1,582.0 755.5,603.8 756.0,584.5 756.4,598.2 756.9,578.6 757.3,598.4 757.8,581.4 758.2,605.5 758.7,586.2 759.1,605.3 759.6,582.8 760.0,598.8 760.5,582.7 760.9,610.1 761.4,583.3 761.8,604.8 762.3,582.0 762.7,598.9 763.2,586.2 763.6,600.3 764.1,579.0 764.5,603.1 765.0,573.9 765.4,601.6 765.9,577.9 766.3,600.1 766.8,582.5 767.2,604.4 767.7,581.2 768.1,612.4 768.6,587.1 769.0,599.3 769.5,585.4 769.9,605.9 770.4,586.9 770.8,608.0 771.3,584.5 771.7,606.4 772.2,584.1 772.6,599.7 773.1,584.9 773.5,602.9 774.0,581.9 774.4,599.7 774.9,583.3 775.3,601.0 775.8,575.5 776.2,606.5 776.7,586.2 777.1,603.1 777.6,585.9 778.0,599.8 778.5,585.2 778.9,601.8 779.4,584.1 779.8,610.1 780.3,581.3 780.7,602.3 781.2,586.7 781.6,610.8 782.1,583.7 782.5,602.1 783.0,587.2 783.4,601.6 783.9,587.2 784.3,598.5 784.8,585.4 785.2,600.2 785.7,586.0 786.1,601.5 786.6,584.4 787.0,605.5 787.5,583.6 787.9,598.9 788.4,582.1 788.8,598.8 789.3,587.3 789.7,599.5 790.2,587.6 790.6,598.8 791.1,582.6 791.5,601.3 792.0,577.6 792.4,604.0 792.9,585.2 793.3,606.5 793.8,581.5 794.2,608.0 794.7,586.4 795.1,599.0 795.6,579.4 796.0,601.9 796.5,586.3 796.9,603.3 797.4,585.7 797.8,600.7 798.3,585.2 798.7,601.1 799.2,585.5 799.6,601.4 800.1,584.4 800.5,602.2 801.0,587.3 801.4,603.8 801.9,584.4 802.3,598.9 802.8,587.2 803.2,609.9 803.7,587.1 804.1,602.4 804.6,584.5 805.0,607.8 805.5,586.5 805.9,603.6 806.4,584.5 806.8,610.0 807.3,578.9 807.7,601.7 808.2,586.5 808.6,605.8 809.1,580.3 809.5,598.1 810.0,585.2 810.4,599.0 810.9,583.5 811.3,605.3 811.8,580.4 812.2,608.3 812.7,585.7 813.1,600.8 813.6,581.4 814.0,598.3 814.5,586.2 814.9,601.3 815.4,586.1 815.8,598.9 816.3,587.6 816.7,607.0 817.2,585.3 817.6,604.5 818.1,586.4 818.5,603.0 819.0,587.0 819.4,602.5 819.9,576.9 820.3,599.9 820.8,587.3 821.2,607.9 821.7,579.0 822.1,604.7 822.6,582.3 823.0,598.6 823.5,575.1 823.9,599.9 824.4,583.3 824.8,614.6 825.3,586.7 825.7,598.8 826.2,575.7 826.6,602.8 827.1,584.3 827.5,604.7 828.0,584.6 828.4,600.1 828.9,585.9 829.3,603.0 829.8,579.0 830.2,603.8 830.7,586.5 831.1,613.7 831.6,581.2 832.0,611.0 832.5,587.7 832.9,604.0 833.4,582.5 833.8,598.7 834.3,578.0 834.7,603.5 835.2,586.6 835.6,600.0 836.1,579.3 836.5,608.8 837.0,585.8 837.4,605.8 837.9,584.6 838.3,599.7 838.8,573.8 839.2,602.3 839.7,583.9 840.1,603.0 840.6,586.4 841.0,600.6 841.5,585.5 841.9,603.0 842.4,586.5 842.8,601.7 843.3,586.2 843.7,615.0 844.2,587.6 844.6,601.8 845.1,581.7 845.5,616.8 846.0,586.9 846.4,600.8 846.9,583.0 847.3,599.9 847.8,586.5 848.2,609.5 848.7,585.6 849.1,601.7 849.6,586.2 850.0,612.0 850.5,583.1 850.9,600.3 851.4,584.8 851.8,602.6 852.3,587.7 852.7,600.9 853.2,573.8 853.6,606.1 854.1,585.5 854.5,606.2 855.0,580.6 855.4,608.0 855.9,578.2 856.3,607.1 856.8,584.1 857.2,604.2 857.7,576.4 858.1,600.9 858.6,586.2 859.0,600.6 859.5,585.0 859.9,598.1 860.4,575.3 860.8,599.7 861.3,581.0 861.7,600.0 862.2,586.6 862.6,604.5 863.1,582.4 863.5,602.9 864.0,583.5 864.4,607.0 864.9,585.8 865.3,606.5 865.8,585.1 866.2,598.8 866.7,581.1 867.1,606.5 867.6,584.6 868.0,599.1 868.5,584.3 868.9,603.7 869.4,586.6 869.8,601.6 870.3,584.8 870.7,599.4 871.2,585.6 871.6,608.9 872.1,586.0 872.5,598.3 873.0,581.6 873.4,612.9 873.9,581.6 874.3,600.1 874.8,586.4 875.2,599.5 875.7,583.0 876.1,603.8 876.6,587.3 877.0,602.3 877.5,577.0 877.9,601.0 878.4,587.6 878.8,599.9 879.3,579.1 879.7,602.3 880.2,579.3 880.6,599.8 881.1,584.0 881.5,608.6 882.0,580.9 882.4,601.7 882.9,587.1 883.3,598.1 883.8,583.1 884.2,598.5 884.7,577.0 885.1,600.0 885.6,585.8 886.0,599.2 886.5,585.6 886.9,603.9 887.4,585.3 887.8,601.8 888.3,585.6 888.7,602.8 889.2,583.1 889.6,604.7 890.1,576.4 890.5,600.8 891.0,575.5 891.4,599.9 891.9,579.1 892.3,611.1 892.8,586.9 893.2,600.0 893.7,587.2 894.1,600.8 894.6,584.5 895.0,598.5 895.5,581.2 895.9,599.0 896.4,585.1 896.8,605.2 897.3,586.0 897.7,599.3 898.2,578.5 898.6,598.9 899.1,583.6 899.5,601.7 900.0,579.7 900.4,606.4 900.9,584.9 901.3,601.9 901.8,585.1 902.2,609.0 902.7,585.8 903.1,601.3 903.6,582.3 904.0,604.5 904.5,585.5 904.9,600.5 905.4,580.0 905.8,611.3 906.3,586.0 906.7,606.9 907.2,584.9 907.6,608.8 908.1,586.9 908.5,601.5 909.0,577.0 909.4,600.6 909.9,585.9 910.3,600.2 910.8,576.8 911.2,608.2 911.7,584.5 912.1,602.7 912.6,585.9 913.0,602.3 913.5,586.1 913.9,603.2 914.4,581.8 914.8,607.8 915.3,586.3 915.7,603.4 916.2,574.8 916.6,606.0 917.1,579.6 917.5,599.1 918.0,584.2 918.4,600.4 918.9,586.1 919.3,603.2 919.8,582.0 920.2,598.6 920.7,582.9 921.1,607.6 921.6,580.8 922.0,604.1 922.5,583.2 922.9,605.4 923.4,579.4 923.8,611.9 924.3,585.7 924.7,599.3 925.2,587.7 925.6,602.7 926.1,577.7 926.5,607.3 927.0,582.5 927.4,603.3 927.9,573.8 928.3,603.4 928.8,585.4 929.2,600.7 929.7,587.5 930.1,599.5 930.6,580.4 931.0,606.6 931.5,584.9 931.9,603.9 932.4,586.9 932.8,608.0 933.3,594.1 933.7,605.2 934.2,600.3 934.6,609.5 935.1,601.9 935.5,614.9 936.0,610.6 936.4,619.1 936.9,613.2 937.3,631.6 937.8,620.0 938.2,630.5 938.7,624.6 939.1,633.0 939.6,623.9 940.0,633.2 940.5,623.6 940.9,634.7 941.4,626.7 941.8,636.9 942.3,628.4 942.7,637.8 943.2,627.5 943.6,637.4 944.1,628.3 944.5,640.1 945.0,633.0 945.4,639.4 945.9,631.5 946.3,641.7 946.8,630.7 947.2,645.3 947.7,632.5 948.1,645.2 948.6,640.6 949.0,649.7 949.5,643.7 949.9,665.8 950.4,666.5" stroke="#646464" stroke-width="1.1" fill="none"/><path d="M479.9 512V625" stroke="#646464" stroke-width="1.3"/></g>
<text x="604.8" y="513.6" text-anchor="middle" class="t">Dewr−P</text>
<rect x="172.8" y="491" width="864.0" height="187.2" fill="none" stroke="#000" stroke-width="2.2"/>
<path d="M172.80 491V479.4M172.80 678.2V689.8M183.60 491V485.0M183.60 678.2V684.2M194.40 491V485.0M194.40 678.2V684.2M205.20 491V485.0M205.20 678.2V684.2M216.00 491V485.0M216.00 678.2V684.2M226.80 491V485.0M226.80 678.2V684.2M237.60 491V485.0M237.60 678.2V684.2M248.40 491V485.0M248.40 678.2V684.2M259.20 491V485.0M259.20 678.2V684.2M270.00 491V485.0M270.00 678.2V684.2M280.80 491V479.4M280.80 678.2V689.8M291.60 491V485.0M291.60 678.2V684.2M302.40 491V485.0M302.40 678.2V684.2M313.20 491V485.0M313.20 678.2V684.2M324.00 491V485.0M324.00 678.2V684.2M334.80 491V485.0M334.80 678.2V684.2M345.60 491V485.0M345.60 678.2V684.2M356.40 491V485.0M356.40 678.2V684.2M367.20 491V485.0M367.20 678.2V684.2M378.00 491V485.0M378.00 678.2V684.2M388.80 491V479.4M388.80 678.2V689.8M399.60 491V485.0M399.60 678.2V684.2M410.40 491V485.0M410.40 678.2V684.2M421.20 491V485.0M421.20 678.2V684.2M432.00 491V485.0M432.00 678.2V684.2M442.80 491V485.0M442.80 678.2V684.2M453.60 491V485.0M453.60 678.2V684.2M464.40 491V485.0M464.40 678.2V684.2M475.20 491V485.0M475.20 678.2V684.2M486.00 491V485.0M486.00 678.2V684.2M496.80 491V479.4M496.80 678.2V689.8M507.60 491V485.0M507.60 678.2V684.2M518.40 491V485.0M518.40 678.2V684.2M529.20 491V485.0M529.20 678.2V684.2M540.00 491V485.0M540.00 678.2V684.2M550.80 491V485.0M550.80 678.2V684.2M561.60 491V485.0M561.60 678.2V684.2M572.40 491V485.0M572.40 678.2V684.2M583.20 491V485.0M583.20 678.2V684.2M594.00 491V485.0M594.00 678.2V684.2M604.80 491V479.4M604.80 678.2V689.8M615.60 491V485.0M615.60 678.2V684.2M626.40 491V485.0M626.40 678.2V684.2M637.20 491V485.0M637.20 678.2V684.2M648.00 491V485.0M648.00 678.2V684.2M658.80 491V485.0M658.80 678.2V684.2M669.60 491V485.0M669.60 678.2V684.2M680.40 491V485.0M680.40 678.2V684.2M691.20 491V485.0M691.20 678.2V684.2M702.00 491V485.0M702.00 678.2V684.2M712.80 491V479.4M712.80 678.2V689.8M723.60 491V485.0M723.60 678.2V684.2M734.40 491V485.0M734.40 678.2V684.2M745.20 491V485.0M745.20 678.2V684.2M756.00 491V485.0M756.00 678.2V684.2M766.80 491V485.0M766.80 678.2V684.2M777.60 491V485.0M777.60 678.2V684.2M788.40 491V485.0M788.40 678.2V684.2M799.20 491V485.0M799.20 678.2V684.2M810.00 491V485.0M810.00 678.2V684.2M820.80 491V479.4M820.80 678.2V689.8M831.60 491V485.0M831.60 678.2V684.2M842.40 491V485.0M842.40 678.2V684.2M853.20 491V485.0M853.20 678.2V684.2M864.00 491V485.0M864.00 678.2V684.2M874.80 491V485.0M874.80 678.2V684.2M885.60 491V485.0M885.60 678.2V684.2M896.40 491V485.0M896.40 678.2V684.2M907.20 491V485.0M907.20 678.2V684.2M918.00 491V485.0M918.00 678.2V684.2M928.80 491V479.4M928.80 678.2V689.8M939.60 491V485.0M939.60 678.2V684.2M950.40 491V485.0M950.40 678.2V684.2M961.20 491V485.0M961.20 678.2V684.2M972.00 491V485.0M972.00 678.2V684.2M982.80 491V485.0M982.80 678.2V684.2M993.60 491V485.0M993.60 678.2V684.2M1004.40 491V485.0M1004.40 678.2V684.2M1015.20 491V485.0M1015.20 678.2V684.2M1026.00 491V485.0M1026.00 678.2V684.2M1036.80 491V479.4M1036.80 678.2V689.8" stroke="#000" stroke-width="1.1" fill="none"/>
<path d="M172.8 678.20H161.2M172.8 657.40H166.8M172.8 636.60H161.2M172.8 615.80H166.8M172.8 595.00H161.2M172.8 574.20H166.8M172.8 553.40H161.2M172.8 532.60H166.8M172.8 511.80H161.2M172.8 491.00H166.8" stroke="#000" stroke-width="1.1" fill="none"/>
<text x="149.3" y="686.9" text-anchor="end" class="a">−20</text>
<text x="149.3" y="645.3" text-anchor="end" class="a">0</text>
<text x="149.3" y="603.7" text-anchor="end" class="a">20</text>
<text x="149.3" y="562.1" text-anchor="end" class="a">40</text>
<text x="149.3" y="520.5" text-anchor="end" class="a">60</text>
<path d="M1036.8 678.20H1048.4M1036.8 657.40H1042.8M1036.8 636.60H1048.4M1036.8 615.80H1042.8M1036.8 595.00H1048.4M1036.8 574.20H1042.8M1036.8 553.40H1048.4M1036.8 532.60H1042.8M1036.8 511.80H1048.4M1036.8 491.00H1042.8" stroke="#000" stroke-width="1.1" fill="none"/>
<text x="0" y="0" transform="translate(81.7,584.6) rotate(-90)" text-anchor="middle" class="l" fill="#000">Signal [Pa]</text>
<g clip-path="url(#c3)"><polyline points="172.8,884.8 173.4,885.3 174.0,884.4 174.6,886.1 175.2,884.8 175.8,885.4 176.4,884.8 177.0,886.8 177.6,885.3 178.2,885.2 178.8,884.9 179.4,886.5 180.0,885.1 180.6,886.2 181.2,884.9 181.8,885.7 182.4,884.8 183.0,886.0 183.6,885.0 184.2,886.3 184.8,885.4 185.4,886.4 186.0,885.2 186.6,885.9 187.2,885.3 187.8,886.1 188.4,885.2 189.0,886.4 189.6,885.7 190.2,887.1 190.8,885.7 191.4,886.3 192.0,885.3 192.6,886.8 193.2,885.9 193.8,886.5 194.4,885.3 195.0,885.9 195.6,885.3 196.2,886.7 196.8,885.5 197.4,886.7 198.0,885.6 198.6,886.4 199.2,885.7 199.8,887.1 200.4,886.0 201.0,886.6 201.6,885.6 202.2,886.5 202.8,885.7 203.4,886.5 204.0,885.2 204.6,886.5 205.2,885.7 205.8,886.8 206.4,885.4 207.0,886.1 207.6,885.0 208.2,886.0 208.8,885.2 209.4,885.9 210.0,884.9 210.6,886.9 211.2,885.9 211.8,886.1 212.4,884.9 213.0,886.3 213.6,885.4 214.2,885.9 214.8,884.5 215.4,885.9 216.0,884.7 216.6,885.5 217.2,884.8 217.8,886.0 218.4,885.1 219.0,885.7 219.6,885.0 220.2,885.8 220.8,884.7 221.4,886.1 222.0,884.3 222.6,884.9 223.2,884.2 223.8,885.3 224.4,884.5 225.0,885.6 225.6,884.7 226.2,885.6 226.8,884.0 227.4,884.5 228.0,883.6 228.6,885.0 229.2,884.0 229.8,885.3 230.4,884.5 231.0,884.9 231.6,883.7 232.2,884.9 232.8,884.7 233.4,886.0 234.0,884.3 234.6,885.2 235.2,884.5 235.8,885.1 236.4,884.3 237.0,885.3 237.6,884.0 238.2,885.7 238.8,884.5 239.4,885.2 240.0,883.9 240.6,885.0 241.2,884.5 241.8,885.6 242.4,884.6 243.0,884.9 243.6,883.5 244.2,884.4 244.8,883.3 245.4,884.9 246.0,883.6 246.6,883.9 247.2,883.0 247.8,884.0 248.4,882.9 249.0,884.5 249.6,883.6 250.2,884.4 250.8,883.4 251.4,884.4 252.0,883.7 252.6,884.7 253.2,883.5 253.8,884.1 254.4,882.7 255.0,884.0 255.6,883.4 256.2,884.5 256.8,883.4 257.4,884.0 258.0,882.7 258.6,884.0 259.2,883.0 259.8,883.6 260.4,882.3 261.0,883.3 261.6,882.8 262.2,884.2 262.8,883.3 263.4,884.3 264.0,883.0 264.6,884.1 265.2,883.3 265.8,884.0 266.4,881.9 267.0,882.9 267.6,882.3 268.2,883.7 268.8,882.9 269.4,883.4 270.0,881.9 270.6,883.2 271.2,882.8 271.8,883.3 272.4,882.0 273.0,883.2 273.6,882.2 274.2,883.8 274.8,882.4 275.4,883.0 276.0,882.7 276.6,883.5 277.2,881.8 277.8,882.1 278.4,881.1 279.0,882.8 279.6,881.8 280.2,883.0 280.8,881.7 281.4,881.9 282.0,881.6 282.6,883.0 283.2,882.0 283.8,883.1 284.4,881.7 285.0,882.5 285.6,882.0 286.2,883.2 286.8,882.1 287.4,883.1 288.0,882.1 288.6,883.2 289.2,881.8 289.8,882.3 290.4,881.7 291.0,882.8 291.6,881.1 292.2,882.6 292.8,882.1 293.4,882.8 294.0,881.3 294.6,882.5 295.2,881.7 295.8,882.2 296.4,881.1 297.0,882.1 297.6,881.6 298.2,882.8 298.8,881.5 299.4,882.9 300.0,882.3 300.6,882.8 301.2,881.1 301.8,882.4 302.4,881.9 303.0,883.3 303.6,882.0 304.2,882.8 304.8,882.1 305.4,882.7 306.0,880.7 306.6,881.6 307.2,881.3 307.8,881.8 308.4,881.0 309.0,882.3 309.6,880.9 310.2,882.0 310.8,881.5 311.4,883.1 312.0,882.0 312.6,882.6 313.2,881.4 313.8,881.9 314.4,880.5 315.0,881.9 315.6,881.1 316.2,882.0 316.8,881.4 317.4,882.8 318.0,881.1 318.6,881.9 319.2,880.9 319.8,882.1 320.4,881.1 321.0,881.5 321.6,880.1 322.2,880.9 322.8,879.5 323.4,880.5 324.0,879.2 324.6,879.1 325.2,877.9 325.8,879.2 326.4,877.5 327.0,877.6 327.6,876.6 328.2,878.1 328.8,877.0 329.4,876.7 330.0,875.4 330.6,876.7 331.2,875.0 331.8,875.8 332.4,875.3 333.0,875.7 333.6,873.7 334.2,874.2 334.8,873.0 335.4,874.3 336.0,872.7 336.6,873.1 337.2,871.1 337.8,871.2 338.4,869.6 339.0,869.5 339.6,867.8 340.2,868.3 340.8,866.0 341.4,865.9 342.0,864.4 342.6,864.6 343.2,862.9 343.8,863.2 344.4,861.5 345.0,861.6 345.6,860.1 346.2,861.2 346.8,860.1 347.4,860.5 348.0,859.1 348.6,860.2 349.2,859.3 349.8,860.0 350.4,858.4 351.0,859.2 351.6,857.5 352.2,858.0 352.8,856.9 353.4,858.0 354.0,856.6 354.6,857.1 355.2,856.5 355.8,857.0 356.4,855.0 357.0,855.8 357.6,854.6 358.2,855.0 358.8,853.7 359.4,854.8 360.0,853.8 360.6,854.1 361.2,852.4 361.8,853.3 362.4,852.4 363.0,853.1 363.6,851.7 364.2,852.8 364.8,851.8 365.4,852.1 366.0,850.4 366.6,851.3 367.2,850.1 367.8,850.4 368.4,848.5 369.0,849.3 369.6,848.2 370.2,848.5 370.8,847.8 371.4,848.6 372.0,846.8 372.6,847.7 373.2,846.9 373.8,847.4 374.4,846.0 375.0,846.3 375.6,844.9 376.2,845.7 376.8,843.9 377.4,844.9 378.0,844.1 378.6,844.8 379.2,843.8 379.8,844.7 380.4,843.7 381.0,844.5 381.6,843.4 382.2,844.2 382.8,843.1 383.4,844.1 384.0,843.1 384.6,844.5 385.2,843.2 385.8,843.7 386.4,842.3 387.0,842.9 387.6,842.1 388.2,843.4 388.8,841.9 389.4,842.4 390.0,841.9 390.6,842.4 391.2,841.1 391.8,842.3 392.4,841.4 393.0,842.2 393.6,840.3 394.2,841.5 394.8,840.9 395.4,841.4 396.0,840.2 396.6,840.8 397.2,839.1 397.8,839.8 398.4,838.3 399.0,839.3 399.6,838.2 400.2,839.3 400.8,838.0 401.4,838.3 402.0,836.7 402.6,837.5 403.2,836.6 403.8,837.2 404.4,836.2 405.0,837.0 405.6,835.4 406.2,836.4 406.8,835.5 407.4,835.9 408.0,835.0 408.6,835.9 409.2,834.4 409.8,835.3 410.4,833.6 411.0,834.0 411.6,832.6 412.2,832.7 412.8,831.1 413.4,832.1 414.0,830.6 414.6,831.0 415.2,829.6 415.8,829.2 416.4,827.4 417.0,828.3 417.6,826.8 418.2,827.1 418.8,825.6 419.4,825.7 420.0,824.2 420.6,825.2 421.2,823.2 421.8,822.9 422.4,821.4 423.0,821.9 423.6,820.0 424.2,820.2 424.8,818.4 425.4,818.2 426.0,816.0 426.6,816.5 427.2,815.4 427.8,815.3 428.4,813.3 429.0,813.5 429.6,811.5 430.2,812.2 430.8,810.9 431.4,810.3 432.0,808.7 432.6,809.7 433.2,808.5 433.8,809.1 434.4,807.5 435.0,807.9 435.6,806.6 436.2,807.5 436.8,806.0 437.4,807.0 438.0,806.1 438.6,806.7 439.2,805.8 439.8,806.0 440.4,804.6 441.0,805.6 441.6,804.3 442.2,805.0 442.8,803.9 443.4,804.7 444.0,803.3 444.6,804.3 445.2,803.1 445.8,803.9 446.4,802.9 447.0,803.8 447.6,803.1 448.2,803.6 448.8,801.9 449.4,802.7 450.0,802.0 450.6,802.6 451.2,800.9 451.8,802.6 452.4,802.0 453.0,802.5 453.6,801.9 454.2,803.2 454.8,801.8 455.4,803.5 456.0,803.3 456.6,804.3 457.2,803.2 457.8,804.3 458.4,803.2 459.0,804.7 459.6,803.6 460.2,804.4 460.8,804.5 461.4,805.4 462.0,804.4 462.6,806.3 463.2,806.4 463.8,808.3 464.4,808.0 465.0,809.6 465.6,809.3 466.2,811.3 466.8,811.4 467.4,812.7 468.0,812.2 468.6,814.2 469.2,813.7 469.8,815.7 470.4,815.1 471.0,816.1 471.6,815.6 472.2,816.8 472.8,815.8 473.4,816.5 474.0,816.5 474.6,818.3 475.2,816.9 475.8,817.8 476.4,817.2 477.0,818.8 477.6,818.2 478.2,820.0 478.8,819.9 479.4,821.4 480.0,821.1 480.6,822.8 481.2,822.6 481.8,824.6 482.4,823.7 483.0,825.5 483.6,825.5 484.2,826.8 484.8,826.6 485.4,828.1 486.0,827.4 486.6,828.4 487.2,827.9 487.8,829.5 488.4,828.8 489.0,830.2 489.6,829.3 490.2,830.8 490.8,830.3 491.4,831.3 492.0,830.5 492.6,832.3 493.2,831.5 493.8,832.2 494.4,831.7 495.0,832.9 495.6,832.2 496.2,833.9 496.8,833.4 497.4,834.4 498.0,834.1 498.6,836.3 499.2,835.4 499.8,837.1 500.4,836.7 501.0,837.7 501.6,837.0 502.2,838.8 502.8,838.5 503.4,840.1 504.0,839.6 504.6,841.3 505.2,841.2 505.8,842.4 506.4,842.0 507.0,843.6 507.6,843.0 508.2,845.0 508.8,844.3 509.4,845.5 510.0,844.8 510.6,847.0 511.2,846.4 511.8,847.4 512.4,847.3 513.0,849.1 513.6,848.8 514.2,849.9 514.8,848.9 515.4,850.9 516.0,850.4 516.6,851.0 517.2,850.8 517.8,852.3 518.4,850.9 519.0,852.5 519.6,852.0 520.2,852.7 520.8,852.0 521.4,854.0 522.0,853.1 522.6,854.3 523.2,854.3 523.8,855.6 524.4,854.4 525.0,855.6 525.6,855.4 526.2,856.9 526.8,856.1 527.4,857.6 528.0,856.6 528.6,858.2 529.2,858.2 529.8,859.1 530.4,858.1 531.0,859.8 531.6,859.1 532.2,860.4 532.8,860.1 533.4,862.1 534.0,861.1 534.6,861.8 535.2,861.4 535.8,862.7 536.4,861.7 537.0,863.6 537.6,863.6 538.2,865.1 538.8,864.5 539.4,865.5 540.0,864.7 540.6,866.9 541.2,866.9 541.8,868.3 542.4,867.8 543.0,869.7 543.6,869.3 544.2,870.8 544.8,870.6 545.4,872.1 546.0,871.8 546.6,873.4 547.2,872.8 547.8,874.2 548.4,873.5 549.0,875.5 549.6,874.7 550.2,876.2 550.8,876.4 551.4,878.8 552.0,878.4 552.6,879.7 553.2,879.2 553.8,880.1 554.4,879.8 555.0,881.3 555.6,880.7 556.2,881.4 556.8,879.7 557.4,881.3 558.0,881.1 558.6,882.1 559.2,880.8 559.8,881.9 560.4,881.0 561.0,881.6 561.6,880.6 562.2,881.4 562.8,880.7 563.4,882.4 564.0,881.0 564.6,881.4 565.2,880.8 565.8,882.5 566.4,880.9 567.0,881.6 567.6,881.1 568.2,882.6 568.8,882.2 569.4,882.5 570.0,881.0 570.6,881.9 571.2,881.1 571.8,882.7 572.4,882.1 573.0,882.5 573.6,880.8 574.2,882.4 574.8,882.0 575.4,882.8 576.0,881.8 576.6,883.1 577.2,882.1 577.8,883.4 578.4,882.9 579.0,883.6 579.6,882.1 580.2,882.7 580.8,881.6 581.4,882.8 582.0,881.1 582.6,882.2 583.2,882.1 583.8,883.1 584.4,881.6 585.0,882.2 585.6,881.7 586.2,883.3 586.8,882.0 587.4,882.4 588.0,881.4 588.6,882.8 589.2,882.5 589.8,883.7 590.4,882.3 591.0,883.0 591.6,881.8 592.2,882.7 592.8,882.0 593.4,883.3 594.0,881.8 594.6,882.8 595.2,882.5 595.8,883.3 596.4,881.6 597.0,882.7 597.6,881.9 598.2,883.1 598.8,882.1 599.4,883.2 600.0,882.2 600.6,883.1 601.2,882.6 601.8,883.2 602.4,881.4 603.0,882.8 603.6,881.8 604.2,882.6 604.8,882.5 605.4,883.4 606.0,881.5 606.6,882.9 607.2,882.2 607.8,882.6 608.4,881.7 609.0,883.5 609.6,882.3 610.2,883.1 610.8,882.1 611.4,882.8 612.0,881.6 612.6,883.0 613.2,882.3 613.8,882.7 614.4,881.8 615.0,883.4 615.6,882.3 616.2,883.5 616.8,881.9 617.4,882.5 618.0,881.8 618.6,882.7 619.2,881.8 619.8,883.2 620.4,882.1 621.0,883.5 621.6,882.3 622.2,883.5 622.8,882.9 623.4,883.6 624.0,882.7 624.6,883.0 625.2,881.9 625.8,882.9 626.4,882.2 627.0,883.4 627.6,881.9 628.2,883.4 628.8,883.0 629.4,883.0 630.0,881.5 630.6,882.8 631.2,882.1 631.8,883.2 632.4,882.1 633.0,883.5 633.6,882.2 634.2,882.9 634.8,882.3 635.4,883.5 636.0,882.4 636.6,883.1 637.2,882.7 637.8,883.8 638.4,882.3 639.0,883.1 639.6,882.1 640.2,882.8 640.8,881.5 641.4,882.7 642.0,882.1 642.6,883.4 643.2,882.3 643.8,883.0 644.4,882.1 645.0,883.1 645.6,882.1 646.2,883.5 646.8,882.3 647.4,882.7 648.0,881.8 648.6,883.1 649.2,882.0 649.8,883.2 650.4,883.0 651.0,884.1 651.6,882.9 652.2,884.1 652.8,882.9 653.4,883.6 654.0,882.4 654.6,883.0 655.2,881.6 655.8,882.8 656.4,881.9 657.0,882.9 657.6,882.3 658.2,883.4 658.8,882.2 659.4,883.8 660.0,882.7 660.6,883.2 661.2,882.6 661.8,883.6 662.4,882.6 663.0,883.5 663.6,882.6 664.2,883.9 664.8,882.0 665.4,882.9 666.0,882.5 666.6,883.4 667.2,882.4 667.8,883.4 668.4,882.4 669.0,883.5 669.6,882.7 670.2,883.9 670.8,882.8 671.4,884.0 672.0,882.6 672.6,883.3 673.2,882.5 673.8,883.9 674.4,882.9 675.0,883.3 675.6,882.5 676.2,883.9 676.8,882.9 677.4,883.6 678.0,882.2 678.6,883.2 679.2,882.1 679.8,883.6 680.4,882.8 681.0,883.3 681.6,882.0 682.2,883.0 682.8,882.6 683.4,884.1 684.0,883.0 684.6,883.6 685.2,882.5 685.8,883.1 686.4,881.7 687.0,883.2 687.6,882.6 688.2,883.6 688.8,882.6 689.4,883.5 690.0,882.3 690.6,883.5 691.2,882.5 691.8,883.4 692.4,882.4 693.0,883.9 693.6,882.8 694.2,883.9 694.8,882.9 695.4,883.6 696.0,883.1 696.6,884.3 697.2,882.9 697.8,882.8 698.4,881.7 699.0,883.5 699.6,883.3 700.2,884.2 700.8,882.7 701.4,883.9 702.0,883.2 702.6,884.3 703.2,883.3 703.8,884.0 704.4,882.1 705.0,883.3 705.6,882.5 706.2,883.7 706.8,882.9 707.4,884.0 708.0,882.7 708.6,883.3 709.2,882.5 709.8,883.9 710.4,883.0 711.0,883.6 711.6,883.1 712.2,884.0 712.8,882.5 713.4,884.0 714.0,882.5 714.6,883.4 715.2,882.9 715.8,883.6 716.4,882.7 717.0,883.8 717.6,882.8 718.2,884.1 718.8,882.6 719.4,882.6 720.0,882.2 720.6,883.4 721.2,882.3 721.8,883.5 722.4,882.5 723.0,883.8 723.6,882.2 724.2,882.8 724.8,882.8 725.4,883.9 726.0,882.4 726.6,884.2 727.2,883.4 727.8,883.5 728.4,882.6 729.0,884.0 729.6,882.5 730.2,883.6 730.8,882.8 731.4,883.1 732.0,882.4 732.6,884.1 733.2,883.0 733.8,883.9 734.4,882.6 735.0,883.4 735.6,882.3 736.2,883.7 736.8,883.1 737.4,884.3 738.0,883.3 738.6,883.7 739.2,882.4 739.8,883.3 740.4,882.2 741.0,884.2 741.6,882.9 742.2,882.9 742.8,882.0 743.4,883.5 744.0,883.0 744.6,883.7 745.2,882.9 745.8,883.8 746.4,882.7 747.0,884.2 747.6,883.1 748.2,883.6 748.8,882.8 749.4,884.0 750.0,883.1 750.6,883.8 751.2,882.7 751.8,883.8 752.4,883.0 753.0,883.9 753.6,882.6 754.2,883.4 754.8,882.3 755.4,883.4 756.0,882.6 756.6,884.1 757.2,882.9 757.8,884.1 758.4,883.2 759.0,884.0 759.6,883.2 760.2,883.7 760.8,882.5 761.4,883.3 762.0,882.4 762.6,884.3 763.2,883.3 763.8,884.3 764.4,883.2 765.0,883.7 765.6,882.7 766.2,883.6 766.8,882.7 767.4,884.3 768.0,883.2 768.6,883.6 769.2,882.6 769.8,884.0 770.4,882.9 771.0,883.2 771.6,882.0 772.2,883.9 772.8,883.1 773.4,884.0 774.0,883.0 774.6,883.5 775.2,882.6 775.8,884.0 776.4,882.9 777.0,883.3 777.6,882.3 778.2,883.5 778.8,882.8 779.4,883.8 780.0,882.2 780.6,883.1 781.2,882.3 781.8,883.6 782.4,882.5 783.0,883.7 783.6,882.8 784.2,884.3 784.8,883.8 785.4,884.0 786.0,883.0 786.6,884.2 787.2,882.8 787.8,883.5 788.4,882.5 789.0,884.0 789.6,883.0 790.2,883.9 790.8,882.9 791.4,884.0 792.0,882.3 792.6,883.1 793.2,882.6 793.8,883.5 794.4,882.9 795.0,884.2 795.6,882.6 796.2,883.5 796.8,882.6 797.4,883.4 798.0,882.1 798.6,882.8 799.2,882.2 799.8,883.7 800.4,882.1 801.0,883.2 801.6,882.6 802.2,883.2 802.8,881.9 803.4,883.5 804.0,883.0 804.6,883.6 805.2,882.5 805.8,883.3 806.4,882.2 807.0,883.6 807.6,882.4 808.2,882.8 808.8,882.2 809.4,882.9 810.0,881.5 810.6,882.8 811.2,881.9 811.8,882.7 812.4,881.6 813.0,882.8 813.6,881.9 814.2,883.2 814.8,882.5 815.4,883.3 816.0,881.9 816.6,882.6 817.2,881.6 817.8,883.3 818.4,882.8 819.0,883.5 819.6,882.3 820.2,882.7 820.8,881.9 821.4,883.1 822.0,881.5 822.6,882.3 823.2,881.6 823.8,882.6 824.4,882.0 825.0,883.5 825.6,882.2 826.2,883.0 826.8,882.0 827.4,882.3 828.0,880.8 828.6,882.3 829.2,881.5 829.8,881.9 830.4,881.1 831.0,882.5 831.6,881.1 832.2,882.5 832.8,882.0 833.4,882.6 834.0,881.2 834.6,882.5 835.2,881.4 835.8,882.4 836.4,881.1 837.0,881.8 837.6,881.2 838.2,882.4 838.8,881.8 839.4,882.6 840.0,881.0 840.6,882.1 841.2,881.3 841.8,882.2 842.4,881.3 843.0,882.2 843.6,881.0 844.2,881.6 844.8,880.5 845.4,881.7 846.0,879.9 846.6,881.0 847.2,880.4 847.8,880.8 848.4,879.5 849.0,881.0 849.6,879.7 850.2,880.6 850.8,879.5 851.4,880.4 852.0,879.4 852.6,879.2 853.2,878.0 853.8,879.5 854.4,878.3 855.0,878.9 855.6,877.7 856.2,878.5 856.8,876.7 857.4,877.0 858.0,875.4 858.6,875.6 859.2,874.1 859.8,874.5 860.4,872.7 861.0,873.0 861.6,871.8 862.2,872.9 862.8,870.8 863.4,870.7 864.0,868.9 864.6,869.1 865.2,867.9 865.8,869.2 866.4,867.3 867.0,867.2 867.6,865.3 868.2,865.8 868.8,865.0 869.4,864.9 870.0,862.6 870.6,863.4 871.2,861.6 871.8,861.1 872.4,859.3 873.0,859.5 873.6,857.9 874.2,858.6 874.8,856.9 875.4,857.2 876.0,855.3 876.6,855.4 877.2,853.6 877.8,853.9 878.4,851.9 879.0,852.9 879.6,850.7 880.2,850.2 880.8,848.7 881.4,848.6 882.0,846.9 882.6,847.0 883.2,845.2 883.8,844.7 884.4,842.5 885.0,842.9 885.6,841.0 886.2,840.7 886.8,837.7 887.4,837.9 888.0,836.4 888.6,836.2 889.2,834.1 889.8,834.5 890.4,832.4 891.0,832.5 891.6,830.7 892.2,830.1 892.8,827.3 893.4,827.6 894.0,825.8 894.6,825.3 895.2,823.6 895.8,824.0 896.4,821.9 897.0,821.2 897.6,818.5 898.2,817.9 898.8,815.5 899.4,815.5 900.0,813.6 900.6,813.1 901.2,809.9 901.8,809.8 902.4,807.5 903.0,806.5 903.6,804.3 904.2,804.3 904.8,801.8 905.4,801.1 906.0,798.7 906.6,798.4 907.2,795.7 907.8,795.9 908.4,794.4 909.0,794.1 909.6,792.0 910.2,791.8 910.8,789.9 911.4,789.4 912.0,786.6 912.6,786.5 913.2,784.5 913.8,784.6 914.4,782.1 915.0,781.3 915.6,778.8 916.2,778.4 916.8,776.8 917.4,776.8 918.0,774.5 918.6,774.4 919.2,771.9 919.8,771.7 920.4,769.2 921.0,768.8 921.6,766.0 922.2,765.4 922.8,762.9 923.4,762.0 924.0,759.6 924.6,759.5 925.2,757.1 925.8,757.0 926.4,754.7 927.0,753.8 927.6,751.8 928.2,752.3 928.8,750.3 929.4,750.1 930.0,748.2 930.6,747.6 931.2,745.4 931.8,745.9 932.4,744.0 933.0,743.7 933.6,741.7 934.2,741.9 934.8,740.2 935.4,740.1 936.0,738.0 936.6,739.3 937.2,738.1 937.8,738.1 938.4,736.8 939.0,737.7 939.6,736.0 940.2,736.6 940.8,735.4 941.4,736.1 942.0,734.8 942.6,735.2 943.2,734.0 943.8,734.6 944.4,732.9 945.0,733.1 945.6,731.7 946.2,732.3 946.8,731.1 947.4,731.8 948.0,730.4 948.6,731.0 949.2,730.1 949.8,731.1 950.4,729.3" stroke="#646464" stroke-width="1.5" fill="none"/></g>
<text x="604.8" y="729.6" text-anchor="middle" class="t">NeckT−2</text>
<rect x="172.8" y="707" width="864.0" height="187.2" fill="none" stroke="#000" stroke-width="2.2"/>
<path d="M172.80 707V695.4M172.80 894.2V905.8M183.60 707V701.0M183.60 894.2V900.2M194.40 707V701.0M194.40 894.2V900.2M205.20 707V701.0M205.20 894.2V900.2M216.00 707V701.0M216.00 894.2V900.2M226.80 707V701.0M226.80 894.2V900.2M237.60 707V701.0M237.60 894.2V900.2M248.40 707V701.0M248.40 894.2V900.2M259.20 707V701.0M259.20 894.2V900.2M270.00 707V701.0M270.00 894.2V900.2M280.80 707V695.4M280.80 894.2V905.8M291.60 707V701.0M291.60 894.2V900.2M302.40 707V701.0M302.40 894.2V900.2M313.20 707V701.0M313.20 894.2V900.2M324.00 707V701.0M324.00 894.2V900.2M334.80 707V701.0M334.80 894.2V900.2M345.60 707V701.0M345.60 894.2V900.2M356.40 707V701.0M356.40 894.2V900.2M367.20 707V701.0M367.20 894.2V900.2M378.00 707V701.0M378.00 894.2V900.2M388.80 707V695.4M388.80 894.2V905.8M399.60 707V701.0M399.60 894.2V900.2M410.40 707V701.0M410.40 894.2V900.2M421.20 707V701.0M421.20 894.2V900.2M432.00 707V701.0M432.00 894.2V900.2M442.80 707V701.0M442.80 894.2V900.2M453.60 707V701.0M453.60 894.2V900.2M464.40 707V701.0M464.40 894.2V900.2M475.20 707V701.0M475.20 894.2V900.2M486.00 707V701.0M486.00 894.2V900.2M496.80 707V695.4M496.80 894.2V905.8M507.60 707V701.0M507.60 894.2V900.2M518.40 707V701.0M518.40 894.2V900.2M529.20 707V701.0M529.20 894.2V900.2M540.00 707V701.0M540.00 894.2V900.2M550.80 707V701.0M550.80 894.2V900.2M561.60 707V701.0M561.60 894.2V900.2M572.40 707V701.0M572.40 894.2V900.2M583.20 707V701.0M583.20 894.2V900.2M594.00 707V701.0M594.00 894.2V900.2M604.80 707V695.4M604.80 894.2V905.8M615.60 707V701.0M615.60 894.2V900.2M626.40 707V701.0M626.40 894.2V900.2M637.20 707V701.0M637.20 894.2V900.2M648.00 707V701.0M648.00 894.2V900.2M658.80 707V701.0M658.80 894.2V900.2M669.60 707V701.0M669.60 894.2V900.2M680.40 707V701.0M680.40 894.2V900.2M691.20 707V701.0M691.20 894.2V900.2M702.00 707V701.0M702.00 894.2V900.2M712.80 707V695.4M712.80 894.2V905.8M723.60 707V701.0M723.60 894.2V900.2M734.40 707V701.0M734.40 894.2V900.2M745.20 707V701.0M745.20 894.2V900.2M756.00 707V701.0M756.00 894.2V900.2M766.80 707V701.0M766.80 894.2V900.2M777.60 707V701.0M777.60 894.2V900.2M788.40 707V701.0M788.40 894.2V900.2M799.20 707V701.0M799.20 894.2V900.2M810.00 707V701.0M810.00 894.2V900.2M820.80 707V695.4M820.80 894.2V905.8M831.60 707V701.0M831.60 894.2V900.2M842.40 707V701.0M842.40 894.2V900.2M853.20 707V701.0M853.20 894.2V900.2M864.00 707V701.0M864.00 894.2V900.2M874.80 707V701.0M874.80 894.2V900.2M885.60 707V701.0M885.60 894.2V900.2M896.40 707V701.0M896.40 894.2V900.2M907.20 707V701.0M907.20 894.2V900.2M918.00 707V701.0M918.00 894.2V900.2M928.80 707V695.4M928.80 894.2V905.8M939.60 707V701.0M939.60 894.2V900.2M950.40 707V701.0M950.40 894.2V900.2M961.20 707V701.0M961.20 894.2V900.2M972.00 707V701.0M972.00 894.2V900.2M982.80 707V701.0M982.80 894.2V900.2M993.60 707V701.0M993.60 894.2V900.2M1004.40 707V701.0M1004.40 894.2V900.2M1015.20 707V701.0M1015.20 894.2V900.2M1026.00 707V701.0M1026.00 894.2V900.2M1036.80 707V695.4M1036.80 894.2V905.8" stroke="#000" stroke-width="1.1" fill="none"/>
<path d="M172.8 894.20H161.2M172.8 885.88H166.8M172.8 877.56H166.8M172.8 869.24H166.8M172.8 860.92H166.8M172.8 852.60H161.2M172.8 844.28H166.8M172.8 835.96H166.8M172.8 827.64H166.8M172.8 819.32H166.8M172.8 811.00H161.2M172.8 802.68H166.8M172.8 794.36H166.8M172.8 786.04H166.8M172.8 777.72H166.8M172.8 769.40H161.2M172.8 761.08H166.8M172.8 752.76H166.8M172.8 744.44H166.8M172.8 736.12H166.8M172.8 727.80H161.2M172.8 719.48H166.8M172.8 711.16H166.8" stroke="#000" stroke-width="1.1" fill="none"/>
<text x="149.3" y="902.9" text-anchor="end" class="a">4.75</text>
<text x="149.3" y="861.3" text-anchor="end" class="a">5.00</text>
<text x="149.3" y="819.7" text-anchor="end" class="a">5.25</text>
<text x="149.3" y="778.1" text-anchor="end" class="a">5.50</text>
<text x="149.3" y="736.5" text-anchor="end" class="a">5.75</text>
<path d="M1036.8 894.20H1048.4M1036.8 885.88H1042.8M1036.8 877.56H1042.8M1036.8 869.24H1042.8M1036.8 860.92H1042.8M1036.8 852.60H1048.4M1036.8 844.28H1042.8M1036.8 835.96H1042.8M1036.8 827.64H1042.8M1036.8 819.32H1042.8M1036.8 811.00H1048.4M1036.8 802.68H1042.8M1036.8 794.36H1042.8M1036.8 786.04H1042.8M1036.8 777.72H1042.8M1036.8 769.40H1048.4M1036.8 761.08H1042.8M1036.8 752.76H1042.8M1036.8 744.44H1042.8M1036.8 736.12H1042.8M1036.8 727.80H1048.4M1036.8 719.48H1042.8M1036.8 711.16H1042.8" stroke="#000" stroke-width="1.1" fill="none"/>
<text x="0" y="0" transform="translate(75.9,800.6) rotate(-90)" text-anchor="middle" class="l" fill="#000">Signal [K]</text>
<g clip-path="url(#c4)"><polyline points="172.8,1000.1 173.9,1013.0 174.9,1003.4 176.0,1013.6 177.0,1001.0 178.1,1019.2 179.1,1003.0 180.2,1014.8 181.2,1006.7 182.3,1018.9 183.3,1006.7 184.4,1016.4 185.4,998.2 186.5,1010.8 187.5,998.8 188.6,1014.5 189.6,997.6 190.7,1013.8 191.7,997.7 192.8,1005.0 193.8,992.9 194.9,1005.9 195.9,995.6 197.0,1011.9 198.0,988.5 199.1,1007.9 200.1,997.6 201.2,1013.3 202.2,989.3 203.3,1011.2 204.3,996.3 205.4,1005.6 206.4,992.3 207.5,1010.9 208.5,1000.8 209.6,1012.4 210.6,994.9 211.7,1014.4 212.7,998.0 213.8,1012.8 214.8,1000.8 215.9,1008.6 216.9,997.3 218.0,1013.6 219.0,1000.1 220.1,1006.2 221.1,993.7 222.2,1008.5 223.2,994.3 224.3,1005.0 225.3,989.4 226.4,1003.3 227.4,994.1 228.5,1006.8 229.5,994.1 230.6,1008.2 231.6,993.9 232.7,1009.1 233.7,992.2 234.8,1015.7 235.8,997.1 236.9,1008.0 237.9,997.7 239.0,1007.8 240.0,997.8 241.1,1010.3 242.1,987.6 243.2,1013.7 244.2,1000.5 245.3,1018.6 246.3,1002.0 247.4,1020.7 248.4,995.6 249.5,1016.9 250.5,1000.5 251.6,1017.1 252.6,1003.5 253.7,1012.5 254.7,998.4 255.8,1014.9 256.8,1002.0 257.9,1011.0 258.9,998.9 260.0,1013.7 261.0,997.8 262.1,1019.7 263.1,1003.5 264.2,1015.6 265.2,1000.3 266.3,1008.0 267.3,993.1 268.4,1010.9 269.4,1003.3 270.5,1010.6 271.5,992.8 272.6,1011.2 273.6,992.9 274.7,1013.5 275.7,995.0 276.8,1010.2 277.8,991.9 278.9,1016.8 279.9,996.0 281.0,1010.4 282.0,996.6 283.1,1008.0 284.1,998.9 285.2,1014.6 286.2,992.1 287.3,1007.8 288.3,992.2 289.4,1008.2 290.4,995.6 291.5,1016.0 292.5,1002.2 293.6,1012.2 294.6,997.7 295.7,1009.9 296.7,999.0 297.8,1014.7 298.8,1000.9 299.9,1015.7 300.9,998.1 302.0,1013.8 303.0,998.7 304.1,1010.5 305.1,1005.2 306.2,1021.6 307.2,1003.7 308.3,1013.0 309.3,1003.7 310.4,1018.0 311.4,1006.1 312.5,1012.9 313.5,1003.8 314.6,1012.4 315.6,1000.4 316.7,1016.5 317.7,1006.0 318.8,1022.3 319.8,988.7 320.9,1015.5 321.9,1001.9 323.0,1017.4 324.0,998.4 325.1,1009.0 326.1,996.7 327.2,1014.8 328.2,994.6 329.3,1012.7 330.3,994.9 331.4,1009.2 332.4,999.5 333.5,1012.0 334.5,993.6 335.6,1015.1 336.6,997.0 337.7,1010.9 338.7,999.2 339.8,1015.7 340.8,999.0 341.9,1006.7 342.9,993.1 344.0,1003.8 345.0,993.6 346.1,1007.9 347.1,996.9 348.2,1013.2 349.2,990.8 350.3,1005.1 351.3,995.8 352.4,1011.1 353.4,993.0 354.5,1011.3 355.5,997.4 356.6,1004.5 357.6,989.1 358.7,1003.0 359.7,985.5 360.8,1003.0 361.8,991.5 362.9,1001.1 363.9,987.4 365.0,1001.5 366.0,987.1 367.1,1006.1 368.1,986.7 369.2,1007.3 370.2,993.7 371.3,1001.7 372.3,989.6 373.4,997.2 374.4,987.7 375.5,996.1 376.5,986.0 377.6,997.4 378.6,983.8 379.7,1009.0 380.7,987.4 381.8,1003.9 382.8,982.3 383.9,998.9 384.9,984.4 386.0,997.6 387.0,987.3 388.1,1001.8 389.1,983.9 390.2,999.6 391.2,984.4 392.3,995.8 393.3,990.6 394.4,1003.5 395.4,984.3 396.5,999.9 397.5,978.8 398.6,1001.7 399.6,988.1 400.7,1000.7 401.7,988.6 402.8,1009.9 403.8,986.3 404.9,999.4 405.9,979.7 407.0,998.7 408.0,983.0 409.1,997.6 410.1,972.9 411.2,1004.6 412.2,982.8 413.3,998.8 414.3,986.3 415.4,997.0 416.4,982.2 417.5,990.4 418.5,981.8 419.6,989.5 420.6,983.3 421.7,999.4 422.7,984.4 423.8,1001.8 424.8,975.7 425.9,1000.9 426.9,984.9 428.0,993.8 429.0,984.9 430.1,1001.9 431.1,984.8 432.2,1002.4 433.2,985.6 434.3,996.6 435.3,980.0 436.4,997.2 437.4,976.5 438.5,1001.3 439.5,989.7 440.6,1000.6 441.6,984.8 442.7,1001.9 443.7,979.8 444.8,999.3 445.8,980.7 446.9,997.7 447.9,987.9 449.0,1001.1 450.0,986.8 451.1,1007.1 452.1,989.8 453.2,997.2 454.2,987.8 455.3,997.3 456.3,982.0 457.4,997.6 458.4,991.1 459.5,1001.8 460.5,981.7 461.6,1001.3 462.6,986.1 463.7,998.7 464.7,985.4 465.8,999.5 466.8,990.8 467.9,1000.0 468.9,994.5 470.0,1004.7 471.0,990.4 472.1,1005.1 473.1,988.7 474.2,1001.5 475.2,991.2 476.3,1009.0 477.3,990.1 478.4,1014.0 479.4,991.7 480.5,1005.4 481.5,989.9 482.6,1009.1 483.6,997.1 484.7,1004.6 485.7,995.7 486.8,1006.8 487.8,986.1 488.9,1012.7 489.9,995.8 491.0,1008.4 492.0,993.3 493.1,1011.3 494.1,998.4 495.2,1007.2 496.2,997.0 497.3,1010.6 498.3,1002.1 499.4,1020.3 500.4,1004.3 501.5,1023.0 502.5,1009.2 503.6,1017.6 504.6,1007.5 505.7,1015.8 506.7,1003.0 507.8,1019.7 508.8,1005.4 509.9,1020.0 510.9,1009.6 512.0,1018.4 513.0,1011.3 514.1,1021.2 515.1,1013.3 516.2,1026.1 517.2,1004.5 518.3,1038.0 519.3,1007.0 520.4,1032.2 521.4,1017.8 522.5,1031.7 523.5,1011.4 524.6,1027.2 525.6,1016.3 526.7,1030.9 527.7,1015.4 528.8,1037.0 529.8,1019.0 530.9,1034.2 531.9,1021.6 533.0,1032.4 534.0,1011.6 535.1,1034.3 536.1,1018.6 537.2,1042.3 538.2,1019.2 539.3,1032.0 540.3,1019.5 541.4,1041.4 542.4,1027.2 543.5,1046.1 544.5,1028.0 545.6,1039.6 546.6,1024.7 547.7,1044.1 548.7,1032.3 549.8,1043.9 550.8,1032.7 551.9,1047.9 552.9,1031.4 554.0,1048.3 555.0,1036.8 556.1,1045.0 557.1,1036.1 558.2,1046.6 559.2,1037.7 560.3,1049.3 561.3,1037.9 562.4,1050.8 563.4,1040.8 564.5,1050.7 565.5,1041.3 566.6,1055.7 567.6,1040.9 568.7,1056.3 569.7,1044.3 570.8,1064.2 571.8,1045.7 572.9,1058.3 573.9,1041.7 575.0,1069.7 576.0,1053.5 577.1,1064.3 578.1,1049.1 579.2,1059.2 580.2,1047.6 581.3,1061.6 582.3,1046.3 583.4,1064.6 584.4,1046.9 585.5,1062.6 586.5,1051.8 587.6,1067.9 588.6,1052.5 589.7,1065.7 590.7,1043.0 591.8,1064.9 592.8,1051.2 593.9,1069.5 594.9,1056.2 596.0,1069.0 597.0,1049.3 598.1,1070.6 599.1,1054.8 600.2,1067.6 601.2,1056.9 602.3,1067.3 603.3,1056.3 604.4,1069.0 605.4,1057.4 606.5,1070.8 607.5,1049.0 608.6,1070.8 609.6,1062.0 610.7,1069.0 611.7,1060.7 612.8,1072.7 613.8,1052.3 614.9,1069.9 615.9,1050.2 617.0,1073.2 618.0,1055.7 619.1,1070.9 620.1,1056.3 621.2,1072.8 622.2,1056.0 623.3,1070.7 624.3,1059.3 625.4,1072.1 626.4,1057.3 627.5,1080.1 628.5,1064.6 629.6,1075.9 630.6,1061.6 631.7,1071.2 632.7,1061.8 633.8,1079.7 634.8,1061.7 635.9,1072.5 636.9,1062.2 638.0,1081.2 639.0,1060.1 640.1,1075.0 641.1,1062.4 642.2,1071.9 643.2,1060.2 644.3,1069.6 645.3,1056.8 646.4,1074.6 647.4,1059.5 648.5,1073.1 649.5,1061.5 650.6,1089.8 651.6,1056.1 652.7,1073.5 653.7,1066.7 654.8,1083.8 655.8,1068.9 656.9,1090.3 657.9,1062.5 659.0,1076.5 660.0,1064.5 661.1,1082.5 662.1,1063.3 663.2,1080.0 664.2,1071.5 665.3,1084.1 666.3,1067.5 667.4,1087.5 668.4,1062.6 669.5,1078.8 670.5,1067.1 671.6,1082.7 672.6,1071.2 673.7,1085.0 674.7,1066.3 675.8,1088.4 676.8,1072.1 677.9,1081.7 678.9,1074.0 680.0,1085.7 681.0,1072.5 682.1,1087.8 683.1,1069.6 684.2,1091.7 685.2,1072.1 686.3,1084.1 687.3,1068.3 688.4,1084.9 689.4,1072.3 690.5,1085.7 691.5,1066.6 692.6,1094.8 693.6,1069.2 694.7,1084.1 695.7,1076.8 696.8,1089.4 697.8,1073.4 698.9,1088.7 699.9,1076.6 701.0,1090.7 702.0,1071.7 703.1,1086.1 704.1,1075.6 705.2,1091.2 706.2,1075.8 707.3,1088.6 708.3,1072.0 709.4,1090.9 710.4,1061.9 711.5,1085.7 712.5,1073.8 713.6,1093.2 714.6,1072.5 715.7,1083.1 716.7,1066.1 717.8,1083.4 718.8,1074.4 719.9,1082.3 720.9,1070.1 722.0,1081.1 723.0,1069.0 724.1,1080.8 725.1,1072.9 726.2,1080.1 727.2,1070.5 728.3,1088.8 729.3,1071.4 730.4,1080.3 731.4,1070.9 732.5,1088.8 733.5,1075.2 734.6,1090.0 735.6,1067.1 736.7,1080.9 737.7,1070.6 738.8,1077.6 739.8,1058.3 740.9,1083.8 741.9,1069.8 743.0,1086.5 744.0,1068.1 745.1,1087.8 746.1,1070.6 747.2,1086.3 748.2,1069.7 749.3,1079.3 750.3,1065.1 751.4,1086.5 752.4,1069.8 753.5,1083.6 754.5,1069.6 755.6,1079.2 756.6,1070.5 757.7,1085.2 758.7,1073.9 759.8,1081.9 760.8,1068.6 761.9,1082.5 762.9,1063.8 764.0,1080.0 765.0,1063.0 766.1,1085.0 767.1,1060.1 768.2,1081.7 769.2,1066.7 770.3,1086.8 771.3,1072.1 772.4,1081.9 773.4,1068.4 774.5,1084.3 775.5,1069.7 776.6,1080.7 777.6,1071.1 778.7,1084.3 779.7,1068.4 780.8,1077.5 781.8,1066.3 782.9,1087.9 783.9,1068.3 785.0,1079.1 786.0,1068.0 787.1,1081.8 788.1,1066.1 789.2,1088.7 790.2,1062.2 791.3,1083.6 792.3,1070.3 793.4,1080.9 794.4,1066.8 795.5,1078.9 796.5,1060.0 797.6,1079.0 798.6,1070.2 799.7,1079.2 800.7,1071.7 801.8,1079.3 802.8,1065.2 803.9,1081.5 804.9,1066.1 806.0,1081.3 807.0,1066.1 808.1,1078.4 809.1,1067.5 810.2,1077.5 811.2,1065.7 812.3,1088.1 813.3,1068.1 814.4,1082.0 815.4,1065.8 816.5,1076.4 817.5,1066.5 818.6,1077.2 819.6,1066.2 820.7,1075.2 821.7,1060.0 822.8,1075.4 823.8,1063.8 824.9,1077.7 825.9,1062.1 827.0,1070.2 828.0,1058.8 829.1,1081.3 830.1,1063.2 831.2,1073.2 832.2,1063.6 833.3,1075.6 834.3,1061.8 835.4,1074.3 836.4,1062.5 837.5,1072.7 838.5,1057.3 839.6,1077.6 840.6,1066.7 841.7,1078.7 842.7,1063.9 843.8,1079.7 844.8,1067.9 845.9,1077.0 846.9,1058.2 848.0,1077.5 849.0,1065.2 850.1,1076.9 851.1,1066.7 852.2,1076.3 853.2,1064.9 854.3,1074.2 855.3,1064.8 856.4,1076.6 857.4,1063.4 858.5,1080.1 859.5,1070.6 860.6,1081.6 861.6,1067.5 862.7,1076.3 863.7,1069.9 864.8,1081.1 865.8,1059.1 866.9,1076.4 867.9,1062.0 869.0,1080.5 870.0,1063.1 871.1,1079.5 872.1,1064.8 873.2,1080.5 874.2,1065.8 875.3,1080.6 876.3,1065.8 877.4,1075.5 878.4,1064.9 879.5,1070.6 880.5,1061.3 881.6,1070.3 882.6,1061.8 883.7,1070.6 884.7,1055.9 885.8,1072.4 886.8,1064.3 887.9,1076.6 888.9,1067.5 890.0,1073.3 891.0,1059.2 892.1,1077.7 893.1,1061.2 894.2,1078.0 895.2,1063.2 896.3,1075.9 897.3,1059.7 898.4,1071.7 899.4,1055.5 900.5,1071.6 901.5,1056.7 902.6,1073.1 903.6,1056.6 904.7,1074.1 905.7,1053.2 906.8,1084.1 907.8,1052.9 908.9,1072.4 909.9,1048.3 911.0,1073.4 912.0,1057.4 913.1,1076.1 914.1,1049.2 915.2,1063.0 916.2,1038.4 917.3,1059.2 918.3,1043.5 919.4,1058.7 920.4,1045.1 921.5,1059.5 922.5,1043.5 923.6,1063.1 924.6,1046.3 925.7,1053.2 926.7,1039.7 927.8,1051.6 928.8,1038.2 929.9,1052.0 930.9,1041.3 932.0,1051.3 933.0,1030.1 934.1,1044.9 935.1,1032.0 936.2,1048.5 937.2,1025.0 938.3,1047.5 939.3,1037.0 940.4,1045.6 941.4,1033.9 942.5,1045.3 943.5,1025.8 944.6,1041.9 945.6,1032.6 946.7,1038.7 947.7,1026.6 948.8,1037.9 949.8,1028.3" stroke="#646464" stroke-width="1.4" fill="none"/></g>
<text x="604.8" y="945.6" text-anchor="middle" class="t">NeckT−1</text>
<rect x="172.8" y="923" width="864.0" height="187.2" fill="none" stroke="#000" stroke-width="2.2"/>
<path d="M172.80 923V911.4M172.80 1110.2V1121.8M183.60 923V917.0M183.60 1110.2V1116.2M194.40 923V917.0M194.40 1110.2V1116.2M205.20 923V917.0M205.20 1110.2V1116.2M216.00 923V917.0M216.00 1110.2V1116.2M226.80 923V917.0M226.80 1110.2V1116.2M237.60 923V917.0M237.60 1110.2V1116.2M248.40 923V917.0M248.40 1110.2V1116.2M259.20 923V917.0M259.20 1110.2V1116.2M270.00 923V917.0M270.00 1110.2V1116.2M280.80 923V911.4M280.80 1110.2V1121.8M291.60 923V917.0M291.60 1110.2V1116.2M302.40 923V917.0M302.40 1110.2V1116.2M313.20 923V917.0M313.20 1110.2V1116.2M324.00 923V917.0M324.00 1110.2V1116.2M334.80 923V917.0M334.80 1110.2V1116.2M345.60 923V917.0M345.60 1110.2V1116.2M356.40 923V917.0M356.40 1110.2V1116.2M367.20 923V917.0M367.20 1110.2V1116.2M378.00 923V917.0M378.00 1110.2V1116.2M388.80 923V911.4M388.80 1110.2V1121.8M399.60 923V917.0M399.60 1110.2V1116.2M410.40 923V917.0M410.40 1110.2V1116.2M421.20 923V917.0M421.20 1110.2V1116.2M432.00 923V917.0M432.00 1110.2V1116.2M442.80 923V917.0M442.80 1110.2V1116.2M453.60 923V917.0M453.60 1110.2V1116.2M464.40 923V917.0M464.40 1110.2V1116.2M475.20 923V917.0M475.20 1110.2V1116.2M486.00 923V917.0M486.00 1110.2V1116.2M496.80 923V911.4M496.80 1110.2V1121.8M507.60 923V917.0M507.60 1110.2V1116.2M518.40 923V917.0M518.40 1110.2V1116.2M529.20 923V917.0M529.20 1110.2V1116.2M540.00 923V917.0M540.00 1110.2V1116.2M550.80 923V917.0M550.80 1110.2V1116.2M561.60 923V917.0M561.60 1110.2V1116.2M572.40 923V917.0M572.40 1110.2V1116.2M583.20 923V917.0M583.20 1110.2V1116.2M594.00 923V917.0M594.00 1110.2V1116.2M604.80 923V911.4M604.80 1110.2V1121.8M615.60 923V917.0M615.60 1110.2V1116.2M626.40 923V917.0M626.40 1110.2V1116.2M637.20 923V917.0M637.20 1110.2V1116.2M648.00 923V917.0M648.00 1110.2V1116.2M658.80 923V917.0M658.80 1110.2V1116.2M669.60 923V917.0M669.60 1110.2V1116.2M680.40 923V917.0M680.40 1110.2V1116.2M691.20 923V917.0M691.20 1110.2V1116.2M702.00 923V917.0M702.00 1110.2V1116.2M712.80 923V911.4M712.80 1110.2V1121.8M723.60 923V917.0M723.60 1110.2V1116.2M734.40 923V917.0M734.40 1110.2V1116.2M745.20 923V917.0M745.20 1110.2V1116.2M756.00 923V917.0M756.00 1110.2V1116.2M766.80 923V917.0M766.80 1110.2V1116.2M777.60 923V917.0M777.60 1110.2V1116.2M788.40 923V917.0M788.40 1110.2V1116.2M799.20 923V917.0M799.20 1110.2V1116.2M810.00 923V917.0M810.00 1110.2V1116.2M820.80 923V911.4M820.80 1110.2V1121.8M831.60 923V917.0M831.60 1110.2V1116.2M842.40 923V917.0M842.40 1110.2V1116.2M853.20 923V917.0M853.20 1110.2V1116.2M864.00 923V917.0M864.00 1110.2V1116.2M874.80 923V917.0M874.80 1110.2V1116.2M885.60 923V917.0M885.60 1110.2V1116.2M896.40 923V917.0M896.40 1110.2V1116.2M907.20 923V917.0M907.20 1110.2V1116.2M918.00 923V917.0M918.00 1110.2V1116.2M928.80 923V911.4M928.80 1110.2V1121.8M939.60 923V917.0M939.60 1110.2V1116.2M950.40 923V917.0M950.40 1110.2V1116.2M961.20 923V917.0M961.20 1110.2V1116.2M972.00 923V917.0M972.00 1110.2V1116.2M982.80 923V917.0M982.80 1110.2V1116.2M993.60 923V917.0M993.60 1110.2V1116.2M1004.40 923V917.0M1004.40 1110.2V1116.2M1015.20 923V917.0M1015.20 1110.2V1116.2M1026.00 923V917.0M1026.00 1110.2V1116.2M1036.80 923V911.4M1036.80 1110.2V1121.8" stroke="#000" stroke-width="1.1" fill="none"/>
<path d="M172.8 1110.20H161.2M172.8 1099.80H166.8M172.8 1089.40H166.8M172.8 1079.00H166.8M172.8 1068.60H161.2M172.8 1058.20H166.8M172.8 1047.80H166.8M172.8 1037.40H166.8M172.8 1027.00H161.2M172.8 1016.60H166.8M172.8 1006.20H166.8M172.8 995.80H166.8M172.8 985.40H161.2M172.8 975.00H166.8M172.8 964.60H166.8M172.8 954.20H166.8M172.8 943.80H161.2M172.8 933.40H166.8M172.8 923.00H166.8" stroke="#000" stroke-width="1.1" fill="none"/>
<text x="149.3" y="1118.9" text-anchor="end" class="a">41.2</text>
<text x="149.3" y="1077.3" text-anchor="end" class="a">41.6</text>
<text x="149.3" y="1035.7" text-anchor="end" class="a">42.0</text>
<text x="149.3" y="994.1" text-anchor="end" class="a">42.4</text>
<text x="149.3" y="952.5" text-anchor="end" class="a">42.8</text>
<path d="M1036.8 1110.20H1048.4M1036.8 1099.80H1042.8M1036.8 1089.40H1042.8M1036.8 1079.00H1042.8M1036.8 1068.60H1048.4M1036.8 1058.20H1042.8M1036.8 1047.80H1042.8M1036.8 1037.40H1042.8M1036.8 1027.00H1048.4M1036.8 1016.60H1042.8M1036.8 1006.20H1042.8M1036.8 995.80H1042.8M1036.8 985.40H1048.4M1036.8 975.00H1042.8M1036.8 964.60H1042.8M1036.8 954.20H1042.8M1036.8 943.80H1048.4M1036.8 933.40H1042.8M1036.8 923.00H1042.8" stroke="#000" stroke-width="1.1" fill="none"/>
<text x="0" y="0" transform="translate(75.9,1016.6) rotate(-90)" text-anchor="middle" class="l" fill="#000">Signal [K]</text>
<g clip-path="url(#c5)"><polyline points="172.8,1237.2 173.2,1251.2 173.7,1237.8 174.1,1251.7 174.6,1237.7 175.0,1251.5 175.5,1234.7 175.9,1253.7 176.4,1236.2 176.8,1252.4 177.3,1234.1 177.7,1252.3 178.2,1236.4 178.6,1252.2 179.1,1235.8 179.5,1251.6 180.0,1237.1 180.4,1251.4 180.9,1237.3 181.3,1251.5 181.8,1235.5 182.2,1249.9 182.7,1236.5 183.1,1251.2 183.6,1233.6 184.0,1256.5 184.5,1236.3 184.9,1253.0 185.4,1234.0 185.8,1249.6 186.3,1232.6 186.7,1250.9 187.2,1237.6 187.6,1249.9 188.1,1236.2 188.5,1250.6 189.0,1237.3 189.4,1251.0 189.9,1237.7 190.3,1251.7 190.8,1236.8 191.2,1250.8 191.7,1237.6 192.1,1249.9 192.6,1232.9 193.0,1250.1 193.5,1234.4 193.9,1257.1 194.4,1236.3 194.8,1249.7 195.3,1235.5 195.7,1249.7 196.2,1235.9 196.6,1250.9 197.1,1236.6 197.5,1249.8 198.0,1234.1 198.4,1252.5 198.9,1234.1 199.3,1260.5 199.8,1235.4 200.2,1250.3 200.7,1232.1 201.1,1251.9 201.6,1235.7 202.0,1250.2 202.5,1235.8 202.9,1254.6 203.4,1236.3 203.8,1249.7 204.3,1234.9 204.7,1255.8 205.2,1235.3 205.6,1252.0 206.1,1231.7 206.5,1250.0 207.0,1237.0 207.4,1255.3 207.9,1236.3 208.3,1251.3 208.8,1237.9 209.2,1254.2 209.7,1236.0 210.1,1249.8 210.6,1236.1 211.0,1252.5 211.5,1237.5 211.9,1250.4 212.4,1234.7 212.8,1250.1 213.3,1236.0 213.7,1252.1 214.2,1234.8 214.6,1249.6 215.1,1234.7 215.5,1250.6 216.0,1236.6 216.4,1251.4 216.9,1237.2 217.3,1254.0 217.8,1233.9 218.2,1254.6 218.7,1236.8 219.1,1253.6 219.6,1237.6 220.0,1250.1 220.5,1235.2 220.9,1252.7 221.4,1235.4 221.8,1253.2 222.3,1235.4 222.7,1250.7 223.2,1235.0 223.6,1251.1 224.1,1236.3 224.5,1250.0 225.0,1235.4 225.4,1249.7 225.9,1236.4 226.3,1250.5 226.8,1234.3 227.2,1250.1 227.7,1236.5 228.1,1252.2 228.6,1234.5 229.0,1251.2 229.5,1236.1 229.9,1250.1 230.4,1235.6 230.8,1252.2 231.3,1236.3 231.7,1258.1 232.2,1234.5 232.6,1254.9 233.1,1235.4 233.5,1250.6 234.0,1236.1 234.4,1250.6 234.9,1236.9 235.3,1255.8 235.8,1237.0 236.2,1250.2 236.7,1233.3 237.1,1254.3 237.6,1234.4 238.0,1251.8 238.5,1236.3 238.9,1253.9 239.4,1238.0 239.8,1252.9 240.3,1231.9 240.7,1249.7 241.2,1236.4 241.6,1254.2 242.1,1236.9 242.5,1250.6 243.0,1235.9 243.4,1249.8 243.9,1235.7 244.3,1251.3 244.8,1237.5 245.2,1252.6 245.7,1235.0 246.1,1249.8 246.6,1234.6 247.0,1250.3 247.5,1235.7 247.9,1250.2 248.4,1236.8 248.8,1252.8 249.3,1237.5 249.7,1251.1 250.2,1235.8 250.6,1251.8 251.1,1236.0 251.5,1251.5 252.0,1238.0 252.4,1253.9 252.9,1234.0 253.3,1255.5 253.8,1234.9 254.2,1251.8 254.7,1230.5 255.1,1250.2 255.6,1236.4 256.0,1253.1 256.5,1235.6 256.9,1249.9 257.4,1236.9 257.8,1252.8 258.3,1236.6 258.7,1250.5 259.2,1234.5 259.6,1250.0 260.1,1236.7 260.5,1253.1 261.0,1237.5 261.4,1251.3 261.9,1235.3 262.3,1249.7 262.8,1237.6 263.2,1249.7 263.7,1235.9 264.1,1254.1 264.6,1237.7 265.0,1251.8 265.5,1237.2 265.9,1253.4 266.4,1236.4 266.8,1252.9 267.3,1236.2 267.7,1249.6 268.2,1236.1 268.6,1251.2 269.1,1237.3 269.5,1251.0 270.0,1234.8 270.4,1250.1 270.9,1236.8 271.3,1251.7 271.8,1232.7 272.2,1250.5 272.7,1236.4 273.1,1249.6 273.6,1235.4 274.0,1250.7 274.5,1234.1 274.9,1251.4 275.4,1236.0 275.8,1252.1 276.3,1237.6 276.7,1251.4 277.2,1236.6 277.6,1250.9 278.1,1237.5 278.5,1254.5 279.0,1235.2 279.4,1252.5 279.9,1233.7 280.3,1252.6 280.8,1237.5 281.2,1250.3 281.7,1236.0 282.1,1250.5 282.6,1236.8 283.0,1255.3 283.5,1233.9 283.9,1251.0 284.4,1236.8 284.8,1250.1 285.3,1237.4 285.7,1259.0 286.2,1237.3 286.6,1252.9 287.1,1237.1 287.5,1253.3 288.0,1237.3 288.4,1251.3 288.9,1237.9 289.3,1253.6 289.8,1235.0 290.2,1252.2 290.7,1233.5 291.1,1253.0 291.6,1234.9 292.0,1251.2 292.5,1222.9 292.9,1249.6 293.4,1236.0 293.8,1252.5 294.3,1223.1 294.7,1251.8 295.2,1237.0 295.6,1250.5 296.1,1237.0 296.5,1253.0 297.0,1237.9 297.4,1250.4 297.9,1231.8 298.3,1256.3 298.8,1235.2 299.2,1252.1 299.7,1232.9 300.1,1252.2 300.6,1236.8 301.0,1250.6 301.5,1235.9 301.9,1254.4 302.4,1235.6 302.8,1252.9 303.3,1237.8 303.7,1252.1 304.2,1235.2 304.6,1250.7 305.1,1235.0 305.5,1252.9 306.0,1235.6 306.4,1253.3 306.9,1237.2 307.3,1249.7 307.8,1234.2 308.2,1252.5 308.7,1232.9 309.1,1250.0 309.6,1235.0 310.0,1250.5 310.5,1234.5 310.9,1253.8 311.4,1236.2 311.8,1252.9 312.3,1235.8 312.7,1261.9 313.2,1235.1 313.6,1249.9 314.1,1236.1 314.5,1255.2 315.0,1236.1 315.4,1250.4 315.9,1234.2 316.3,1253.9 316.8,1233.6 317.2,1252.0 317.7,1237.9 318.1,1254.0 318.6,1235.0 319.0,1256.3 319.5,1234.5 319.9,1250.0 320.4,1235.8 320.8,1250.1 321.3,1233.5 321.7,1253.0 322.2,1237.9 322.6,1260.6 323.1,1235.4 323.5,1250.3 324.0,1236.9 324.4,1250.5 324.9,1236.3 325.3,1249.8 325.8,1236.3 326.2,1252.6 326.7,1236.8 327.1,1251.2 327.6,1235.2 328.0,1252.8 328.5,1235.8 328.9,1255.2 329.4,1237.0 329.8,1251.1 330.3,1238.0 330.7,1256.2 331.2,1237.2 331.6,1249.6 332.1,1237.5 332.5,1249.7 333.0,1237.5 333.4,1250.1 333.9,1237.9 334.3,1252.8 334.8,1237.6 335.2,1251.4 335.7,1232.7 336.1,1249.7 336.6,1237.4 337.0,1251.9 337.5,1237.4 337.9,1269.0 338.4,1236.7 338.8,1249.9 339.3,1237.3 339.7,1251.0 340.2,1237.7 340.6,1252.7 341.1,1237.1 341.5,1250.5 342.0,1236.3 342.4,1251.1 342.9,1235.2 343.3,1250.7 343.8,1237.9 344.2,1251.8 344.7,1235.7 345.1,1250.5 345.6,1237.7 346.0,1255.2 346.5,1235.9 346.9,1250.4 347.4,1238.0 347.8,1252.8 348.3,1236.5 348.7,1250.6 349.2,1235.7 349.6,1250.2 350.1,1235.1 350.5,1253.0 351.0,1237.9 351.4,1250.7 351.9,1235.5 352.3,1250.4 352.8,1236.0 353.2,1251.7 353.7,1235.9 354.1,1251.8 354.6,1237.7 355.0,1258.2 355.5,1238.0 355.9,1256.2 356.4,1236.4 356.8,1252.1 357.3,1236.6 357.7,1251.1 358.2,1235.3 358.6,1250.9 359.1,1231.8 359.5,1252.6 360.0,1237.8 360.4,1250.4 360.9,1234.9 361.3,1249.9 361.8,1235.8 362.2,1252.9 362.7,1236.0 363.1,1251.0 363.6,1230.6 364.0,1255.3 364.5,1235.0 364.9,1250.3 365.4,1230.5 365.8,1254.0 366.3,1236.6 366.7,1249.8 367.2,1237.7 367.6,1250.2 368.1,1237.4 368.5,1253.5 369.0,1232.6 369.4,1252.4 369.9,1236.4 370.3,1250.8 370.8,1236.4 371.2,1249.6 371.7,1235.4 372.1,1250.2 372.6,1236.0 373.0,1250.8 373.5,1234.2 373.9,1253.8 374.4,1232.5 374.8,1250.8 375.3,1235.4 375.7,1250.0 376.2,1237.4 376.6,1251.9 377.1,1236.3 377.5,1253.1 378.0,1237.3 378.4,1250.4 378.9,1236.0 379.3,1254.5 379.8,1234.7 380.2,1253.1 380.7,1236.8 381.1,1255.0 381.6,1233.2 382.0,1252.8 382.5,1237.0 382.9,1251.7 383.4,1236.9 383.8,1251.3 384.3,1230.4 384.7,1253.4 385.2,1237.7 385.6,1252.5 386.1,1237.2 386.5,1261.8 387.0,1233.8 387.4,1251.5 387.9,1237.2 388.3,1252.7 388.8,1235.6 389.2,1250.0 389.7,1236.1 390.1,1249.9 390.6,1233.8 391.0,1251.6 391.5,1237.1 391.9,1255.8 392.4,1233.8 392.8,1251.6 393.3,1235.0 393.7,1250.3 394.2,1237.5 394.6,1250.0 395.1,1237.0 395.5,1251.4 396.0,1236.8 396.4,1250.6 396.9,1237.2 397.3,1255.8 397.8,1233.8 398.2,1254.5 398.7,1232.3 399.1,1252.3 399.6,1235.2 400.0,1250.6 400.5,1235.1 400.9,1253.1 401.4,1232.0 401.8,1254.6 402.3,1234.9 402.7,1271.5 403.2,1232.0 403.6,1252.1 404.1,1232.0 404.5,1252.5 405.0,1233.4 405.4,1256.2 405.9,1230.9 406.3,1251.1 406.8,1233.1 407.2,1271.8 407.7,1236.5 408.1,1255.0 408.6,1221.3 409.0,1256.1 409.5,1230.4 409.9,1252.7 410.4,1232.5 410.8,1250.7 411.3,1228.5 411.7,1252.6 412.2,1198.4 412.6,1251.8 413.1,1236.2 413.5,1253.1 414.0,1232.4 414.4,1256.4 414.9,1235.5 415.3,1251.7 415.8,1229.0 416.2,1256.6 416.7,1236.6 417.1,1255.5 417.6,1234.7 418.0,1253.2 418.5,1232.9 418.9,1256.8 419.4,1236.1 419.8,1253.9 420.3,1230.6 420.7,1263.9 421.2,1233.7 421.6,1262.6 422.1,1233.5 422.5,1268.0 423.0,1227.8 423.4,1256.1 423.9,1235.7 424.3,1259.3 424.8,1228.0 425.2,1252.1 425.7,1229.7 426.1,1270.4 426.6,1232.7 427.0,1262.4 427.5,1233.4 427.9,1256.3 428.4,1232.0 428.8,1260.5 429.3,1235.0 429.7,1259.3 430.2,1232.9 430.6,1260.1 431.1,1233.3 431.5,1283.6 432.0,1221.2 432.4,1258.6 432.9,1233.9 433.3,1265.6 433.8,1233.1 434.2,1252.7 434.7,1217.0 435.1,1264.2 435.6,1234.2 436.0,1258.7 436.5,1228.1 436.9,1259.0 437.4,1224.7 437.8,1253.2 438.3,1232.0 438.7,1259.1 439.2,1225.7 439.6,1255.1 440.1,1229.2 440.5,1259.3 441.0,1221.1 441.4,1253.8 441.9,1220.6 442.3,1271.2 442.8,1226.4 443.2,1260.7 443.7,1226.0 444.1,1258.1 444.6,1235.5 445.0,1253.2 445.5,1218.8 445.9,1254.7 446.4,1202.0 446.8,1266.8 447.3,1234.5 447.7,1252.6 448.2,1231.6 448.6,1253.4 449.1,1234.7 449.5,1288.8 450.0,1234.3 450.4,1261.8 450.9,1231.6 451.3,1262.2 451.8,1278.0 452.2,1281.5 452.7,1229.0 453.1,1264.0 453.6,1226.0 454.0,1261.4 454.5,1226.7 454.9,1255.6 455.4,1230.5 455.8,1258.7 456.3,1231.7 456.7,1258.3 457.2,1228.0 457.6,1265.9 458.1,1233.1 458.5,1255.0 459.0,1222.5 459.4,1253.3 459.9,1229.2 460.3,1256.0 460.8,1227.3 461.2,1260.3 461.7,1229.5 462.1,1163.7 462.6,1231.1 463.0,1269.4 463.5,1222.2 463.9,1258.7 464.4,1230.1 464.8,1254.9 465.3,1217.4 465.7,1258.6 466.2,1214.4 466.6,1269.8 467.1,1232.8 467.5,1255.0 468.0,1284.0 468.4,1252.7 468.9,1231.6 469.3,1253.8 469.8,1229.1 470.2,1259.7 470.7,1224.2 471.1,1292.9 471.6,1234.7 472.0,1255.0 472.5,1231.9 472.9,1253.1 473.4,1222.3 473.8,1253.0 474.3,1215.5 474.7,1253.1 475.2,1228.9 475.6,1264.9 476.1,1224.2 476.5,1254.0 477.0,1229.1 477.4,1283.1 477.9,1228.0 478.3,1254.8 478.8,1230.1 479.2,1255.1 479.7,1235.3 480.1,1253.8 480.6,1230.4 481.0,1254.3 481.5,1234.0 481.9,1254.5 482.4,1167.2 482.8,1256.5 483.3,1227.4 483.7,1273.8 484.2,1273.0 484.6,1258.4 485.1,1231.0 485.5,1284.1 486.0,1229.0 486.4,1261.2 486.9,1225.4 487.3,1268.0 487.8,1235.1 488.2,1254.7 488.7,1230.7 489.1,1257.3 489.6,1233.8 490.0,1253.1 490.5,1214.8 490.9,1260.9 491.4,1233.4 491.8,1263.6 492.3,1206.9 492.7,1268.5 493.2,1223.4 493.6,1256.5 494.1,1217.6 494.5,1257.3 495.0,1232.0 495.4,1259.9 495.9,1233.0 496.3,1280.0 496.8,1235.0 497.2,1254.5 497.7,1222.6 498.1,1261.7 498.6,1206.0 499.0,1176.0 499.5,1230.7 499.9,1255.3 500.4,1222.2 500.8,1281.1 501.3,1235.3 501.7,1256.8 502.2,1231.7 502.6,1298.3 503.1,1228.4 503.5,1294.3 504.0,1232.8 504.4,1313.5 504.9,1229.6 505.3,1253.3 505.8,1222.9 506.2,1260.4 506.7,1228.8 507.1,1255.1 507.6,1234.7 508.0,1269.0 508.5,1204.4 508.9,1252.6 509.4,1224.5 509.8,1266.0 510.3,1235.2 510.7,1253.7 511.2,1220.3 511.6,1277.0 512.1,1234.5 512.5,1282.6 513.0,1230.0 513.4,1271.4 513.9,1224.3 514.3,1262.1 514.8,1232.8 515.2,1268.5 515.7,1235.4 516.1,1252.2 516.6,1212.8 517.0,1262.8 517.5,1228.2 517.9,1271.9 518.4,1198.7 518.8,1186.0 519.3,1221.4 519.7,1252.3 520.2,1231.9 520.6,1257.4 521.1,1219.6 521.5,1258.0 522.0,1234.5 522.4,1259.1 522.9,1234.7 523.3,1275.3 523.8,1234.4 524.2,1260.1 524.7,1208.9 525.1,1258.0 525.6,1235.4 526.0,1267.8 526.5,1226.2 526.9,1260.7 527.4,1233.7 527.8,1253.4 528.3,1223.6 528.7,1261.0 529.2,1231.4 529.6,1253.0 530.1,1230.6 530.5,1263.7 531.0,1227.9 531.4,1254.0 531.9,1230.5 532.3,1262.6 532.8,1222.5 533.2,1252.8 533.7,1199.8 534.1,1256.5 534.6,1232.6 535.0,1253.6 535.5,1209.3 535.9,1287.0 536.4,1230.0 536.8,1252.7 537.3,1234.6 537.7,1292.8 538.2,1234.7 538.6,1255.6 539.1,1178.0 539.5,1267.9 540.0,1231.9 540.4,1287.5 540.9,1216.9 541.3,1257.0 541.8,1231.7 542.2,1253.3 542.7,1217.8 543.1,1258.2 543.6,1211.9 544.0,1257.1 544.5,1233.0 544.9,1254.8 545.4,1223.1 545.8,1260.7 546.3,1233.5 546.7,1263.9 547.2,1234.3 547.6,1255.3 548.1,1234.4 548.5,1258.3 549.0,1220.4 549.4,1265.4 549.9,1227.6 550.3,1253.5 550.8,1220.0 551.2,1301.3 551.7,1215.2 552.1,1264.2 552.6,1231.2 553.0,1260.2 553.5,1226.3 553.9,1256.5 554.4,1230.9 554.8,1252.8 555.3,1212.8 555.7,1271.5 556.2,1233.0 556.6,1259.8 557.1,1233.3 557.5,1257.9 558.0,1231.0 558.4,1259.9 558.9,1234.6 559.3,1270.1 559.8,1230.1 560.2,1254.4 560.7,1217.7 561.1,1261.2 561.6,1227.6 562.0,1260.0 562.5,1232.8 562.9,1273.9 563.4,1225.2 563.8,1252.3 564.3,1222.5 564.7,1278.3 565.2,1229.4 565.6,1261.5 566.1,1224.0 566.5,1265.3 567.0,1232.8 567.4,1258.8 567.9,1223.1 568.3,1252.1 568.8,1229.5 569.2,1260.4 569.7,1230.2 570.1,1266.5 570.6,1234.3 571.0,1292.1 571.5,1219.2 571.9,1259.3 572.4,1227.6 572.8,1254.8 573.3,1230.6 573.7,1273.0 574.2,1231.4 574.6,1264.6 575.1,1233.5 575.5,1260.6 576.0,1231.3 576.4,1266.4 576.9,1226.4 577.3,1270.8 577.8,1235.2 578.2,1255.0 578.7,1207.1 579.1,1260.1 579.6,1206.2 580.0,1265.3 580.5,1222.0 580.9,1262.6 581.4,1204.8 581.8,1257.3 582.3,1234.5 582.7,1260.2 583.2,1223.8 583.6,1255.5 584.1,1232.2 584.5,1260.3 585.0,1230.3 585.4,1254.5 585.9,1228.0 586.3,1258.9 586.8,1230.6 587.2,1256.9 587.7,1171.2 588.1,1267.8 588.6,1224.9 589.0,1296.0 589.5,1233.7 589.9,1261.0 590.4,1227.5 590.8,1256.6 591.3,1227.7 591.7,1257.3 592.2,1225.5 592.6,1263.8 593.1,1227.5 593.5,1252.4 594.0,1211.9 594.4,1261.4 594.9,1230.5 595.3,1267.9 595.8,1205.6 596.2,1262.4 596.7,1225.8 597.1,1260.4 597.6,1232.7 598.0,1262.0 598.5,1228.1 598.9,1272.2 599.4,1206.6 599.8,1252.3 600.3,1231.7 600.7,1273.7 601.2,1233.1 601.6,1255.7 602.1,1235.5 602.5,1267.3 603.0,1214.1 603.4,1262.4 603.9,1220.6 604.3,1257.0 604.8,1230.8 605.2,1258.1 605.7,1226.9 606.1,1258.0 606.6,1228.2 607.0,1262.4 607.5,1223.7 607.9,1253.3 608.4,1235.2 608.8,1259.1 609.3,1216.1 609.7,1264.4 610.2,1232.7 610.6,1278.7 611.1,1300.0 611.5,1266.3 612.0,1199.0 612.4,1259.5 612.9,1232.7 613.3,1257.5 613.8,1231.3 614.2,1266.4 614.7,1201.1 615.1,1254.1 615.6,1226.1 616.0,1256.9 616.5,1233.4 616.9,1257.7 617.4,1231.1 617.8,1257.6 618.3,1228.5 618.7,1259.9 619.2,1227.1 619.6,1269.7 620.1,1233.9 620.5,1253.1 621.0,1234.0 621.4,1266.7 621.9,1226.9 622.3,1270.6 622.8,1234.2 623.2,1261.5 623.7,1234.0 624.1,1268.5 624.6,1230.9 625.0,1258.8 625.5,1233.1 625.9,1255.2 626.4,1215.2 626.8,1256.0 627.3,1226.4 627.7,1275.3 628.2,1234.5 628.6,1257.6 629.1,1226.5 629.5,1267.2 630.0,1229.0 630.4,1261.4 630.9,1235.3 631.3,1257.9 631.8,1235.0 632.2,1283.2 632.7,1230.7 633.1,1254.3 633.6,1232.2 634.0,1255.7 634.5,1227.9 634.9,1252.6 635.4,1226.7 635.8,1281.3 636.3,1222.3 636.7,1258.9 637.2,1232.6 637.6,1258.6 638.1,1235.4 638.5,1267.8 639.0,1232.3 639.4,1255.1 639.9,1187.0 640.3,1274.9 640.8,1209.0 641.2,1256.7 641.7,1226.0 642.1,1252.9 642.6,1210.1 643.0,1253.9 643.5,1214.5 643.9,1255.4 644.4,1230.4 644.8,1254.1 645.3,1231.7 645.7,1257.6 646.2,1229.6 646.6,1256.6 647.1,1232.8 647.5,1255.2 648.0,1222.6 648.4,1254.9 648.9,1206.4 649.3,1268.0 649.8,1219.4 650.2,1308.2 650.7,1234.6 651.1,1260.7 651.6,1227.6 652.0,1256.3 652.5,1202.5 652.9,1256.4 653.4,1233.3 653.8,1252.6 654.3,1232.8 654.7,1257.5 655.2,1209.5 655.6,1257.9 656.1,1225.4 656.5,1252.6 657.0,1234.8 657.4,1256.2 657.9,1229.1 658.3,1253.0 658.8,1221.2 659.2,1258.4 659.7,1226.8 660.1,1259.6 660.6,1229.8 661.0,1261.3 661.5,1192.1 661.9,1278.1 662.4,1230.0 662.8,1255.2 663.3,1227.2 663.7,1255.8 664.2,1226.1 664.6,1267.3 665.1,1223.2 665.5,1265.7 666.0,1231.5 666.4,1256.0 666.9,1226.8 667.3,1281.6 667.8,1234.4 668.2,1260.5 668.7,1209.4 669.1,1256.4 669.6,1231.7 670.0,1261.0 670.5,1231.7 670.9,1262.1 671.4,1211.5 671.8,1280.9 672.3,1184.9 672.7,1274.1 673.2,1207.8 673.6,1273.9 674.1,1231.8 674.5,1268.2 675.0,1228.5 675.4,1253.7 675.9,1311.0 676.3,1255.6 676.8,1232.5 677.2,1263.3 677.7,1232.3 678.1,1274.0 678.6,1233.5 679.0,1272.4 679.5,1223.1 679.9,1302.8 680.4,1219.9 680.8,1252.4 681.3,1221.3 681.7,1254.0 682.2,1234.9 682.6,1252.1 683.1,1225.6 683.5,1265.6 684.0,1227.5 684.4,1255.6 684.9,1226.6 685.3,1262.8 685.8,1228.8 686.2,1260.4 686.7,1234.6 687.1,1270.6 687.6,1235.3 688.0,1259.9 688.5,1229.6 688.9,1272.0 689.4,1213.9 689.8,1260.9 690.3,1219.5 690.7,1264.8 691.2,1227.5 691.6,1286.4 692.1,1230.7 692.5,1266.3 693.0,1232.1 693.4,1255.4 693.9,1231.1 694.3,1268.8 694.8,1234.1 695.2,1261.9 695.7,1232.5 696.1,1253.6 696.6,1211.4 697.0,1183.0 697.5,1231.9 697.9,1264.0 698.4,1233.3 698.8,1252.4 699.3,1235.3 699.7,1260.0 700.2,1228.2 700.6,1254.9 701.1,1229.5 701.5,1273.7 702.0,1234.6 702.4,1257.3 702.9,1214.1 703.3,1279.1 703.8,1227.1 704.2,1267.6 704.7,1233.3 705.1,1263.8 705.6,1232.9 706.0,1270.5 706.5,1231.5 706.9,1277.2 707.4,1234.0 707.8,1252.8 708.3,1234.6 708.7,1275.2 709.2,1225.7 709.6,1254.6 710.1,1183.3 710.5,1255.1 711.0,1235.1 711.4,1255.1 711.9,1200.7 712.3,1260.6 712.8,1212.6 713.2,1252.6 713.7,1229.5 714.1,1255.5 714.6,1225.5 715.0,1253.6 715.5,1198.3 715.9,1259.1 716.4,1230.7 716.8,1284.3 717.3,1224.9 717.7,1257.2 718.2,1219.3 718.6,1264.7 719.1,1234.8 719.5,1263.4 720.0,1231.5 720.4,1253.4 720.9,1224.8 721.3,1259.8 721.8,1309.0 722.2,1252.6 722.7,1225.2 723.1,1283.7 723.6,1222.7 724.0,1252.1 724.5,1225.3 724.9,1257.5 725.4,1224.1 725.8,1260.7 726.3,1218.0 726.7,1269.7 727.2,1229.0 727.6,1256.4 728.1,1228.6 728.5,1256.3 729.0,1227.8 729.4,1263.6 729.9,1222.2 730.3,1253.9 730.8,1212.4 731.2,1253.0 731.7,1235.1 732.1,1263.4 732.6,1226.2 733.0,1257.8 733.5,1235.5 733.9,1252.9 734.4,1231.5 734.8,1189.0 735.3,1216.2 735.7,1266.1 736.2,1224.2 736.6,1261.9 737.1,1228.7 737.5,1255.3 738.0,1222.4 738.4,1263.3 738.9,1228.3 739.3,1277.3 739.8,1223.4 740.2,1263.5 740.7,1230.2 741.1,1269.0 741.6,1228.2 742.0,1280.0 742.5,1235.2 742.9,1263.3 743.4,1215.4 743.8,1258.6 744.3,1227.5 744.7,1255.2 745.2,1232.7 745.6,1262.5 746.1,1233.1 746.5,1262.3 747.0,1235.0 747.4,1252.4 747.9,1224.7 748.3,1259.1 748.8,1220.1 749.2,1253.1 749.7,1231.2 750.1,1252.2 750.6,1229.5 751.0,1257.0 751.5,1222.7 751.9,1253.2 752.4,1216.8 752.8,1257.3 753.3,1231.2 753.7,1285.0 754.2,1203.0 754.6,1258.2 755.1,1220.8 755.5,1277.0 756.0,1223.6 756.4,1261.3 756.9,1205.0 757.3,1279.0 757.8,1213.2 758.2,1260.8 758.7,1208.6 759.1,1254.4 759.6,1189.8 760.0,1260.8 760.5,1233.7 760.9,1253.1 761.4,1231.3 761.8,1254.5 762.3,1226.1 762.7,1252.7 763.2,1220.8 763.6,1254.0 764.1,1230.8 764.5,1256.1 765.0,1230.2 765.4,1255.9 765.9,1218.0 766.3,1252.4 766.8,1233.4 767.2,1253.2 767.7,1224.1 768.1,1262.0 768.6,1227.6 769.0,1260.6 769.5,1234.3 769.9,1254.7 770.4,1235.6 770.8,1269.5 771.3,1188.2 771.7,1265.8 772.2,1212.5 772.6,1257.2 773.1,1225.7 773.5,1260.3 774.0,1233.7 774.4,1274.0 774.9,1228.6 775.3,1252.2 775.8,1282.0 776.2,1265.6 776.7,1232.4 777.1,1256.5 777.6,1234.4 778.0,1264.7 778.5,1233.0 778.9,1252.0 779.4,1235.1 779.8,1254.0 780.3,1218.5 780.7,1274.6 781.2,1219.1 781.6,1256.1 782.1,1220.0 782.5,1256.1 783.0,1220.5 783.4,1253.2 783.9,1206.8 784.3,1254.1 784.8,1212.6 785.2,1264.6 785.7,1232.4 786.1,1268.3 786.6,1232.9 787.0,1258.4 787.5,1220.6 787.9,1257.5 788.4,1228.0 788.8,1264.1 789.3,1220.0 789.7,1269.7 790.2,1231.5 790.6,1272.6 791.1,1232.7 791.5,1261.4 792.0,1216.8 792.4,1260.1 792.9,1227.8 793.3,1259.4 793.8,1225.6 794.2,1268.0 794.7,1230.8 795.1,1262.3 795.6,1228.5 796.0,1258.8 796.5,1219.1 796.9,1264.1 797.4,1232.6 797.8,1290.1 798.3,1233.1 798.7,1261.6 799.2,1230.8 799.6,1256.0 800.1,1233.1 800.5,1256.9 801.0,1223.8 801.4,1270.5 801.9,1227.4 802.3,1260.0 802.8,1233.9 803.2,1261.6 803.7,1222.5 804.1,1254.1 804.6,1233.9 805.0,1267.0 805.5,1215.0 805.9,1253.6 806.4,1234.2 806.8,1297.0 807.3,1232.2 807.7,1261.4 808.2,1228.7 808.6,1258.0 809.1,1209.4 809.5,1255.1 810.0,1233.6 810.4,1258.1 810.9,1228.8 811.3,1259.4 811.8,1233.4 812.2,1259.1 812.7,1228.2 813.1,1257.7 813.6,1201.7 814.0,1261.0 814.5,1229.9 814.9,1253.9 815.4,1210.5 815.8,1253.0 816.3,1224.1 816.7,1260.2 817.2,1235.2 817.6,1259.1 818.1,1292.0 818.5,1255.8 819.0,1206.5 819.4,1255.7 819.9,1231.8 820.3,1281.0 820.8,1213.3 821.2,1255.0 821.7,1233.5 822.1,1257.2 822.6,1215.8 823.0,1255.7 823.5,1231.0 823.9,1283.7 824.4,1206.2 824.8,1265.3 825.3,1233.5 825.7,1253.6 826.2,1229.8 826.6,1256.6 827.1,1221.2 827.5,1288.5 828.0,1230.1 828.4,1253.0 828.9,1212.7 829.3,1264.4 829.8,1233.6 830.2,1253.8 830.7,1229.9 831.1,1267.0 831.6,1234.6 832.0,1276.1 832.5,1221.7 832.9,1279.6 833.4,1230.8 833.8,1259.8 834.3,1229.7 834.7,1262.2 835.2,1223.6 835.6,1257.6 836.1,1234.5 836.5,1262.8 837.0,1221.0 837.4,1256.0 837.9,1229.4 838.3,1277.3 838.8,1216.7 839.2,1256.5 839.7,1234.1 840.1,1298.7 840.6,1224.5 841.0,1252.3 841.5,1231.0 841.9,1268.1 842.4,1231.7 842.8,1276.5 843.3,1228.8 843.7,1262.4 844.2,1228.9 844.6,1260.4 845.1,1233.6 845.5,1252.1 846.0,1228.3 846.4,1253.6 846.9,1228.4 847.3,1263.1 847.8,1218.3 848.2,1292.9 848.7,1228.2 849.1,1259.8 849.6,1234.2 850.0,1256.1 850.5,1233.5 850.9,1269.8 851.4,1226.6 851.8,1259.8 852.3,1235.4 852.7,1253.5 853.2,1226.5 853.6,1265.7 854.1,1229.4 854.5,1265.3 855.0,1177.0 855.4,1254.6 855.9,1234.6 856.3,1256.0 856.8,1233.6 857.2,1260.9 857.7,1202.6 858.1,1253.4 858.6,1219.1 859.0,1265.7 859.5,1228.2 859.9,1277.7 860.4,1230.7 860.8,1261.2 861.3,1234.7 861.7,1253.7 862.2,1216.6 862.6,1266.6 863.1,1228.5 863.5,1253.3 864.0,1222.5 864.4,1253.7 864.9,1232.1 865.3,1261.0 865.8,1225.7 866.2,1273.7 866.7,1234.3 867.1,1263.8 867.6,1235.0 868.0,1268.0 868.5,1234.1 868.9,1253.8 869.4,1222.8 869.8,1271.0 870.3,1208.5 870.7,1266.3 871.2,1206.4 871.6,1261.5 872.1,1222.4 872.5,1259.3 873.0,1233.8 873.4,1267.5 873.9,1233.2 874.3,1263.4 874.8,1233.5 875.2,1253.8 875.7,1231.7 876.1,1254.2 876.6,1212.4 877.0,1255.4 877.5,1234.8 877.9,1256.1 878.4,1235.3 878.8,1280.3 879.3,1226.4 879.7,1294.4 880.2,1231.4 880.6,1254.5 881.1,1224.1 881.5,1257.6 882.0,1232.4 882.4,1252.1 882.9,1232.8 883.3,1254.2 883.8,1224.9 884.2,1263.6 884.7,1217.2 885.1,1264.5 885.6,1234.7 886.0,1276.5 886.5,1232.5 886.9,1258.0 887.4,1223.7 887.8,1254.1 888.3,1226.4 888.7,1255.2 889.2,1232.2 889.6,1255.7 890.1,1282.0 890.5,1253.0 891.0,1214.6 891.4,1272.5 891.9,1232.8 892.3,1257.8 892.8,1230.2 893.2,1254.8 893.7,1222.3 894.1,1260.0 894.6,1222.0 895.0,1272.0 895.5,1227.7 895.9,1256.7 896.4,1234.6 896.8,1273.3 897.3,1219.9 897.7,1266.8 898.2,1229.4 898.6,1256.2 899.1,1230.2 899.5,1267.4 900.0,1235.6 900.4,1264.3 900.9,1219.7 901.3,1264.2 901.8,1222.4 902.2,1271.2 902.7,1229.0 903.1,1257.4 903.6,1217.4 904.0,1255.3 904.5,1202.3 904.9,1268.2 905.4,1228.7 905.8,1257.1 906.3,1227.2 906.7,1262.5 907.2,1226.4 907.6,1258.4 908.1,1224.7 908.5,1252.2 909.0,1230.3 909.4,1253.0 909.9,1220.4 910.3,1255.5 910.8,1233.2 911.2,1253.5 911.7,1225.3 912.1,1260.6 912.6,1232.9 913.0,1267.1 913.5,1231.4 913.9,1265.9 914.4,1221.8 914.8,1256.9 915.3,1231.8 915.7,1255.1 916.2,1225.3 916.6,1281.7 917.1,1190.6 917.5,1254.3 918.0,1223.4 918.4,1260.8 918.9,1224.1 919.3,1258.4 919.8,1224.3 920.2,1265.5 920.7,1226.3 921.1,1260.9 921.6,1226.8 922.0,1257.5 922.5,1233.6 922.9,1267.9 923.4,1211.2 923.8,1258.6 924.3,1231.7 924.7,1253.9 925.2,1235.4 925.6,1266.4 926.1,1216.5 926.5,1264.6 927.0,1232.3 927.4,1254.1 927.9,1233.1 928.3,1274.0 928.8,1222.3 929.2,1256.0 929.7,1229.7 930.1,1257.1 930.6,1225.2 931.0,1261.0 931.5,1232.6 931.9,1260.5 932.4,1231.7 932.8,1266.6 933.3,1226.0 933.7,1263.6 934.2,1230.3 934.6,1279.1 935.1,1222.5 935.5,1254.5 936.0,1221.6 936.4,1278.4 936.9,1234.8 937.3,1252.8 937.8,1228.2 938.2,1257.8 938.7,1232.3 939.1,1259.8 939.6,1234.8 940.0,1267.9 940.5,1229.1 940.9,1272.5 941.4,1233.0 941.8,1289.6 942.3,1231.3 942.7,1264.1 943.2,1228.6 943.6,1262.1 944.1,1230.4 944.5,1258.6 945.0,1227.8 945.4,1253.6 945.9,1225.9 946.3,1261.5 946.8,1233.2 947.2,1259.4 947.7,1233.0 948.1,1290.7 948.6,1220.4 949.0,1259.6 949.5,1202.0 949.9,1255.5 950.4,1221.9" stroke="#646464" stroke-width="1.1" fill="none"/></g>
<text x="604.8" y="1161.6" text-anchor="middle" class="t">Tmp−Bal</text>
<rect x="172.8" y="1139" width="864.0" height="187.2" fill="none" stroke="#000" stroke-width="2.2"/>
<path d="M172.80 1139V1127.4M172.80 1326.2V1337.8M183.60 1139V1133.0M183.60 1326.2V1332.2M194.40 1139V1133.0M194.40 1326.2V1332.2M205.20 1139V1133.0M205.20 1326.2V1332.2M216.00 1139V1133.0M216.00 1326.2V1332.2M226.80 1139V1133.0M226.80 1326.2V1332.2M237.60 1139V1133.0M237.60 1326.2V1332.2M248.40 1139V1133.0M248.40 1326.2V1332.2M259.20 1139V1133.0M259.20 1326.2V1332.2M270.00 1139V1133.0M270.00 1326.2V1332.2M280.80 1139V1127.4M280.80 1326.2V1337.8M291.60 1139V1133.0M291.60 1326.2V1332.2M302.40 1139V1133.0M302.40 1326.2V1332.2M313.20 1139V1133.0M313.20 1326.2V1332.2M324.00 1139V1133.0M324.00 1326.2V1332.2M334.80 1139V1133.0M334.80 1326.2V1332.2M345.60 1139V1133.0M345.60 1326.2V1332.2M356.40 1139V1133.0M356.40 1326.2V1332.2M367.20 1139V1133.0M367.20 1326.2V1332.2M378.00 1139V1133.0M378.00 1326.2V1332.2M388.80 1139V1127.4M388.80 1326.2V1337.8M399.60 1139V1133.0M399.60 1326.2V1332.2M410.40 1139V1133.0M410.40 1326.2V1332.2M421.20 1139V1133.0M421.20 1326.2V1332.2M432.00 1139V1133.0M432.00 1326.2V1332.2M442.80 1139V1133.0M442.80 1326.2V1332.2M453.60 1139V1133.0M453.60 1326.2V1332.2M464.40 1139V1133.0M464.40 1326.2V1332.2M475.20 1139V1133.0M475.20 1326.2V1332.2M486.00 1139V1133.0M486.00 1326.2V1332.2M496.80 1139V1127.4M496.80 1326.2V1337.8M507.60 1139V1133.0M507.60 1326.2V1332.2M518.40 1139V1133.0M518.40 1326.2V1332.2M529.20 1139V1133.0M529.20 1326.2V1332.2M540.00 1139V1133.0M540.00 1326.2V1332.2M550.80 1139V1133.0M550.80 1326.2V1332.2M561.60 1139V1133.0M561.60 1326.2V1332.2M572.40 1139V1133.0M572.40 1326.2V1332.2M583.20 1139V1133.0M583.20 1326.2V1332.2M594.00 1139V1133.0M594.00 1326.2V1332.2M604.80 1139V1127.4M604.80 1326.2V1337.8M615.60 1139V1133.0M615.60 1326.2V1332.2M626.40 1139V1133.0M626.40 1326.2V1332.2M637.20 1139V1133.0M637.20 1326.2V1332.2M648.00 1139V1133.0M648.00 1326.2V1332.2M658.80 1139V1133.0M658.80 1326.2V1332.2M669.60 1139V1133.0M669.60 1326.2V1332.2M680.40 1139V1133.0M680.40 1326.2V1332.2M691.20 1139V1133.0M691.20 1326.2V1332.2M702.00 1139V1133.0M702.00 1326.2V1332.2M712.80 1139V1127.4M712.80 1326.2V1337.8M723.60 1139V1133.0M723.60 1326.2V1332.2M734.40 1139V1133.0M734.40 1326.2V1332.2M745.20 1139V1133.0M745.20 1326.2V1332.2M756.00 1139V1133.0M756.00 1326.2V1332.2M766.80 1139V1133.0M766.80 1326.2V1332.2M777.60 1139V1133.0M777.60 1326.2V1332.2M788.40 1139V1133.0M788.40 1326.2V1332.2M799.20 1139V1133.0M799.20 1326.2V1332.2M810.00 1139V1133.0M810.00 1326.2V1332.2M820.80 1139V1127.4M820.80 1326.2V1337.8M831.60 1139V1133.0M831.60 1326.2V1332.2M842.40 1139V1133.0M842.40 1326.2V1332.2M853.20 1139V1133.0M853.20 1326.2V1332.2M864.00 1139V1133.0M864.00 1326.2V1332.2M874.80 1139V1133.0M874.80 1326.2V1332.2M885.60 1139V1133.0M885.60 1326.2V1332.2M896.40 1139V1133.0M896.40 1326.2V1332.2M907.20 1139V1133.0M907.20 1326.2V1332.2M918.00 1139V1133.0M918.00 1326.2V1332.2M928.80 1139V1127.4M928.80 1326.2V1337.8M939.60 1139V1133.0M939.60 1326.2V1332.2M950.40 1139V1133.0M950.40 1326.2V1332.2M961.20 1139V1133.0M961.20 1326.2V1332.2M972.00 1139V1133.0M972.00 1326.2V1332.2M982.80 1139V1133.0M982.80 1326.2V1332.2M993.60 1139V1133.0M993.60 1326.2V1332.2M1004.40 1139V1133.0M1004.40 1326.2V1332.2M1015.20 1139V1133.0M1015.20 1326.2V1332.2M1026.00 1139V1133.0M1026.00 1326.2V1332.2M1036.80 1139V1127.4M1036.80 1326.2V1337.8" stroke="#000" stroke-width="1.1" fill="none"/>
<path d="M172.8 1326.20H161.2M172.8 1322.04H166.8M172.8 1317.88H166.8M172.8 1313.72H166.8M172.8 1309.56H166.8M172.8 1305.40H166.8M172.8 1301.24H166.8M172.8 1297.08H166.8M172.8 1292.92H166.8M172.8 1288.76H166.8M172.8 1284.60H161.2M172.8 1280.44H166.8M172.8 1276.28H166.8M172.8 1272.12H166.8M172.8 1267.96H166.8M172.8 1263.80H166.8M172.8 1259.64H166.8M172.8 1255.48H166.8M172.8 1251.32H166.8M172.8 1247.16H166.8M172.8 1243.00H161.2M172.8 1238.84H166.8M172.8 1234.68H166.8M172.8 1230.52H166.8M172.8 1226.36H166.8M172.8 1222.20H166.8M172.8 1218.04H166.8M172.8 1213.88H166.8M172.8 1209.72H166.8M172.8 1205.56H166.8M172.8 1201.40H161.2M172.8 1197.24H166.8M172.8 1193.08H166.8M172.8 1188.92H166.8M172.8 1184.76H166.8M172.8 1180.60H166.8M172.8 1176.44H166.8M172.8 1172.28H166.8M172.8 1168.12H166.8M172.8 1163.96H166.8M172.8 1159.80H161.2M172.8 1155.64H166.8M172.8 1151.48H166.8M172.8 1147.32H166.8M172.8 1143.16H166.8M172.8 1139.00H166.8" stroke="#000" stroke-width="1.1" fill="none"/>
<text x="149.3" y="1334.9" text-anchor="end" class="a">−0.2</text>
<text x="149.3" y="1293.3" text-anchor="end" class="a">−0.1</text>
<text x="149.3" y="1251.7" text-anchor="end" class="a">0.0</text>
<text x="149.3" y="1210.1" text-anchor="end" class="a">0.1</text>
<text x="149.3" y="1168.5" text-anchor="end" class="a">0.2</text>
<path d="M1036.8 1326.20H1048.4M1036.8 1322.04H1042.8M1036.8 1317.88H1042.8M1036.8 1313.72H1042.8M1036.8 1309.56H1042.8M1036.8 1305.40H1042.8M1036.8 1301.24H1042.8M1036.8 1297.08H1042.8M1036.8 1292.92H1042.8M1036.8 1288.76H1042.8M1036.8 1284.60H1048.4M1036.8 1280.44H1042.8M1036.8 1276.28H1042.8M1036.8 1272.12H1042.8M1036.8 1267.96H1042.8M1036.8 1263.80H1042.8M1036.8 1259.64H1042.8M1036.8 1255.48H1042.8M1036.8 1251.32H1042.8M1036.8 1247.16H1042.8M1036.8 1243.00H1048.4M1036.8 1238.84H1042.8M1036.8 1234.68H1042.8M1036.8 1230.52H1042.8M1036.8 1226.36H1042.8M1036.8 1222.20H1042.8M1036.8 1218.04H1042.8M1036.8 1213.88H1042.8M1036.8 1209.72H1042.8M1036.8 1205.56H1042.8M1036.8 1201.40H1048.4M1036.8 1197.24H1042.8M1036.8 1193.08H1042.8M1036.8 1188.92H1042.8M1036.8 1184.76H1042.8M1036.8 1180.60H1042.8M1036.8 1176.44H1042.8M1036.8 1172.28H1042.8M1036.8 1168.12H1042.8M1036.8 1163.96H1042.8M1036.8 1159.80H1048.4M1036.8 1155.64H1042.8M1036.8 1151.48H1042.8M1036.8 1147.32H1042.8M1036.8 1143.16H1042.8M1036.8 1139.00H1042.8" stroke="#000" stroke-width="1.1" fill="none"/>
<text x="0" y="0" transform="translate(74.8,1232.6) rotate(-90)" text-anchor="middle" class="l" fill="#000">Signal [V]</text>
<g clip-path="url(#c6)"><polyline points="172.8,1439.3 173.3,1444.1 173.8,1440.6 174.3,1444.1 174.8,1439.3 175.3,1444.3 175.8,1439.6 176.3,1442.8 176.8,1438.7 177.3,1442.6 177.8,1438.2 178.3,1441.2 178.8,1437.8 179.3,1441.6 179.8,1438.3 180.3,1441.2 180.8,1437.5 181.3,1440.0 181.8,1436.3 182.3,1439.5 182.8,1436.4 183.3,1439.9 183.8,1436.2 184.3,1438.7 184.8,1434.6 185.3,1438.0 185.8,1433.1 186.3,1438.1 186.8,1433.7 187.3,1438.0 187.8,1434.0 188.3,1437.6 188.8,1433.1 189.3,1436.1 189.8,1431.8 190.3,1435.5 190.8,1432.0 191.3,1434.5 191.8,1431.3 192.3,1434.5 192.8,1430.5 193.3,1435.0 193.8,1430.7 194.3,1434.4 194.8,1430.7 195.3,1432.9 195.8,1429.5 196.3,1433.7 196.8,1429.4 197.3,1432.1 197.8,1428.6 198.3,1432.3 198.8,1427.3 199.3,1431.3 199.8,1427.7 200.3,1431.8 200.8,1427.4 201.3,1430.5 201.8,1426.6 202.3,1429.8 202.8,1426.9 203.3,1430.6 203.8,1426.4 204.3,1429.3 204.8,1425.6 205.3,1429.3 205.8,1425.0 206.3,1427.7 206.8,1423.9 207.3,1427.9 207.8,1424.0 208.3,1428.4 208.8,1422.7 209.3,1426.7 209.8,1423.8 210.3,1427.7 210.8,1423.0 211.3,1426.9 211.8,1422.1 212.3,1426.4 212.8,1421.9 213.3,1425.4 213.8,1422.3 214.3,1425.3 214.8,1422.2 215.3,1425.7 215.8,1421.1 216.3,1424.6 216.8,1421.0 217.3,1426.2 217.8,1421.2 218.3,1425.0 218.8,1421.5 219.3,1425.1 219.8,1420.8 220.3,1424.5 220.8,1419.5 221.3,1423.6 221.8,1419.9 222.3,1422.9 222.8,1417.9 223.3,1422.9 223.8,1418.8 224.3,1423.0 224.8,1418.6 225.3,1422.7 225.8,1417.8 226.3,1422.8 226.8,1418.4 227.3,1421.9 227.8,1418.4 228.3,1422.0 228.8,1417.3 229.3,1421.5 229.8,1417.9 230.3,1421.3 230.8,1417.3 231.3,1421.7 231.8,1417.1 232.3,1421.6 232.8,1417.3 233.3,1421.0 233.8,1416.6 234.3,1420.0 234.8,1416.5 235.3,1420.9 235.8,1416.9 236.3,1421.1 236.8,1416.1 237.3,1419.9 237.8,1416.2 238.3,1419.6 238.8,1415.0 239.3,1419.1 239.8,1415.6 240.3,1419.4 240.8,1414.9 241.3,1418.4 241.8,1414.3 242.3,1418.2 242.8,1415.2 243.3,1418.5 243.8,1415.2 244.3,1418.1 244.8,1414.1 245.3,1418.3 245.8,1415.5 246.3,1420.3 246.8,1415.1 247.3,1419.4 247.8,1415.8 248.3,1419.3 248.8,1414.1 249.3,1418.7 249.8,1416.2 250.3,1419.4 250.8,1415.7 251.3,1420.6 251.8,1415.7 252.3,1419.4 252.8,1416.0 253.3,1421.4 253.8,1416.1 254.3,1422.6 254.8,1416.7 255.3,1421.0 255.8,1417.0 256.3,1420.6 256.8,1416.6 257.3,1420.7 257.8,1417.4 258.3,1420.6 258.8,1416.9 259.3,1421.0 259.8,1417.1 260.3,1420.4 260.8,1415.8 261.3,1421.0 261.8,1417.9 262.3,1421.5 262.8,1416.8 263.3,1422.1 263.8,1418.1 264.3,1421.0 264.8,1417.8 265.3,1422.0 265.8,1418.6 266.3,1421.6 266.8,1418.1 267.3,1422.9 267.8,1419.2 268.3,1423.0 268.8,1418.1 269.3,1422.8 269.8,1419.9 270.3,1424.1 270.8,1419.9 271.3,1424.0 271.8,1419.7 272.3,1424.1 272.8,1420.0 273.3,1423.9 273.8,1420.8 274.3,1424.0 274.8,1420.9 275.3,1425.9 275.8,1420.9 276.3,1424.9 276.8,1421.8 277.3,1425.8 277.8,1420.3 278.3,1424.6 278.8,1421.6 279.3,1426.2 279.8,1422.5 280.3,1427.0 280.8,1422.7 281.3,1426.1 281.8,1422.7 282.3,1426.8 282.8,1422.2 283.3,1426.6 283.8,1423.5 284.3,1427.7 284.8,1423.3 285.3,1427.1 285.8,1423.7 286.3,1427.1 286.8,1423.8 287.3,1427.1 287.8,1423.4 288.3,1427.5 288.8,1424.1 289.3,1428.0 289.8,1424.2 290.3,1428.0 290.8,1424.1 291.3,1427.6 291.8,1423.5 292.3,1427.9 292.8,1425.0 293.3,1427.9 293.8,1423.6 294.3,1428.1 294.8,1423.6 295.3,1429.9 295.8,1425.3 296.3,1429.2 296.8,1424.9 297.3,1428.7 297.8,1423.4 298.3,1428.9 298.8,1426.0 299.3,1429.2 299.8,1424.5 300.3,1429.5 300.8,1424.8 301.3,1429.9 301.8,1426.0 302.3,1430.0 302.8,1426.3 303.3,1430.6 303.8,1425.4 304.3,1430.4 304.8,1426.6 305.3,1430.3 305.8,1427.5 306.3,1430.8 306.8,1427.1 307.3,1431.7 307.8,1427.6 308.3,1430.6 308.8,1427.8 309.3,1433.1 309.8,1427.9 310.3,1431.7 310.8,1427.4 311.3,1432.2 311.8,1427.8 312.3,1432.6 312.8,1428.4 313.3,1431.9 313.8,1429.5 314.3,1433.6 314.8,1428.4 315.3,1434.9 315.8,1429.1 316.3,1432.6 316.8,1429.2 317.3,1433.3 317.8,1429.0 318.3,1433.3 318.8,1429.7 319.3,1434.6 319.8,1430.6 320.3,1434.2 320.8,1429.9 321.3,1434.0 321.8,1430.7 322.3,1434.9 322.8,1431.9 323.3,1435.7 323.8,1432.1 324.3,1435.9 324.8,1431.7 325.3,1437.2 325.8,1431.8 326.3,1436.1 326.8,1432.5 327.3,1437.4 327.8,1433.6 328.3,1436.9 328.8,1433.5 329.3,1437.3 329.8,1434.3 330.3,1438.6 330.8,1433.7 331.3,1438.9 331.8,1433.7 332.3,1438.4 332.8,1435.1 333.3,1439.1 333.8,1435.8 334.3,1440.2 334.8,1436.0 335.3,1440.6 335.8,1436.5 336.3,1440.5 336.8,1437.2 337.3,1440.8 337.8,1436.8 338.3,1441.0 338.8,1437.0 339.3,1440.9 339.8,1436.1 340.3,1441.0 340.8,1437.4 341.3,1442.1 341.8,1438.9 342.3,1442.2 342.8,1439.1 343.3,1443.4 343.8,1439.4 344.3,1443.1 344.8,1439.8 345.3,1443.4 345.8,1438.1 346.3,1443.8 346.8,1440.1 347.3,1444.7 347.8,1441.0 348.3,1445.1 348.8,1441.1 349.3,1444.3 349.8,1440.1 350.3,1445.9 350.8,1442.1 351.3,1446.0 351.8,1441.6 352.3,1445.1 352.8,1441.4 353.3,1445.6 353.8,1442.3 354.3,1447.2 354.8,1442.5 355.3,1445.5 355.8,1441.4 356.3,1446.0 356.8,1443.5 357.3,1446.9 357.8,1443.4 358.3,1447.2 358.8,1443.8 359.3,1448.5 359.8,1443.7 360.3,1448.2 360.8,1444.2 361.3,1447.5 361.8,1443.9 362.3,1447.8 362.8,1444.9 363.3,1448.6 363.8,1445.3 364.3,1448.8 364.8,1444.1 365.3,1448.7 365.8,1444.6 366.3,1449.0 366.8,1446.2 367.3,1450.3 367.8,1446.2 368.3,1449.2 368.8,1445.8 369.3,1450.0 369.8,1446.7 370.3,1450.5 370.8,1446.7 371.3,1450.3 371.8,1447.2 372.3,1451.5 372.8,1447.5 373.3,1450.6 373.8,1447.1 374.3,1451.9 374.8,1445.4 375.3,1451.3 375.8,1448.3 376.3,1452.7 376.8,1446.8 377.3,1452.1 377.8,1449.2 378.3,1453.2 378.8,1448.0 379.3,1451.8 379.8,1448.6 380.3,1452.7 380.8,1448.9 381.3,1453.2 381.8,1449.6 382.3,1453.9 382.8,1449.7 383.3,1455.1 383.8,1448.8 384.3,1453.8 384.8,1450.6 385.3,1454.1 385.8,1451.0 386.3,1454.0 386.8,1451.4 387.3,1454.3 387.8,1451.4 388.3,1454.4 388.8,1450.3 389.3,1454.8 389.8,1452.0 390.3,1455.9 390.8,1451.6 391.3,1455.9 391.8,1451.7 392.3,1457.4 392.8,1452.2 393.3,1456.2 393.8,1452.5 394.3,1456.8 394.8,1452.9 395.3,1457.4 395.8,1453.8 396.3,1457.4 396.8,1454.3 397.3,1457.9 397.8,1453.5 398.3,1457.6 398.8,1454.4 399.3,1458.8 399.8,1455.1 400.3,1458.7 400.8,1455.9 401.3,1459.5 401.8,1454.9 402.3,1459.0 402.8,1455.5 403.3,1459.5 403.8,1456.7 404.3,1460.0 404.8,1455.9 405.3,1459.8 405.8,1456.4 406.3,1460.1 406.8,1456.5 407.3,1461.1 407.8,1456.6 408.3,1461.3 408.8,1457.6 409.3,1462.0 409.8,1457.9 410.3,1462.7 410.8,1458.8 411.3,1463.6 411.8,1459.6 412.3,1462.6 412.8,1458.7 413.3,1463.3 413.8,1458.9 414.3,1464.4 414.8,1460.6 415.3,1465.9 415.8,1459.9 416.3,1465.0 416.8,1460.5 417.3,1465.9 417.8,1461.9 418.3,1466.0 418.8,1462.8 419.3,1466.1 419.8,1462.9 420.3,1467.9 420.8,1463.3 421.3,1467.6 421.8,1463.8 422.3,1467.2 422.8,1464.2 423.3,1467.9 423.8,1465.4 424.3,1469.0 424.8,1464.7 425.3,1469.8 425.8,1465.8 426.3,1469.7 426.8,1466.0 427.3,1469.7 427.8,1466.3 428.3,1470.3 428.8,1466.0 429.3,1469.7 429.8,1466.4 430.3,1470.0 430.8,1466.4 431.3,1470.9 431.8,1466.8 432.3,1471.2 432.8,1466.8 433.3,1471.8 433.8,1468.0 434.3,1472.8 434.8,1467.0 435.3,1472.9 435.8,1468.4 436.3,1472.4 436.8,1469.3 437.3,1472.7 437.8,1469.4 438.3,1473.9 438.8,1469.6 439.3,1474.0 439.8,1469.4 440.3,1474.5 440.8,1469.1 441.3,1475.5 441.8,1469.6 442.3,1476.4 442.8,1468.4 443.3,1478.0 443.8,1469.4 444.3,1476.1 444.8,1468.7 445.3,1475.8 445.8,1468.4 446.3,1477.1 446.8,1468.5 447.3,1477.0 447.8,1470.8 448.3,1477.1 448.8,1470.8 449.3,1478.0 449.8,1468.8 450.3,1478.2 450.8,1470.6 451.3,1477.3 451.8,1468.0 452.3,1483.5 452.8,1472.0 453.3,1479.2 453.8,1470.3 454.3,1477.8 454.8,1470.6 455.3,1479.8 455.8,1473.0 456.3,1479.1 456.8,1472.1 457.3,1479.2 457.8,1464.4 458.3,1479.7 458.8,1474.2 459.3,1482.3 459.8,1472.8 460.3,1479.4 460.8,1469.3 461.3,1483.3 461.8,1473.6 462.3,1480.5 462.8,1473.0 463.3,1480.1 463.8,1470.6 464.3,1483.5 464.8,1474.3 465.3,1479.8 465.8,1473.0 466.3,1479.7 466.8,1474.5 467.3,1480.7 467.8,1473.5 468.3,1483.0 468.8,1474.7 469.3,1481.7 469.8,1473.7 470.3,1484.8 470.8,1474.2 471.3,1482.7 471.8,1475.0 472.3,1481.4 472.8,1475.1 473.3,1484.6 473.8,1475.1 474.3,1485.4 474.8,1475.1 475.3,1483.2 475.8,1476.6 476.3,1483.0 476.8,1476.3 477.3,1482.5 477.8,1474.7 478.3,1482.2 478.8,1475.9 479.3,1487.2 479.8,1474.7 480.3,1483.0 480.8,1476.4 481.3,1485.5 481.8,1476.5 482.3,1483.0 482.8,1474.0 483.3,1485.8 483.8,1475.5 484.3,1483.6 484.8,1477.6 485.3,1484.8 485.8,1475.8 486.3,1484.3 486.8,1477.1 487.3,1484.5 487.8,1478.0 488.3,1483.0 488.8,1478.1 489.3,1485.5 489.8,1477.5 490.3,1484.4 490.8,1476.8 491.3,1485.4 491.8,1478.2 492.3,1484.1 492.8,1478.6 493.3,1485.8 493.8,1477.6 494.3,1484.5 494.8,1477.0 495.3,1485.5 495.8,1476.9 496.3,1485.4 496.8,1477.5 497.3,1487.9 497.8,1479.5 498.3,1485.8 498.8,1479.0 499.3,1486.3 499.8,1478.4 500.3,1487.1 500.8,1479.1 501.3,1488.5 501.8,1479.7 502.3,1487.8 502.8,1478.4 503.3,1487.3 503.8,1478.8 504.3,1487.4 504.8,1478.7 505.3,1487.8 505.8,1480.9 506.3,1497.4 506.8,1480.0 507.3,1486.8 507.8,1480.4 508.3,1486.7 508.8,1480.8 509.3,1487.4 509.8,1479.6 510.3,1486.4 510.8,1474.4 511.3,1487.3 511.8,1479.0 512.3,1488.6 512.8,1478.0 513.3,1486.9 513.8,1479.8 514.3,1490.5 514.8,1478.9 515.3,1490.0 515.8,1480.9 516.3,1488.1 516.8,1481.4 517.3,1488.0 517.8,1479.6 518.3,1489.3 518.8,1480.2 519.3,1487.7 519.8,1481.5 520.3,1489.2 520.8,1481.5 521.3,1488.2 521.8,1480.1 522.3,1489.8 522.8,1482.0 523.3,1487.7 523.8,1482.4 524.3,1490.7 524.8,1482.0 525.3,1490.1 525.8,1482.1 526.3,1488.8 526.8,1482.1 527.3,1490.0 527.8,1478.3 528.3,1487.6 528.8,1481.2 529.3,1488.8 529.8,1480.8 530.3,1489.3 530.8,1481.4 531.3,1489.7 531.8,1479.0 532.3,1487.8 532.8,1481.6 533.3,1489.5 533.8,1482.4 534.3,1488.8 534.8,1481.2 535.3,1490.3 535.8,1482.6 536.3,1488.9 536.8,1483.1 537.3,1490.8 537.8,1478.6 538.3,1488.6 538.8,1480.9 539.3,1490.3 539.8,1481.4 540.3,1489.3 540.8,1481.2 541.3,1488.9 541.8,1481.5 542.3,1489.3 542.8,1482.1 543.3,1490.9 543.8,1482.7 544.3,1491.9 544.8,1481.7 545.3,1490.0 545.8,1481.8 546.3,1488.7 546.8,1479.6 547.3,1490.9 547.8,1481.6 548.3,1489.6 548.8,1481.0 549.3,1489.6 549.8,1481.5 550.3,1487.2 550.8,1480.1 551.3,1488.7 551.8,1481.1 552.3,1488.5 552.8,1480.4 553.3,1491.1 553.8,1481.5 554.3,1488.4 554.8,1481.1 555.3,1487.0 555.8,1480.6 556.3,1489.3 556.8,1480.4 557.3,1487.5 557.8,1480.5 558.3,1486.9 558.8,1477.8 559.3,1488.6 559.8,1479.7 560.3,1486.0 560.8,1478.5 561.3,1487.6 561.8,1476.7 562.3,1485.4 562.8,1478.2 563.3,1486.6 563.8,1479.9 564.3,1488.0 564.8,1475.4 565.3,1487.7 565.8,1477.9 566.3,1487.2 566.8,1477.1 567.3,1486.8 567.8,1479.2 568.3,1485.4 568.8,1476.8 569.3,1487.0 569.8,1478.2 570.3,1484.6 570.8,1477.7 571.3,1487.5 571.8,1478.6 572.3,1489.6 572.8,1474.5 573.3,1483.6 573.8,1463.3 574.3,1484.3 574.8,1475.3 575.3,1485.3 575.8,1476.5 576.3,1483.5 576.8,1477.8 577.3,1483.4 577.8,1477.3 578.3,1483.1 578.8,1476.6 579.3,1484.4 579.8,1477.3 580.3,1483.8 580.8,1476.8 581.3,1482.8 581.8,1477.0 582.3,1482.4 582.8,1475.3 583.3,1483.6 583.8,1475.4 584.3,1483.8 584.8,1475.9 585.3,1482.6 585.8,1477.2 586.3,1484.0 586.8,1476.9 587.3,1483.3 587.8,1475.8 588.3,1482.8 588.8,1477.4 589.3,1485.6 589.8,1476.6 590.3,1484.9 590.8,1477.2 591.3,1483.9 591.8,1477.3 592.3,1485.1 592.8,1477.1 593.3,1486.0 593.8,1476.9 594.3,1483.2 594.8,1477.5 595.3,1484.8 595.8,1477.0 596.3,1485.9 596.8,1477.8 597.3,1483.7 597.8,1476.7 598.3,1486.2 598.8,1476.1 599.3,1484.9 599.8,1478.4 600.3,1484.7 600.8,1479.1 601.3,1484.1 601.8,1477.2 602.3,1484.1 602.8,1477.9 603.3,1484.3 603.8,1478.3 604.3,1485.5 604.8,1476.4 605.3,1486.4 605.8,1478.4 606.3,1484.7 606.8,1478.3 607.3,1485.5 607.8,1475.9 608.3,1484.8 608.8,1479.1 609.3,1484.7 609.8,1479.3 610.3,1486.1 610.8,1478.9 611.3,1486.4 611.8,1479.0 612.3,1488.1 612.8,1478.7 613.3,1486.0 613.8,1479.1 614.3,1487.4 614.8,1478.5 615.3,1486.9 615.8,1478.7 616.3,1486.3 616.8,1479.8 617.3,1489.1 617.8,1474.9 618.3,1490.4 618.8,1477.7 619.3,1487.4 619.8,1479.7 620.3,1488.6 620.8,1478.3 621.3,1486.5 621.8,1479.1 622.3,1489.6 622.8,1480.3 623.3,1486.1 623.8,1480.9 624.3,1486.0 624.8,1480.9 625.3,1486.8 625.8,1481.3 626.3,1487.7 626.8,1480.2 627.3,1490.5 627.8,1480.7 628.3,1489.3 628.8,1481.2 629.3,1487.1 629.8,1478.4 630.3,1487.9 630.8,1481.3 631.3,1487.8 631.8,1481.2 632.3,1487.3 632.8,1481.3 633.3,1488.6 633.8,1480.3 634.3,1488.4 634.8,1479.5 635.3,1487.7 635.8,1481.5 636.3,1488.5 636.8,1479.6 637.3,1489.8 637.8,1482.1 638.3,1488.1 638.8,1481.6 639.3,1488.6 639.8,1482.0 640.3,1487.8 640.8,1482.1 641.3,1488.0 641.8,1481.9 642.3,1488.1 642.8,1481.8 643.3,1488.5 643.8,1483.7 644.3,1492.3 644.8,1481.9 645.3,1489.5 645.8,1480.7 646.3,1497.6 646.8,1481.7 647.3,1489.0 647.8,1480.7 648.3,1490.3 648.8,1482.6 649.3,1488.6 649.8,1483.3 650.3,1493.8 650.8,1479.6 651.3,1489.1 651.8,1482.9 652.3,1491.4 652.8,1482.4 653.3,1488.3 653.8,1482.8 654.3,1489.2 654.8,1481.1 655.3,1491.4 655.8,1483.8 656.3,1490.0 656.8,1483.6 657.3,1490.5 657.8,1483.0 658.3,1489.7 658.8,1483.4 659.3,1499.1 659.8,1481.1 660.3,1490.0 660.8,1484.3 661.3,1491.5 661.8,1483.6 662.3,1495.2 662.8,1482.3 663.3,1490.1 663.8,1484.4 664.3,1490.8 664.8,1484.7 665.3,1490.6 665.8,1485.1 666.3,1490.2 666.8,1482.9 667.3,1490.2 667.8,1483.3 668.3,1490.6 668.8,1484.2 669.3,1499.7 669.8,1485.2 670.3,1492.1 670.8,1484.2 671.3,1491.6 671.8,1479.4 672.3,1490.8 672.8,1485.4 673.3,1491.3 673.8,1483.3 674.3,1492.6 674.8,1485.6 675.3,1491.5 675.8,1484.9 676.3,1498.2 676.8,1482.3 677.3,1492.4 677.8,1484.7 678.3,1498.6 678.8,1485.0 679.3,1493.7 679.8,1475.0 680.3,1492.7 680.8,1482.5 681.3,1492.7 681.8,1482.8 682.3,1499.9 682.8,1484.1 683.3,1492.4 683.8,1481.7 684.3,1491.2 684.8,1474.8 685.3,1491.0 685.8,1483.8 686.3,1492.9 686.8,1484.5 687.3,1490.9 687.8,1483.4 688.3,1490.2 688.8,1484.2 689.3,1490.3 689.8,1483.1 690.3,1490.9 690.8,1482.4 691.3,1489.8 691.8,1481.2 692.3,1492.2 692.8,1483.1 693.3,1490.5 693.8,1482.1 694.3,1493.0 694.8,1481.8 695.3,1489.7 695.8,1481.2 696.3,1489.1 696.8,1482.4 697.3,1495.6 697.8,1481.7 698.3,1490.2 698.8,1483.1 699.3,1488.5 699.8,1480.0 700.3,1488.2 700.8,1482.8 701.3,1490.0 701.8,1483.7 702.3,1489.0 702.8,1482.7 703.3,1490.6 703.8,1482.9 704.3,1489.6 704.8,1482.1 705.3,1488.7 705.8,1481.4 706.3,1487.7 706.8,1480.1 707.3,1487.9 707.8,1481.3 708.3,1488.4 708.8,1481.6 709.3,1488.8 709.8,1479.8 710.3,1490.4 710.8,1479.2 711.3,1488.4 711.8,1481.8 712.3,1488.9 712.8,1479.5 713.3,1489.6 713.8,1481.6 714.3,1489.6 714.8,1479.9 715.3,1488.6 715.8,1481.9 716.3,1487.5 716.8,1479.8 717.3,1490.7 717.8,1478.5 718.3,1490.0 718.8,1480.2 719.3,1487.9 719.8,1479.2 720.3,1489.7 720.8,1481.3 721.3,1488.4 721.8,1480.3 722.3,1488.0 722.8,1479.7 723.3,1486.6 723.8,1480.3 724.3,1488.4 724.8,1477.5 725.3,1489.9 725.8,1479.0 726.3,1487.6 726.8,1478.3 727.3,1486.7 727.8,1480.6 728.3,1486.8 728.8,1480.2 729.3,1486.2 729.8,1480.0 730.3,1488.4 730.8,1479.4 731.3,1486.3 731.8,1479.6 732.3,1489.3 732.8,1474.4 733.3,1488.0 733.8,1480.0 734.3,1487.9 734.8,1475.6 735.3,1485.9 735.8,1480.2 736.3,1487.4 736.8,1479.5 737.3,1486.6 737.8,1480.0 738.3,1486.0 738.8,1473.6 739.3,1485.8 739.8,1479.8 740.3,1485.7 740.8,1479.5 741.3,1486.9 741.8,1480.0 742.3,1490.0 742.8,1477.6 743.3,1486.9 743.8,1479.8 744.3,1486.0 744.8,1476.0 745.3,1487.2 745.8,1479.5 746.3,1486.4 746.8,1479.9 747.3,1486.1 747.8,1479.1 748.3,1487.0 748.8,1479.1 749.3,1484.3 749.8,1478.4 750.3,1486.7 750.8,1478.9 751.3,1487.2 751.8,1477.7 752.3,1484.8 752.8,1478.0 753.3,1485.4 753.8,1475.7 754.3,1486.1 754.8,1477.7 755.3,1485.0 755.8,1477.4 756.3,1484.4 756.8,1477.8 757.3,1484.6 757.8,1477.9 758.3,1485.7 758.8,1478.0 759.3,1485.5 759.8,1479.3 760.3,1487.3 760.8,1477.8 761.3,1483.6 761.8,1473.7 762.3,1486.3 762.8,1477.8 763.3,1488.7 763.8,1477.9 764.3,1486.5 764.8,1475.5 765.3,1483.7 765.8,1477.2 766.3,1484.2 766.8,1476.4 767.3,1485.0 767.8,1478.1 768.3,1483.7 768.8,1476.9 769.3,1483.4 769.8,1477.2 770.3,1482.7 770.8,1474.8 771.3,1482.9 771.8,1477.0 772.3,1484.8 772.8,1474.0 773.3,1483.8 773.8,1474.0 774.3,1484.3 774.8,1476.7 775.3,1486.1 775.8,1474.7 776.3,1482.3 776.8,1475.5 777.3,1482.4 777.8,1474.0 778.3,1484.7 778.8,1474.6 779.3,1482.8 779.8,1476.4 780.3,1482.8 780.8,1477.4 781.3,1482.9 781.8,1476.6 782.3,1484.9 782.8,1477.8 783.3,1484.5 783.8,1478.2 784.3,1483.8 784.8,1477.3 785.3,1483.6 785.8,1477.3 786.3,1484.2 786.8,1478.4 787.3,1483.8 787.8,1477.6 788.3,1484.0 788.8,1476.1 789.3,1484.6 789.8,1478.0 790.3,1486.2 790.8,1479.6 791.3,1486.0 791.8,1478.9 792.3,1485.3 792.8,1478.1 793.3,1486.5 793.8,1479.2 794.3,1488.6 794.8,1480.1 795.3,1486.0 795.8,1478.2 796.3,1485.5 796.8,1479.0 797.3,1489.0 797.8,1479.1 798.3,1485.2 798.8,1480.0 799.3,1486.7 799.8,1479.8 800.3,1485.5 800.8,1475.1 801.3,1488.4 801.8,1480.7 802.3,1486.4 802.8,1479.5 803.3,1486.6 803.8,1480.1 804.3,1488.3 804.8,1477.8 805.3,1487.1 805.8,1479.9 806.3,1486.7 806.8,1467.6 807.3,1488.3 807.8,1478.8 808.3,1487.3 808.8,1479.9 809.3,1486.3 809.8,1480.1 810.3,1486.9 810.8,1480.4 811.3,1488.1 811.8,1478.8 812.3,1488.2 812.8,1478.8 813.3,1487.1 813.8,1475.7 814.3,1492.6 814.8,1479.9 815.3,1488.3 815.8,1481.3 816.3,1488.0 816.8,1481.7 817.3,1489.8 817.8,1480.8 818.3,1488.1 818.8,1479.0 819.3,1488.4 819.8,1481.3 820.3,1491.6 820.8,1480.2 821.3,1489.3 821.8,1481.1 822.3,1490.8 822.8,1481.7 823.3,1490.7 823.8,1482.2 824.3,1490.8 824.8,1482.3 825.3,1490.8 825.8,1481.6 826.3,1489.4 826.8,1484.4 827.3,1489.8 827.8,1484.3 828.3,1491.8 828.8,1482.8 829.3,1491.9 829.8,1483.3 830.3,1490.6 830.8,1484.4 831.3,1491.6 831.8,1483.2 832.3,1492.1 832.8,1485.2 833.3,1494.8 833.8,1484.9 834.3,1493.1 834.8,1485.9 835.3,1492.2 835.8,1486.8 836.3,1492.6 836.8,1484.2 837.3,1493.6 837.8,1484.9 838.3,1493.3 838.8,1485.7 839.3,1496.4 839.8,1486.3 840.3,1496.0 840.8,1488.1 841.3,1494.4 841.8,1487.1 842.3,1495.3 842.8,1488.4 843.3,1496.3 843.8,1488.4 844.3,1495.1 844.8,1484.7 845.3,1497.1 845.8,1489.3 846.3,1496.7 846.8,1488.3 847.3,1496.9 847.8,1489.9 848.3,1499.3 848.8,1490.7 849.3,1498.4 849.8,1489.5 850.3,1498.4 850.8,1492.4 851.3,1498.9 851.8,1489.4 852.3,1498.4 852.8,1491.9 853.3,1500.6 853.8,1492.4 854.3,1499.7 854.8,1493.4 855.3,1500.0 855.8,1491.9 856.3,1501.8 856.8,1494.8 857.3,1501.0 857.8,1494.2 858.3,1502.0 858.8,1494.4 859.3,1501.5 859.8,1495.8 860.3,1503.5 860.8,1495.7 861.3,1502.4 861.8,1496.2 862.3,1503.8 862.8,1495.9 863.3,1504.5 863.8,1497.5 864.3,1503.5 864.8,1497.3 865.3,1503.9 865.8,1498.6 866.3,1505.0 866.8,1498.5 867.3,1504.8 867.8,1498.4 868.3,1505.1 868.8,1499.0 869.3,1505.7 869.8,1497.7 870.3,1508.6 870.8,1498.2 871.3,1511.2 871.8,1498.5 872.3,1507.3 872.8,1500.7 873.3,1507.4 873.8,1501.3 874.3,1508.9 874.8,1500.1 875.3,1508.4 875.8,1500.0 876.3,1508.4 876.8,1502.3 877.3,1508.9 877.8,1499.6 878.3,1510.1 878.8,1503.0 879.3,1510.0 879.8,1503.2 880.3,1511.3 880.8,1500.4 881.3,1513.1 881.8,1503.1 882.3,1512.6 882.8,1504.9 883.3,1512.1 883.8,1500.6 884.3,1512.4 884.8,1504.8 885.3,1513.1 885.8,1507.6 886.3,1514.7 886.8,1507.4 887.3,1513.1 887.8,1507.4 888.3,1515.4 888.8,1506.6 889.3,1514.6 889.8,1507.8 890.3,1514.1 890.8,1508.6 891.3,1515.9 891.8,1509.0 892.3,1515.6 892.8,1510.7 893.3,1516.0 893.8,1510.3 894.3,1515.5 894.8,1508.3 895.3,1518.9 895.8,1510.9 896.3,1518.3 896.8,1509.9 897.3,1518.2 897.8,1511.4 898.3,1521.2 898.8,1511.8 899.3,1520.6 899.8,1511.0 900.3,1519.7 900.8,1513.0 901.3,1519.0 901.8,1512.3 902.3,1520.8 902.8,1512.4 903.3,1521.1 903.8,1512.6 904.3,1521.5 904.8,1514.1 905.3,1521.1 905.8,1514.5 906.3,1521.1 906.8,1515.3 907.3,1522.2 907.8,1514.9 908.3,1525.0 908.8,1515.3 909.3,1523.0 909.8,1508.5 910.3,1524.8 910.8,1516.1 911.3,1523.1 911.8,1517.7 912.3,1524.4 912.8,1515.5 913.3,1523.6 913.8,1518.1 914.3,1525.6 914.8,1517.8 915.3,1526.6 915.8,1519.2 916.3,1527.3 916.8,1518.6 917.3,1526.9 917.8,1517.9 918.3,1527.2 918.8,1517.2 919.3,1527.2 919.8,1519.8 920.3,1526.6 920.8,1520.1 921.3,1528.6 921.8,1508.9 922.3,1528.0 922.8,1522.3 923.3,1527.2 923.8,1522.3 924.3,1531.3 924.8,1523.2 925.3,1529.9 925.8,1523.4 926.3,1529.1 926.8,1522.3 927.3,1530.4 927.8,1522.0 928.3,1531.1 928.8,1523.1 929.3,1543.8 929.8,1525.5 930.3,1533.2 930.8,1525.3 931.3,1533.5 931.8,1523.6 932.3,1533.6 932.8,1525.6 933.3,1531.9 933.8,1526.3 934.3,1533.0 934.8,1525.6 935.3,1536.9 935.8,1524.2 936.3,1534.9 936.8,1518.2 937.3,1539.2 937.8,1527.9 938.3,1534.1 938.8,1529.3 939.3,1535.7 939.8,1526.8 940.3,1535.6 940.8,1525.8 941.3,1535.8 941.8,1527.9 942.3,1536.2 942.8,1527.6 943.3,1537.2 943.8,1528.8 944.3,1539.5 944.8,1530.6 945.3,1537.4 945.8,1531.4 946.3,1538.1 946.8,1530.8 947.3,1537.4 947.8,1531.0 948.3,1537.7 948.8,1531.1 949.3,1538.1 949.8,1530.9 950.3,1539.6" stroke="#646464" stroke-width="1.3" fill="none"/><polyline points="172.8,1528.0 173.8,1529.0 174.8,1529.5 175.8,1529.5 176.8,1529.7 177.8,1530.0 178.8,1530.1 179.8,1530.4 180.8,1530.6 181.8,1530.7 182.8,1531.2 183.8,1531.7 184.8,1531.2 185.8,1531.6 186.8,1532.6 187.8,1532.5 188.8,1533.2 189.8,1533.5 190.8,1533.5 191.8,1533.4 192.8,1533.8 193.8,1534.1 194.8,1534.6 195.8,1535.1 196.8,1534.9 197.8,1534.9 198.8,1535.4 199.8,1535.8 200.8,1536.2 201.8,1536.3 202.8,1536.9 203.8,1537.0 204.8,1537.0 205.8,1537.1 206.8,1537.9 207.8,1537.8 208.8,1537.8 209.8,1537.9 210.8,1538.1 211.8,1538.6 212.8,1538.1 213.8,1538.9 214.8,1539.0 215.8,1538.7 216.8,1539.0 217.8,1539.3 218.8,1539.4 219.8,1538.9 220.8,1539.2 221.8,1539.2 222.8,1539.2 223.8,1539.9 224.8,1540.2 225.8,1540.1 226.8,1540.6 227.8,1540.7 228.8,1540.7 229.8,1540.9 230.8,1540.6 231.8,1540.5 232.8,1540.1 233.8,1540.3 234.8,1540.7 235.8,1540.5 236.8,1540.6 237.8,1540.5 238.8,1540.4 239.8,1540.5 240.8,1540.4 241.8,1539.8 242.8,1540.0 243.8,1540.7 244.8,1540.1 245.8,1540.3 246.8,1540.0 247.8,1540.3 248.8,1540.3 249.8,1539.9 250.8,1539.5 251.8,1539.4 252.8,1539.1 253.8,1539.2 254.8,1539.2 255.8,1539.0 256.8,1538.8 257.8,1538.7 258.8,1538.2 259.8,1538.5 260.8,1538.3 261.8,1538.4 262.8,1538.1 263.8,1537.9 264.8,1537.8 265.8,1538.0 266.8,1537.4 267.8,1537.5 268.8,1537.4 269.8,1536.8 270.8,1536.4 271.8,1536.3 272.8,1536.4 273.8,1536.4 274.8,1536.2 275.8,1535.7 276.8,1535.3 277.8,1535.3 278.8,1535.4 279.8,1535.2 280.8,1535.0 281.8,1534.9 282.8,1534.9 283.8,1534.4 284.8,1534.5 285.8,1534.2 286.8,1534.0 287.8,1534.0 288.8,1533.9 289.8,1533.6 290.8,1533.4 291.8,1533.5 292.8,1533.7 293.8,1533.4 294.8,1533.2 295.8,1532.5 296.8,1532.9 297.8,1532.9 298.8,1532.6 299.8,1532.0 300.8,1532.4 301.8,1532.5 302.8,1532.2 303.8,1531.5 304.8,1531.5 305.8,1532.0 306.8,1531.9 307.8,1531.9 308.8,1531.5 309.8,1531.0 310.8,1531.1 311.8,1531.2 312.8,1530.4 313.8,1530.1 314.8,1530.5 315.8,1530.8 316.8,1530.7 317.8,1529.8 318.8,1529.5 319.8,1529.7 320.8,1529.8 321.8,1529.7 322.8,1529.3 323.8,1529.0 324.8,1528.5 325.8,1528.3 326.8,1528.4 327.8,1528.3 328.8,1528.3 329.8,1527.9 330.8,1527.7 331.8,1527.4 332.8,1527.2 333.8,1526.3 334.8,1527.1 335.8,1526.2 336.8,1526.0 337.8,1525.4 338.8,1525.8 339.8,1525.2 340.8,1525.4 341.8,1525.1 342.8,1523.7 343.8,1524.4 344.8,1524.6 345.8,1524.5 346.8,1524.4 347.8,1524.0 348.8,1523.8 349.8,1523.5 350.8,1523.7 351.8,1523.4 352.8,1523.2 353.8,1523.1 354.8,1522.6 355.8,1522.4 356.8,1522.2 357.8,1521.8 358.8,1521.6 359.8,1521.6 360.8,1521.6 361.8,1521.6 362.8,1521.8 363.8,1521.4 364.8,1521.0 365.8,1520.9 366.8,1521.1 367.8,1520.4 368.8,1520.1 369.8,1520.0 370.8,1520.2 371.8,1519.9 372.8,1519.8 373.8,1519.9 374.8,1519.6 375.8,1519.2 376.8,1518.6 377.8,1518.7 378.8,1518.9 379.8,1518.9 380.8,1518.6 381.8,1518.3 382.8,1518.0 383.8,1517.9 384.8,1518.3 385.8,1518.1 386.8,1518.0 387.8,1517.5 388.8,1517.5 389.8,1517.5 390.8,1517.3 391.8,1517.5 392.8,1517.4 393.8,1517.3 394.8,1516.7 395.8,1516.6 396.8,1516.7 397.8,1516.8 398.8,1516.3 399.8,1516.4 400.8,1516.1 401.8,1515.6 402.8,1515.9 403.8,1515.7 404.8,1515.6 405.8,1515.4 406.8,1515.3 407.8,1514.8 408.8,1515.1 409.8,1514.8 410.8,1514.9 411.8,1514.9 412.8,1514.0 413.8,1514.0 414.8,1514.0 415.8,1513.8 416.8,1514.1 417.8,1513.9 418.8,1513.9 419.8,1514.0 420.8,1513.1 421.8,1512.6 422.8,1512.6 423.8,1512.4 424.8,1512.1 425.8,1512.2 426.8,1511.7 427.8,1511.4 428.8,1511.6 429.8,1511.6 430.8,1511.4 431.8,1511.3 432.8,1511.5 433.8,1511.4 434.8,1511.7 435.8,1511.8 436.8,1511.7 437.8,1511.5 438.8,1511.6 439.8,1511.9 440.8,1512.3 441.8,1511.6 442.8,1512.1 443.8,1511.8 444.8,1511.5 445.8,1511.4 446.8,1511.2 447.8,1511.5 448.8,1511.6 449.8,1511.4 450.8,1511.0 451.8,1510.8 452.8,1511.0 453.8,1511.5 454.8,1511.4 455.8,1511.1 456.8,1511.5 457.8,1511.6 458.8,1511.3 459.8,1511.1 460.8,1510.8 461.8,1510.8 462.8,1510.9 463.8,1510.5 464.8,1511.2 465.8,1511.2 466.8,1511.1 467.8,1511.4 468.8,1511.3 469.8,1510.8 470.8,1510.7 471.8,1510.4 472.8,1510.5 473.8,1510.9 474.8,1510.5 475.8,1510.4 476.8,1510.9 477.8,1510.4 478.8,1510.3 479.8,1510.4 480.8,1510.6 481.8,1510.3 482.8,1510.2 483.8,1510.5 484.8,1510.5 485.8,1509.7 486.8,1510.2 487.8,1510.3 488.8,1510.4 489.8,1510.8 490.8,1510.1 491.8,1510.3 492.8,1510.3 493.8,1510.0 494.8,1510.1 495.8,1510.0 496.8,1510.3 497.8,1510.3 498.8,1510.0 499.8,1510.3 500.8,1510.4 501.8,1509.7 502.8,1509.7 503.8,1510.2 504.8,1510.0 505.8,1509.6 506.8,1509.5 507.8,1509.7 508.8,1509.7 509.8,1510.0 510.8,1509.8 511.8,1509.7 512.8,1510.1 513.8,1510.1 514.8,1509.9 515.8,1509.6 516.8,1510.1 517.8,1509.3 518.8,1509.5 519.8,1509.7 520.8,1509.6 521.8,1509.8 522.8,1510.0 523.8,1509.9 524.8,1510.3 525.8,1510.1 526.8,1509.6 527.8,1510.1 528.8,1509.8 529.8,1509.7 530.8,1510.3 531.8,1510.1 532.8,1510.0 533.8,1510.0 534.8,1509.7 535.8,1509.9 536.8,1510.0 537.8,1509.6 538.8,1509.9 539.8,1509.8 540.8,1510.1 541.8,1509.8 542.8,1510.2 543.8,1510.5 544.8,1510.8 545.8,1510.9 546.8,1511.1 547.8,1511.1 548.8,1510.7 549.8,1511.0 550.8,1511.5 551.8,1511.6 552.8,1511.4 553.8,1511.9 554.8,1512.1 555.8,1512.3 556.8,1512.1 557.8,1512.3 558.8,1511.9 559.8,1512.8 560.8,1513.0 561.8,1513.1 562.8,1512.9 563.8,1512.7 564.8,1512.9 565.8,1512.9 566.8,1513.4 567.8,1513.5 568.8,1513.2 569.8,1513.7 570.8,1514.0 571.8,1513.8 572.8,1514.0 573.8,1514.2 574.8,1514.0 575.8,1514.6 576.8,1514.9 577.8,1515.6 578.8,1515.4 579.8,1515.4 580.8,1515.5 581.8,1514.9 582.8,1514.9 583.8,1515.4 584.8,1515.1 585.8,1514.9 586.8,1514.8 587.8,1515.1 588.8,1515.2 589.8,1514.8 590.8,1514.9 591.8,1515.2 592.8,1514.8 593.8,1514.4 594.8,1514.8 595.8,1514.8 596.8,1515.0 597.8,1514.3 598.8,1515.1 599.8,1514.6 600.8,1513.9 601.8,1514.5 602.8,1514.7 603.8,1513.8 604.8,1513.6 605.8,1513.7 606.8,1513.9 607.8,1513.6 608.8,1513.6 609.8,1513.8 610.8,1513.6 611.8,1513.9 612.8,1513.2 613.8,1513.3 614.8,1513.4 615.8,1513.3 616.8,1513.4 617.8,1513.3 618.8,1513.1 619.8,1512.9 620.8,1512.7 621.8,1513.3 622.8,1513.0 623.8,1512.8 624.8,1512.7 625.8,1512.3 626.8,1512.5 627.8,1512.5 628.8,1512.5 629.8,1512.3 630.8,1512.8 631.8,1512.7 632.8,1512.2 633.8,1512.1 634.8,1511.4 635.8,1511.7 636.8,1511.7 637.8,1511.6 638.8,1511.0 639.8,1511.3 640.8,1511.2 641.8,1511.0 642.8,1511.2 643.8,1511.1 644.8,1511.0 645.8,1511.2 646.8,1511.4 647.8,1510.8 648.8,1510.8 649.8,1511.0 650.8,1510.4 651.8,1510.6 652.8,1510.7 653.8,1510.5 654.8,1510.1 655.8,1510.4 656.8,1510.5 657.8,1510.4 658.8,1510.5 659.8,1510.7 660.8,1510.7 661.8,1510.5 662.8,1510.8 663.8,1511.2 664.8,1511.6 665.8,1511.6 666.8,1511.6 667.8,1511.3 668.8,1511.6 669.8,1511.4 670.8,1511.6 671.8,1512.0 672.8,1512.1 673.8,1512.0 674.8,1511.5 675.8,1511.4 676.8,1511.8 677.8,1512.2 678.8,1512.2 679.8,1511.8 680.8,1512.1 681.8,1512.2 682.8,1512.3 683.8,1512.3 684.8,1512.1 685.8,1512.4 686.8,1513.0 687.8,1513.1 688.8,1513.1 689.8,1513.4 690.8,1513.9 691.8,1513.5 692.8,1513.5 693.8,1513.2 694.8,1513.3 695.8,1513.5 696.8,1512.7 697.8,1512.9 698.8,1513.1 699.8,1513.0 700.8,1512.9 701.8,1513.0 702.8,1512.9 703.8,1512.9 704.8,1513.3 705.8,1513.2 706.8,1513.1 707.8,1513.1 708.8,1512.8 709.8,1512.9 710.8,1512.8 711.8,1512.9 712.8,1513.1 713.8,1512.9 714.8,1512.8 715.8,1512.5 716.8,1512.5 717.8,1512.8 718.8,1512.5 719.8,1512.8 720.8,1512.8 721.8,1512.9 722.8,1512.6 723.8,1512.6 724.8,1512.7 725.8,1512.6 726.8,1513.0 727.8,1513.4 728.8,1513.1 729.8,1512.6 730.8,1512.6 731.8,1512.7 732.8,1513.1 733.8,1512.9 734.8,1513.2 735.8,1513.5 736.8,1513.9 737.8,1512.7 738.8,1513.2 739.8,1513.1 740.8,1513.4 741.8,1513.0 742.8,1513.0 743.8,1513.2 744.8,1513.1 745.8,1513.7 746.8,1514.0 747.8,1514.1 748.8,1513.7 749.8,1513.7 750.8,1514.0 751.8,1513.9 752.8,1513.7 753.8,1513.9 754.8,1513.9 755.8,1514.2 756.8,1514.1 757.8,1514.0 758.8,1514.6 759.8,1514.9 760.8,1514.6 761.8,1514.9 762.8,1515.1 763.8,1514.3 764.8,1514.0 765.8,1514.3 766.8,1514.4 767.8,1514.8 768.8,1514.9 769.8,1514.9 770.8,1515.0 771.8,1515.1 772.8,1515.0 773.8,1514.8 774.8,1514.8 775.8,1514.4 776.8,1514.4 777.8,1513.8 778.8,1514.0 779.8,1513.8 780.8,1513.6 781.8,1514.0 782.8,1513.6 783.8,1513.0 784.8,1514.0 785.8,1514.0 786.8,1513.8 787.8,1513.2 788.8,1513.2 789.8,1513.1 790.8,1513.0 791.8,1512.7 792.8,1512.7 793.8,1512.9 794.8,1513.3 795.8,1512.8 796.8,1512.7 797.8,1512.5 798.8,1512.6 799.8,1512.1 800.8,1512.4 801.8,1512.0 802.8,1512.2 803.8,1511.6 804.8,1511.1 805.8,1511.7 806.8,1512.2 807.8,1511.7 808.8,1511.7 809.8,1511.0 810.8,1511.3 811.8,1511.9 812.8,1511.8 813.8,1511.4 814.8,1511.3 815.8,1511.0 816.8,1510.0 817.8,1510.4 818.8,1510.3 819.8,1510.2 820.8,1510.0 821.8,1510.6 822.8,1510.5 823.8,1510.2 824.8,1509.5 825.8,1509.4 826.8,1509.6 827.8,1509.7 828.8,1509.2 829.8,1509.0 830.8,1508.6 831.8,1508.8 832.8,1509.3 833.8,1508.5 834.8,1508.1 835.8,1507.9 836.8,1507.4 837.8,1507.9 838.8,1507.5 839.8,1507.5 840.8,1506.8 841.8,1506.1 842.8,1506.0 843.8,1506.1 844.8,1505.5 845.8,1505.5 846.8,1505.2 847.8,1505.2 848.8,1504.8 849.8,1504.2 850.8,1504.2 851.8,1503.9 852.8,1503.3 853.8,1503.5 854.8,1502.6 855.8,1502.5 856.8,1502.4 857.8,1502.5 858.8,1502.1 859.8,1501.6 860.8,1501.1 861.8,1500.7 862.8,1500.3 863.8,1500.5 864.8,1500.6 865.8,1500.0 866.8,1499.7 867.8,1500.4 868.8,1500.0 869.8,1499.4 870.8,1499.3 871.8,1498.9 872.8,1498.9 873.8,1498.6 874.8,1497.8 875.8,1497.7 876.8,1497.5 877.8,1497.5 878.8,1497.5 879.8,1497.1 880.8,1497.3 881.8,1497.0 882.8,1496.7 883.8,1496.2 884.8,1495.5 885.8,1495.6 886.8,1495.5 887.8,1494.9 888.8,1494.8 889.8,1494.2 890.8,1493.7 891.8,1493.3 892.8,1493.3 893.8,1492.8 894.8,1492.4 895.8,1492.6 896.8,1492.2 897.8,1492.0 898.8,1492.2 899.8,1491.4 900.8,1490.9 901.8,1490.3 902.8,1490.3 903.8,1490.5 904.8,1489.6 905.8,1489.3 906.8,1488.9 907.8,1488.8 908.8,1488.6 909.8,1488.0 910.8,1487.7 911.8,1486.9 912.8,1486.7 913.8,1486.3 914.8,1485.8 915.8,1485.9 916.8,1486.0 917.8,1485.2 918.8,1485.5 919.8,1485.5 920.8,1484.6 921.8,1484.6 922.8,1484.5 923.8,1484.4 924.8,1484.0 925.8,1483.6 926.8,1483.0 927.8,1482.2 928.8,1482.8 929.8,1482.3 930.8,1481.9 931.8,1481.9 932.8,1481.6 933.8,1481.2 934.8,1481.2 935.8,1480.8 936.8,1481.3 937.8,1480.9 938.8,1480.4 939.8,1480.1 940.8,1480.2 941.8,1479.9 942.8,1479.9 943.8,1479.0 944.8,1479.2 945.8,1479.2 946.8,1479.3 947.8,1478.9 948.8,1478.5 949.8,1478.4" stroke="#0000b4" stroke-width="1.6" fill="none"/></g>
<text x="604.8" y="1378.0" text-anchor="middle" class="t">HtrCrnt</text>
<text x="1029.3" y="1379.8" text-anchor="end" class="t" fill="#0000b4">Air pressure</text>
<rect x="172.8" y="1355" width="864.0" height="187.2" fill="none" stroke="#000" stroke-width="2.2"/>
<path d="M172.80 1355V1343.4M172.80 1542.2V1553.8M183.60 1355V1349.0M183.60 1542.2V1548.2M194.40 1355V1349.0M194.40 1542.2V1548.2M205.20 1355V1349.0M205.20 1542.2V1548.2M216.00 1355V1349.0M216.00 1542.2V1548.2M226.80 1355V1349.0M226.80 1542.2V1548.2M237.60 1355V1349.0M237.60 1542.2V1548.2M248.40 1355V1349.0M248.40 1542.2V1548.2M259.20 1355V1349.0M259.20 1542.2V1548.2M270.00 1355V1349.0M270.00 1542.2V1548.2M280.80 1355V1343.4M280.80 1542.2V1553.8M291.60 1355V1349.0M291.60 1542.2V1548.2M302.40 1355V1349.0M302.40 1542.2V1548.2M313.20 1355V1349.0M313.20 1542.2V1548.2M324.00 1355V1349.0M324.00 1542.2V1548.2M334.80 1355V1349.0M334.80 1542.2V1548.2M345.60 1355V1349.0M345.60 1542.2V1548.2M356.40 1355V1349.0M356.40 1542.2V1548.2M367.20 1355V1349.0M367.20 1542.2V1548.2M378.00 1355V1349.0M378.00 1542.2V1548.2M388.80 1355V1343.4M388.80 1542.2V1553.8M399.60 1355V1349.0M399.60 1542.2V1548.2M410.40 1355V1349.0M410.40 1542.2V1548.2M421.20 1355V1349.0M421.20 1542.2V1548.2M432.00 1355V1349.0M432.00 1542.2V1548.2M442.80 1355V1349.0M442.80 1542.2V1548.2M453.60 1355V1349.0M453.60 1542.2V1548.2M464.40 1355V1349.0M464.40 1542.2V1548.2M475.20 1355V1349.0M475.20 1542.2V1548.2M486.00 1355V1349.0M486.00 1542.2V1548.2M496.80 1355V1343.4M496.80 1542.2V1553.8M507.60 1355V1349.0M507.60 1542.2V1548.2M518.40 1355V1349.0M518.40 1542.2V1548.2M529.20 1355V1349.0M529.20 1542.2V1548.2M540.00 1355V1349.0M540.00 1542.2V1548.2M550.80 1355V1349.0M550.80 1542.2V1548.2M561.60 1355V1349.0M561.60 1542.2V1548.2M572.40 1355V1349.0M572.40 1542.2V1548.2M583.20 1355V1349.0M583.20 1542.2V1548.2M594.00 1355V1349.0M594.00 1542.2V1548.2M604.80 1355V1343.4M604.80 1542.2V1553.8M615.60 1355V1349.0M615.60 1542.2V1548.2M626.40 1355V1349.0M626.40 1542.2V1548.2M637.20 1355V1349.0M637.20 1542.2V1548.2M648.00 1355V1349.0M648.00 1542.2V1548.2M658.80 1355V1349.0M658.80 1542.2V1548.2M669.60 1355V1349.0M669.60 1542.2V1548.2M680.40 1355V1349.0M680.40 1542.2V1548.2M691.20 1355V1349.0M691.20 1542.2V1548.2M702.00 1355V1349.0M702.00 1542.2V1548.2M712.80 1355V1343.4M712.80 1542.2V1553.8M723.60 1355V1349.0M723.60 1542.2V1548.2M734.40 1355V1349.0M734.40 1542.2V1548.2M745.20 1355V1349.0M745.20 1542.2V1548.2M756.00 1355V1349.0M756.00 1542.2V1548.2M766.80 1355V1349.0M766.80 1542.2V1548.2M777.60 1355V1349.0M777.60 1542.2V1548.2M788.40 1355V1349.0M788.40 1542.2V1548.2M799.20 1355V1349.0M799.20 1542.2V1548.2M810.00 1355V1349.0M810.00 1542.2V1548.2M820.80 1355V1343.4M820.80 1542.2V1553.8M831.60 1355V1349.0M831.60 1542.2V1548.2M842.40 1355V1349.0M842.40 1542.2V1548.2M853.20 1355V1349.0M853.20 1542.2V1548.2M864.00 1355V1349.0M864.00 1542.2V1548.2M874.80 1355V1349.0M874.80 1542.2V1548.2M885.60 1355V1349.0M885.60 1542.2V1548.2M896.40 1355V1349.0M896.40 1542.2V1548.2M907.20 1355V1349.0M907.20 1542.2V1548.2M918.00 1355V1349.0M918.00 1542.2V1548.2M928.80 1355V1343.4M928.80 1542.2V1553.8M939.60 1355V1349.0M939.60 1542.2V1548.2M950.40 1355V1349.0M950.40 1542.2V1548.2M961.20 1355V1349.0M961.20 1542.2V1548.2M972.00 1355V1349.0M972.00 1542.2V1548.2M982.80 1355V1349.0M982.80 1542.2V1548.2M993.60 1355V1349.0M993.60 1542.2V1548.2M1004.40 1355V1349.0M1004.40 1542.2V1548.2M1015.20 1355V1349.0M1015.20 1542.2V1548.2M1026.00 1355V1349.0M1026.00 1542.2V1548.2M1036.80 1355V1343.4M1036.80 1542.2V1553.8" stroke="#000" stroke-width="1.1" fill="none"/>
<text x="172.8" y="1582.2" text-anchor="middle" class="a">0</text>
<text x="280.8" y="1582.2" text-anchor="middle" class="a">10</text>
<text x="388.8" y="1582.2" text-anchor="middle" class="a">20</text>
<text x="496.8" y="1582.2" text-anchor="middle" class="a">30</text>
<text x="604.8" y="1582.2" text-anchor="middle" class="a">40</text>
<text x="712.8" y="1582.2" text-anchor="middle" class="a">50</text>
<text x="820.8" y="1582.2" text-anchor="middle" class="a">60</text>
<text x="928.8" y="1582.2" text-anchor="middle" class="a">70</text>
<text x="1036.8" y="1582.2" text-anchor="middle" class="a">80</text>
<path d="M172.8 1542.20H161.2M172.8 1533.92H166.8M172.8 1525.63H166.8M172.8 1517.35H166.8M172.8 1509.07H166.8M172.8 1500.78H161.2M172.8 1492.50H166.8M172.8 1484.22H166.8M172.8 1475.93H166.8M172.8 1467.65H166.8M172.8 1459.37H161.2M172.8 1451.08H166.8M172.8 1442.80H166.8M172.8 1434.52H166.8M172.8 1426.24H166.8M172.8 1417.95H161.2M172.8 1409.67H166.8M172.8 1401.39H166.8M172.8 1393.10H166.8M172.8 1384.82H166.8M172.8 1376.54H161.2M172.8 1368.25H166.8M172.8 1359.97H166.8" stroke="#000" stroke-width="1.1" fill="none"/>
<text x="149.3" y="1550.9" text-anchor="end" class="a">19.50</text>
<text x="149.3" y="1509.5" text-anchor="end" class="a">19.75</text>
<text x="149.3" y="1468.1" text-anchor="end" class="a">20.00</text>
<text x="149.3" y="1426.7" text-anchor="end" class="a">20.25</text>
<text x="149.3" y="1385.2" text-anchor="end" class="a">20.50</text>
<path d="M1036.8 1542.20H1048.4M1036.8 1511.00H1042.8M1036.8 1479.80H1048.4M1036.8 1448.60H1042.8M1036.8 1417.40H1048.4M1036.8 1386.20H1042.8M1036.8 1355.00H1048.4" stroke="#000" stroke-width="1.1" fill="none"/>
<text x="1085.8" y="1550.9" text-anchor="end" class="a">0</text>
<text x="1085.8" y="1488.5" text-anchor="end" class="a">20</text>
<text x="1085.8" y="1426.1" text-anchor="end" class="a">40</text>
<text x="1085.8" y="1363.7" text-anchor="end" class="a">60</text>
<text x="0" y="0" transform="translate(62.4,1448.6) rotate(-90)" text-anchor="middle" class="l" fill="#000">Signal [mA]</text>
<text x="0" y="0" transform="translate(1135.0,1448.6) rotate(-90)" text-anchor="middle" class="l" fill="#0000b4">P−1000 [hPa]</text>
<text x="604.8" y="1631" text-anchor="middle" class="l">Time [h]</text>
<text x="94.5" y="1634.3" class="l">2026−01−14</text>
</svg></body></html>
